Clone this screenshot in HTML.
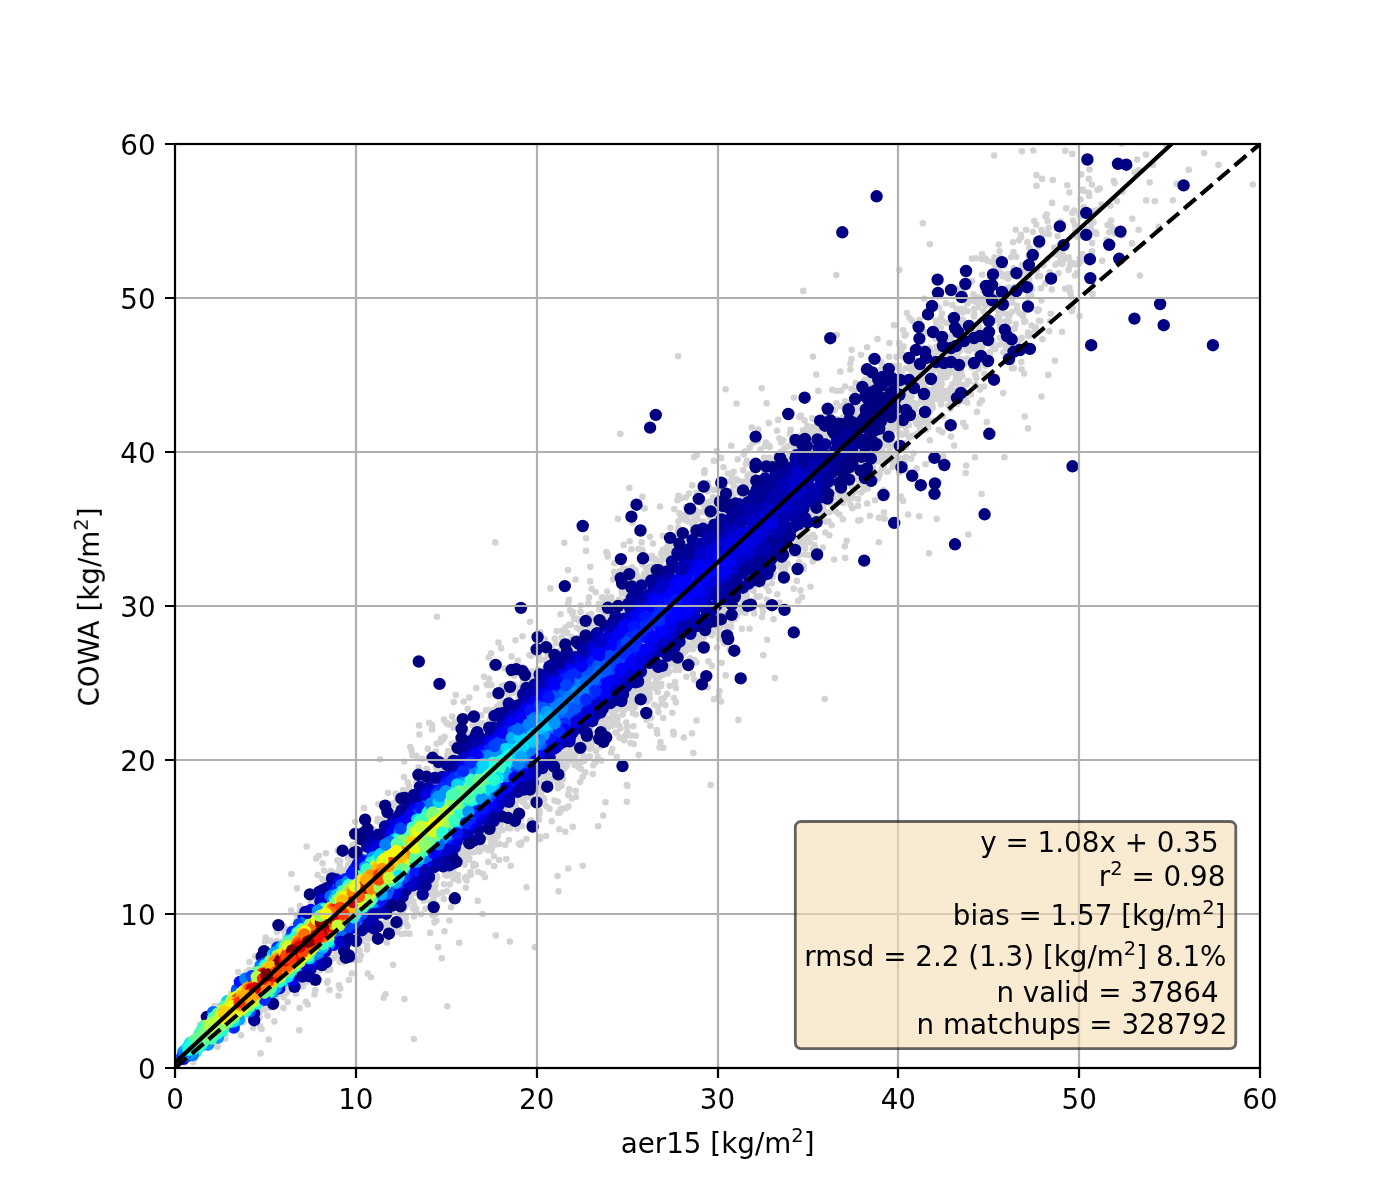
<!DOCTYPE html>
<html lang="en"><head><meta charset="utf-8"><title>COWA vs aer15</title>
<style>html,body{margin:0;padding:0;background:#fff;overflow:hidden}svg{display:block}text{font-family:"DejaVu Sans","Liberation Sans",sans-serif;font-size:27.78px;fill:#000}</style></head>
<body>
<svg width="1400" height="1200" viewBox="0 0 1400 1200">
<rect width="1400" height="1200" fill="#fff"/>
<clipPath id="c"><rect x="175.0" y="144.0" width="1085.0" height="924.0"/></clipPath>
<g clip-path="url(#c)" fill="none" stroke-linecap="round">
<path d="M327.1 982.8h0M985.5 334.2h0M882.5 451.8h0M1036.2 224.7h0M941.7 384.4h0M1049.7 272.2h0M990.3 276.9h0M644.3 694.4h0M582.8 865.7h0M285 935h0M1058.2 228.5h0M962.4 363h0M377.9 818.7h0M472.6 725.1h0M1116.9 201.1h0M813.4 432.8h0M380.8 824.2h0M905.8 446.9h0M430.2 932.9h0M451.9 743.9h0M329.5 990h0M285.9 993.5h0M968.9 362.1h0M700.5 637.8h0M1113.6 180.7h0M626.8 785.1h0M925.1 383.2h0M574.4 765.1h0M621.9 593.2h0M867.1 347.2h0M738.3 490.4h0M504.4 668.3h0M978.4 303.7h0M925.8 394.9h0M758.3 596.8h0M592.2 743.4h0M716 502.9h0M603.2 815.6h0M869.7 384.8h0M560.8 809h0M568 570.1h0M337.6 850.6h0M724.3 643.5h0M912.8 435.6h0M967 402.5h0M558.3 651.2h0M704.3 472.9h0M674.1 698.1h0M413.9 892.9h0M932.6 408.3h0M1079.6 215.1h0M835.8 511.6h0M473.4 845.2h0M895.8 456.2h0M611.1 752.5h0M421.2 914.3h0M414 916.5h0M1068.8 257.4h0M330.2 969.6h0M920.4 431h0M1069.9 265.6h0M533.1 648.9h0M567.1 763.9h0M737.5 602.8h0M499.2 860h0M742.4 607.4h0M416.4 755.9h0M1138.6 229.7h0M806 451.2h0M982 259.1h0M882.4 441.6h0M871.9 471.5h0M938.7 351.8h0M630.1 707.9h0M184.7 1062.8h0M586 550.9h0M784.9 570h0M861 354.8h0M322.5 863.2h0M946 303.3h0M1071.1 296.5h0M836.6 419.1h0M602 597.3h0M435.7 767.6h0M766.1 578.6h0M960.9 361.8h0M649.6 693.9h0M979.6 327.8h0M352.5 845.3h0M1011.8 312h0M1138.8 170.4h0M982.1 254.2h0M518.8 697.1h0M1093.5 222.2h0M1137.1 159.6h0M465.2 877.9h0M456.2 743h0M934.5 386h0M920.1 415.9h0M824.7 699h0M769.4 457.9h0M624.7 706.5h0M561.8 646.8h0M462.3 846.1h0M1031.2 286.4h0M1037.4 310.9h0M1032.9 231.8h0M678.5 495.7h0M735.7 610.2h0M917.2 424.2h0M436.6 743.8h0M636.5 574.3h0M799.1 562.4h0M1023.6 280.9h0M240.9 1035.2h0M918.2 368.6h0M1028.1 297h0M1031.6 325.5h0M534.3 653.3h0M530.1 621.7h0M968.3 534.5h0M419.4 734.6h0M1009.6 340.7h0M745.4 612.9h0M610.6 599.8h0M704.6 470.4h0M348.2 865.1h0M225.5 1035.3h0M550.8 648.2h0M1072.5 212.8h0M341.4 958.1h0M1092.1 251.3h0M879.5 472.7h0M1004.6 332.4h0M938.2 399.3h0M979.9 389.6h0M803.8 566h0M1020.6 290.3h0M708.6 633.7h0M903.2 330.3h0M686.4 676.7h0M953.8 372.2h0M495.3 542.4h0M725.4 482h0M983 285.3h0M1060.7 221.5h0M623.7 544.9h0M494.2 866h0M988.4 331.8h0M867.2 503.6h0M978.2 307.2h0M971 394.5h0M1047.6 220.9h0M619 725.3h0M620.4 728.3h0M662.9 549.7h0M901.7 373.3h0M445.1 874.9h0M599.2 609.5h0M702.4 503.7h0M756.7 596.7h0M754.2 613.5h0M354.8 959.9h0M688.5 648.7h0M265.1 941.5h0M617.8 518.9h0M761.5 606.2h0M899.4 270h0M1017.6 277h0M910.7 367.9h0M620.3 433.9h0M436.9 868.9h0M694.3 679.8h0M207.2 1020.2h0M646.3 572.7h0M517.9 700.5h0M696.5 492.7h0M998.5 311.3h0M952.4 427.5h0M712.9 634h0M1093 281.6h0M911.6 370.4h0M773.7 461.2h0M605.5 802.3h0M563.1 779.2h0M717.9 489.4h0M814.7 435.6h0M1099.9 188.5h0M576.6 753.6h0M920.2 361h0M675.9 688.1h0M742.4 611.8h0M362.4 940.9h0M1097.6 210.1h0M481.7 841.9h0M1065.2 258.7h0M572.8 612.1h0M877.5 339h0M675.3 670h0M795.4 544.3h0M809.4 431.5h0M965.7 473h0M651.7 685.3h0M966.2 465.6h0M875.4 475.1h0M887 445h0M1053.1 254.2h0M678.4 521.4h0M518.9 843.7h0M854.8 409.2h0M899.4 433.3h0M943.2 456.3h0M964.5 338.8h0M1058.5 225.9h0M590.1 581.4h0M1076.3 264.5h0M478.1 872h0M808.6 452.8h0M453.7 702.1h0M1013.4 252h0M517.8 660.5h0M897.6 464.1h0M947 323h0M692 533.1h0M978.6 368.7h0M583.4 755.8h0M836.3 275.1h0M268.7 1039.5h0M774.7 460.7h0M856.6 415.1h0M961 371.5h0M960.1 324.7h0M707.9 483.1h0M554.8 638.6h0M317.6 875h0M518.7 688.2h0M452.2 716.5h0M1048.3 374.9h0M447.3 1006.2h0M988 314.9h0M395.7 793.5h0M631 735.4h0M324.3 883.2h0M628.7 734.6h0M556.7 631.1h0M435.9 912.6h0M884 459.5h0M416.1 908.8h0M930.1 406.7h0M704.4 509.4h0M733.6 485.4h0M745.9 464.1h0M1066.2 208.2h0M521.4 666.9h0M923.9 392.9h0M1046.7 214.5h0M300.1 905.9h0M443.3 739.3h0M657.9 707.5h0M875.1 500.2h0M327.5 970.1h0M942.7 320.8h0M526.5 887.3h0M531.6 798.6h0M795.5 543.7h0M488.5 710h0M842.9 493.1h0M1092.5 293.9h0M432.5 915.3h0M339.9 865.4h0M934 398.9h0M899.2 343.4h0M533.7 677.2h0M726.3 626.3h0M812.1 435.3h0M953.3 391.5h0M1085 228.7h0M523.5 667.6h0M992.5 378h0M194.7 1057.6h0M1083.7 207h0M1065.4 150.9h0M922.8 361.2h0M655.1 558.9h0M731.8 476.1h0M1072.3 153.9h0M495.3 844.4h0M407.9 782.6h0M1055.6 264.6h0M626.6 596.9h0M596.1 751.2h0M832.3 389.7h0M515.5 803.5h0M1082.4 254.4h0M876.1 460.6h0M1023 316.7h0M879.9 474h0M563.5 769.5h0M803.1 430.3h0M974.9 332.1h0M1004.1 307.6h0M463.2 858.1h0M558 801.8h0M577.1 647.8h0M903.7 421.1h0M324.1 870.6h0M412.5 755.2h0M1069.3 192.5h0M942.3 432.3h0M685.3 651.4h0M1022.1 265.3h0M783.6 565.2h0M887 471.7h0M288.2 935.3h0M957.2 288.8h0M1007.6 303.2h0M867.8 488.4h0M281.1 941.6h0M577 627.7h0M850.6 504.9h0M830.8 415.4h0M654.4 704.8h0M1107.6 224.9h0M716.6 627h0M697.6 513.6h0M1016.2 352h0M630.9 698.4h0M560.1 812.5h0M247 972.4h0M822.1 517.3h0M310.6 901.3h0M1055 360.7h0M904.6 402.6h0M560.6 614.3h0M1070.7 262.7h0M962.5 376.1h0M1042.8 234.8h0M777.3 594.2h0M1000.8 273.3h0M791.6 443.2h0M620.5 570.9h0M386.3 922.2h0M569 599.9h0M366.7 826.7h0M762 617.1h0M858.8 480.5h0M933.1 352.4h0M604.3 611.8h0M614.2 571.8h0M809.8 542.2h0M890.5 459.7h0M753.3 586.5h0M915.6 360.6h0M580.2 782h0M883.5 490.4h0M1087.3 212h0M936.1 320.7h0M974.2 308.9h0M851.9 495.7h0M645.3 578.7h0M994.1 155.5h0M903.5 377.2h0M1002.5 313.1h0M1019.6 313.3h0M984.3 373.8h0M932.5 372.2h0M697.9 633.9h0M1250.6 133.2h0M665.9 550.7h0M531.2 671.2h0M923.8 331.6h0M518.3 799.7h0M614.4 563.2h0M694 457.1h0M388.1 792.8h0M723.2 633.2h0M600.7 746.4h0M719.2 638.5h0M763 462.8h0M1205.7 117.7h0M503.3 700.7h0M963.9 309.4h0M892.2 423.9h0M470.9 874.8h0M694.3 660.1h0M1122.4 235.5h0M1031.3 295.4h0M878.2 459.6h0M823.4 511.3h0M1203 118.6h0M589.5 748.8h0M654.8 687.9h0M950.6 367.5h0M824.8 407.3h0M677.6 531.8h0M498.5 693.2h0M589.9 756.2h0M650.4 725.8h0M501 824h0M957.9 402.7h0M797.7 536.4h0M660.5 560.8h0M514.1 675.8h0M1069.3 287.8h0M327.2 967.3h0M978.6 335.1h0M527.4 806.3h0M749.3 474.4h0M590.3 566.8h0M1091.9 184.6h0M705.9 504.2h0M892.2 461.4h0M762.9 611.5h0M812.7 561.4h0M638.7 755.1h0M968.9 350.7h0M383.7 997.8h0M897.4 384.3h0M1082.6 189.5h0M922.1 335.3h0M708.9 487.2h0M1007.5 314.4h0M497.1 706.7h0M961.1 346.7h0M640.2 578.6h0M625.2 735.9h0M767.2 639.8h0M649.9 566.5h0M807.8 537.2h0M453.7 751.9h0M1041.5 396.5h0M552.6 650.3h0M951 388.1h0M793.7 588.7h0M697.5 519.3h0M924.3 298.8h0M746.5 595.6h0M479.1 722.9h0M697.2 645.1h0M354.3 944.2h0M665.3 705.1h0M955.4 390.9h0M269.2 1001.8h0M1036.5 185.9h0M658.4 712.2h0M646.6 719.7h0M453.6 871.7h0M652 570.4h0M987.5 260.7h0M479.9 723.8h0M1034.3 221h0M681.5 664.1h0M772.8 577.1h0M562.5 775.8h0M616.7 756.7h0M1036.7 270.1h0M1025.9 289.3h0M646.6 575.8h0M981.9 400.4h0M488 850h0M627.8 696.7h0M571.9 637h0M1101.5 204.5h0M692.9 674h0M1040.1 276.1h0M917.2 391.5h0M942.9 416.2h0M831.6 525.3h0M878.6 476.5h0M504.7 703.4h0M485 877.1h0M642.4 496.9h0M601.4 726.3h0M888.8 426.8h0M917.6 433.9h0M766.7 599.6h0M607.7 556.4h0M259.5 1012.6h0M1037.5 309.2h0M530.1 821h0M574.6 757.2h0M483 873.9h0M920.4 417.3h0M758.3 429.6h0M751.2 587.7h0M920.8 398.7h0M767.2 605.8h0M813 356.6h0M972.1 281.1h0M327.6 981h0M546.1 806.1h0M828.6 521.4h0M858.5 486.1h0M510.1 828.2h0M672.5 712.8h0M711.8 635.2h0M790 542.8h0M592.8 774h0M936.8 519.1h0M543.6 642.4h0M1035.7 327.4h0M344.6 870h0M799 555h0M829 512.2h0M535.7 792.1h0M1052.8 180h0M648.6 678.6h0M935.1 334.7h0M591.6 588.8h0M538 787.5h0M662.8 535.8h0M812.9 418.7h0M456.5 751.5h0M937.4 360.3h0M1161.8 138.7h0M987.5 360.9h0M567.7 746.1h0M965.3 393h0M709.7 517.6h0M511.5 656.4h0M641.6 542.4h0M595.7 592.3h0M861.1 492.5h0M990.4 298.8h0M405.7 933.6h0M907.2 420.5h0M712 666.1h0M423.4 900.7h0M909.6 410.3h0M367.8 973.6h0M949.9 363.5h0M721 701.6h0M328.6 956.4h0M734.8 618.9h0M412.9 908.5h0M730.8 636h0M928.5 310.3h0M975 457.3h0M1026.3 289.5h0M259.4 1017.4h0M911.5 414.4h0M1092.1 243.1h0M901.6 468.7h0M1081.2 174.4h0M803.2 290.9h0M546.2 836h0M489 678.9h0M1156.6 116h0M986.8 422h0M911.8 388.9h0M714 699.3h0M582.7 777.1h0M1020.8 234.9h0M1029.2 282h0M925.5 464.2h0M507.8 826.5h0M969.9 300.6h0M723.5 467.2h0M725.7 675.4h0M854.9 390.9h0M1000 321.1h0M926.4 423.5h0M909.3 437.2h0M669.6 685.9h0M600.8 727.5h0M911 358.9h0M498.5 642.5h0M575.1 755.8h0M1019.3 340.4h0M595.7 723h0M588.3 603.4h0M486.1 710.3h0M1021.7 337.9h0M940.8 327.3h0M974.6 301.3h0M348.1 870.2h0M427.4 769.5h0M713 497.4h0M451.2 873.8h0M698.2 637.5h0M1252.8 184.5h0M293.4 925.5h0M922.7 400.9h0M488.7 657.5h0M453.5 727.6h0M611.2 597.3h0M1029.3 247.9h0M1089.5 169.5h0M789.3 455h0M813 549.3h0M455 722.4h0M989.7 356.3h0M986.6 329.8h0M955.4 348.9h0M684.5 646.5h0M929 347.8h0M1013 242.3h0M291.6 928.5h0M817.2 516.3h0M438.1 947.1h0M874.8 370h0M408.2 790.2h0M940.9 381.2h0M802 597.3h0M922.9 363.7h0M461.4 857.6h0M963.7 364.2h0M299.6 1008.1h0M694.3 517.1h0M521.5 842.5h0M285.1 940h0M1028 332.5h0M645.9 568.1h0M1014.7 328.7h0M1015.3 345.3h0M760.6 449.5h0M712.8 632.6h0M249.5 962h0M966.3 360h0M998 316.3h0M972.8 364.7h0M843.7 497h0M265.7 937.5h0M686.3 537.1h0M982.2 274.8h0M519.6 814.4h0M949.3 392.9h0M1046.8 233.5h0M622.7 714.5h0M1008.1 278.5h0M905.8 470.4h0M382.4 936.6h0M253.1 1027.8h0M822 431.6h0M442.3 769.2h0M390.1 925h0M678.3 669.4h0M442.7 892.6h0M1083.1 190.7h0M736.6 403.5h0M546.8 652.6h0M261.4 1008.6h0M849.4 500.1h0M370.9 977.2h0M909.8 473.6h0M515.3 672.2h0M958.8 391.9h0M731 626.9h0M983 290.5h0M543.6 798h0M882 365.3h0M612.9 579.6h0M725.6 389.3h0M1015.8 324.1h0M955.6 379.3h0M434.6 886.9h0M768.9 591h0M426.3 768.8h0M271.9 950.5h0M719.7 633h0M575.9 797.1h0M716.7 451.3h0M565.3 831.8h0M1070.3 292.2h0M624.2 707.1h0M999.8 326.2h0M851.5 359.1h0M928.1 380.2h0M809.4 555h0M1075 225.2h0M652.9 543.6h0M855.7 383.1h0M449.4 920.5h0M1024.2 373.5h0M1056.3 250.7h0M1030.2 333.6h0M895.8 443h0M982.3 285.9h0M844.8 546.3h0M367.1 949.5h0M801.2 534.5h0M660.5 742.1h0M338.5 995.8h0M651.3 717.7h0M973.9 327.7h0M634.8 707.1h0M919.2 377.8h0M1096.1 211h0M982.1 347.2h0M231.3 993.7h0M891.2 422.3h0M296.9 888.4h0M577.2 618.7h0M497.1 665.2h0M403.7 915.3h0M974.3 314.6h0M752.9 443h0M736.8 615.4h0M851.6 486.9h0M515.1 815.8h0M817.3 429.5h0M743.3 470.3h0M716.3 498.2h0M932.6 358.6h0M930.1 400.2h0M631.4 549.2h0M652.3 674.8h0M548.3 772.5h0M357.4 946.1h0M771.8 575h0M606.3 598.3h0M1019.3 275.8h0M696.9 455.1h0M966.1 384.4h0M1067.3 185.2h0M1036.4 175.1h0M586.1 538.2h0M646.7 687.8h0M1017.1 305.7h0M525.3 797.9h0M591.5 740.6h0M929.9 440.3h0M402.5 909.8h0M567.2 632.8h0M1012.4 302.6h0M950.3 408.8h0M1041.5 230.1h0M328.3 955h0M266.4 940h0M888 427.6h0M899.8 418.7h0M1084.9 236h0M641.6 581.4h0M311.4 904.4h0M1134.6 172.6h0M879.8 451.9h0M929.7 348.2h0M534.7 675.2h0M501.6 818.9h0M764.3 470.7h0M584.1 761.1h0M1113.5 229.8h0M840.3 371.6h0M534.8 947.2h0M1060.5 261.2h0M984 386.5h0M919.5 319.8h0M740.9 609.1h0M923.6 378.1h0M1003.9 335.5h0M225.2 1038.8h0M874.6 454.8h0M1014 287h0M886.8 425.8h0M739.6 493.3h0M935.9 378h0M635.9 735.8h0M731.3 445.7h0M911.1 458.7h0M945.2 337.9h0M1062.8 253.8h0M944 391h0M512.5 693.1h0M873.2 468.2h0M504.4 691.1h0M850.3 369.5h0M404.3 761.5h0M967.2 358.5h0M605.7 721.5h0M339.8 962h0M485.3 848h0M413.9 1039h0M1065.1 288.8h0M967.8 325.4h0M981.6 494h0M644.5 508.4h0M626.9 801.7h0M1022.5 270.1h0M969.4 350.3h0M925 403.4h0M833.3 509.6h0M673.8 734.4h0M663.2 718h0M460.5 862.1h0M898.5 459.8h0M446.9 891.3h0M724 611.9h0M800.7 536.5h0M977 353.1h0M1057.6 236.1h0M903.9 419.4h0M315.3 990.4h0M914.8 403.2h0M989.6 343.7h0M531.3 820.2h0M359.5 959.9h0M810.5 427h0M1118.1 231.3h0M1028.6 255.9h0M764.1 457.5h0M580.9 768.7h0M945.6 346.4h0M794 397.5h0M568.3 868.5h0M730.6 634.7h0M478.1 847.3h0M506.3 859.1h0M334.2 958.1h0M991.6 305.6h0M1089.2 196h0M1063.3 224.3h0M790.6 429.9h0M1012.5 292h0M692.7 649.2h0M949.2 337.1h0M627.3 597.9h0M915.6 421.7h0M668 673.4h0M568.9 746.4h0M882.1 443.1h0M1106.7 239.7h0M967.8 311.2h0M469.3 858.3h0M910.1 364.3h0M983.5 311.4h0M771.7 472.5h0M789.5 454.2h0M482.9 723.3h0M513.9 806.5h0M915.8 370.1h0M870.2 379.6h0M910.3 359.7h0M508.2 828.1h0M1018.9 240.3h0M864.4 489.7h0M561.1 759.1h0M761.7 388.2h0M217.6 1046.9h0M430.5 893.7h0M663.3 747.7h0M283.4 1008h0M936.5 323.4h0M480.2 850.9h0M482.9 846.2h0M928.2 427.2h0M728.4 610h0M441.7 958.3h0M694 637h0M435.5 881.7h0M449.7 884.4h0M424.6 900.1h0M373 829.1h0M669.1 671.9h0M675.1 682.1h0M667.1 694.1h0M795.3 530.7h0M930.6 369.6h0M901 496.6h0M565.9 753.8h0M522.8 682.2h0M940.5 374.5h0M975.3 374.2h0M591.1 613.9h0M722.8 607.4h0M967.4 303.5h0M1003 276.4h0M533.2 680.8h0M872.5 464.1h0M1037.8 276.3h0M909.4 317.7h0M733.2 495.8h0M731.4 620.8h0M1016.3 256.8h0M941.3 361.8h0M1021.1 237.3h0M1049.2 331.2h0M994.5 257.3h0M617.8 716.9h0M1152.9 165.1h0M740 600.8h0M487.9 837h0M615.5 710.4h0M938.7 391.3h0M845.1 386.5h0M434.4 774.2h0M497 694.2h0M893.4 454.1h0M443.8 899h0M1029.2 279.3h0M444.6 736.9h0M821.3 425.5h0M1013.9 368.3h0M582.6 625.9h0M448.8 724.4h0M950.9 322h0M1132 243.4h0M984.9 258.2h0M568 603.8h0M520.4 845.1h0M1009 321.8h0M396.9 798.9h0M442 869.3h0M409.9 900.1h0M392.1 912.1h0M887.3 386.6h0M657.3 733.6h0M385.5 994.3h0M284.5 987.3h0M908.9 390.9h0M941.9 396.4h0M1040.4 321h0M627.4 785.9h0M920.9 430.7h0M1111.2 220.6h0M623.2 568.6h0M718.8 487.7h0M970.7 336.7h0M975.4 363h0M729.6 649.2h0M519.3 700.2h0M453.6 878.9h0M437.2 877.8h0M811.1 448.9h0M659 676.9h0M889.1 356.7h0M224.6 1031.6h0M797.9 543.4h0M796.9 580.9h0M575.7 790.7h0M929.4 399.8h0M826.2 521.5h0M300.4 985.7h0M312.3 899.7h0M483.9 676.8h0M962.7 312.6h0M994 295.6h0M1091.4 223.7h0M884.8 426.3h0M540.1 839.1h0M350.8 861.7h0M1093.4 210.9h0M404 777h0M970.2 330.2h0M672.7 663h0M827.5 512.5h0M414.5 905.9h0M661.5 698.7h0M963 341h0M939 307.5h0M809.6 440.2h0M973.9 347.9h0M717.1 507.6h0M465.4 845.5h0M269.5 1007.8h0M1020 273.8h0M988.6 340.3h0M328.7 873.3h0M578.8 620.8h0M496.8 827.1h0M622 709.2h0M914.8 375h0M687.5 515.1h0M539.2 783h0M214.6 1006h0M387 926.7h0M481.1 843h0M1146.2 200.4h0M787.5 547.2h0M958.8 341.2h0M359.5 950.6h0M296.3 921h0M903 397h0M473.8 721.1h0M631.1 703.2h0M489.5 695h0M922.6 410.2h0M942.4 354.6h0M509.8 941.6h0M931.7 403h0M361 955.5h0M504.7 685h0M677.4 500.2h0M318.7 855.9h0M800.1 530h0M436.9 616.8h0M911.1 388.9h0M951 404.8h0M643.2 688.9h0M1006.3 320.8h0M383 819.3h0M538 669.4h0M1204.2 153.1h0M510.8 865.7h0M994.8 308.3h0M919.7 351.6h0M992.7 346.3h0M937.3 387.2h0M773.6 619.2h0M887.9 471.5h0M901.8 434.8h0M1027.4 242.2h0M834.1 559.5h0M593.2 765.3h0M499.2 821.8h0M510.1 673.9h0M952.6 384.2h0M916.6 468.4h0M606.5 612.9h0M1045.5 216.3h0M732.8 652.2h0M810.5 586.8h0M1021.8 151.2h0M356.9 933.2h0M913.1 409.3h0M999 317.1h0M985.8 334.6h0M519.7 689.6h0M871.1 468.8h0M653.4 574.7h0M800.9 415.5h0M491.1 653.3h0M560.7 650.5h0M644.7 684.7h0M536.9 792.4h0M627.5 569.1h0M451 907.3h0M633 713.1h0M621.3 600.7h0M1004.4 457.3h0M439 770.9h0M920.1 374h0M1026.6 275.9h0M914.9 383.9h0M698.4 644.1h0M1051.8 289.5h0M238.1 972.1h0M914.6 388.2h0M466.6 880.5h0M283.6 926.8h0M931.1 361h0M718.6 696.2h0M927.9 390.5h0M894 325.3h0M495.8 935.6h0M967.1 350.2h0M833.4 497.8h0M901.8 356.3h0M619.7 708.5h0M1023.1 314.4h0M962.9 319.7h0M499.1 843.9h0M936.4 306.6h0M948.3 405.5h0M570.8 624.7h0M501.2 648.2h0M604.7 601.5h0M818.4 390.9h0M522.1 826h0M633.4 726.3h0M530.4 795.7h0M188 1059.3h0M908.7 388.4h0M1172.9 200.2h0M909.1 404.3h0M942.9 356.9h0M749.7 447.6h0M999.8 272.6h0M833.8 491.8h0M582.6 636.4h0M769.6 447h0M1068.7 269.9h0M1054.2 247.6h0M526 805.4h0M340.1 861.1h0M390.7 912.8h0M1004.6 298.9h0M558.2 812.9h0M738.4 719.9h0M286 937.9h0M952.7 350.7h0M602.4 724.1h0M977.5 297.4h0M1011.2 257.1h0M907.6 384.4h0M1110.4 205.8h0M958.7 311.6h0M490.1 719.7h0M708.4 512.6h0M591.3 627.9h0M978 337h0M670.4 527.8h0M719.8 629.1h0M484.1 836.6h0M536.3 672h0M850.4 363.5h0M906.9 313.1h0M999.5 251.2h0M666.3 558.8h0M1109.3 232.3h0M798.5 539.8h0M905.5 426.9h0M435.8 913.8h0M562.1 630.8h0M901.2 348.9h0M753.5 473.3h0M804.6 420.6h0M945.5 361.5h0M892.6 430.4h0M838.9 501.2h0M306.3 982.1h0M463.7 701.5h0M428.5 891.6h0M512.5 812h0M1071.8 311.3h0M428.8 888.3h0M610.2 599.2h0M606.1 610.6h0M431.8 882.8h0M686 507.3h0M738.8 480.7h0M910.4 400.8h0M926.8 415.7h0M627.1 732.1h0M929 553.2h0M690.3 658.4h0M585.3 772.4h0M425.1 774.1h0M839.9 494.9h0M260.6 1053.4h0M429.2 722.9h0M327.5 881.7h0M778.3 566.5h0M937.4 347.3h0M485.7 847.7h0M853.3 412.8h0M516.6 800.1h0M852.4 508.2h0M509.4 699.4h0M964 331.3h0M629.3 581.3h0M498 833.8h0M1013.8 268.4h0M868.2 385.6h0M919.2 516.2h0M1218.4 164.8h0M487.6 685h0M878 478.7h0M572.7 826.9h0M454.2 747.6h0M843.1 502.9h0M882.8 391.5h0M976 377.3h0M589.1 597.4h0M906.1 457h0M382.5 824.5h0M1075.6 235h0M744.8 451.5h0M597.8 757.2h0M752.2 466h0M418.7 767.3h0M693.8 519.2h0M584.6 758.4h0M1057.5 263.2h0M957.7 352h0M792.3 456.7h0M674.3 509.1h0M553.4 778.6h0M922.8 223.3h0M455.8 695.1h0M532 671.9h0M1079.5 315.9h0M348.3 867h0M409.5 933.7h0M918.5 370.4h0M879.4 455.4h0M243.3 1022.3h0M444.7 774.1h0M249.5 969.8h0M829.4 535.2h0M948.5 398.8h0M911.1 376.3h0M514.7 684.6h0M565.4 627.5h0M910.8 412.9h0M630.6 743.1h0M611.4 725.5h0M331 871.1h0M1145.4 116.2h0M789.9 433.7h0M401.6 934h0M319.3 970.4h0M580.7 605.5h0M653.9 571.4h0M563.6 757.7h0M812.8 534.8h0M338.3 850.3h0M709.8 627.1h0M404 908.1h0M688 521.3h0M962.2 334.5h0M570.1 610.4h0M863 382.2h0M692 733.2h0M1038.6 246.6h0M998.8 244.5h0M900.7 458.5h0M699 631.1h0M475.8 864.9h0M840.7 406.2h0M568.4 806.2h0M1088.5 192.8h0M249.3 1016.4h0M781.2 572.3h0M932.2 379.7h0M725.6 625.3h0M464.7 864.7h0M379.9 759.3h0M661.2 683.8h0M985.4 365.8h0M952.3 305.1h0M1111.4 227h0M738.9 488.3h0M403 790h0M660 506.5h0M741.7 493.6h0M1119.7 231.2h0M858.1 407.3h0M678 356.2h0M834.9 410.1h0M999.2 344.7h0M656.3 679.6h0M953.9 343.1h0M923.3 389.4h0M469.3 697.6h0M958.8 398.5h0M405.4 906.5h0M778.1 419.9h0M434.4 922.4h0M416.3 891.6h0M566.1 755.4h0M734.7 601.9h0M757.7 440.8h0M340.3 988.6h0M355.1 821.8h0M1052.1 202.9h0M1045.4 283.4h0M559.4 829.2h0M392.8 928.8h0M612.8 725.7h0M580.5 612h0M588.8 742.9h0M483.7 834.8h0M783.1 567.9h0M422.5 774.4h0M491.2 844.1h0M630.4 577.3h0M997.6 286.4h0M836.5 403.3h0M393.8 804.9h0M300 911.1h0M647.4 678.4h0M696.5 720.5h0M610.5 718.8h0M364.1 808h0M1011.2 329.4h0M678.1 527.9h0M1146 154.5h0M923.5 383.7h0M973.2 360.4h0M721.6 662.9h0M747 460.9h0M634.2 579h0M493.7 710.4h0M544.5 780.2h0M777 430.8h0M794.8 545.6h0M624.1 709.9h0M567 765.1h0M316.1 858.4h0M611.3 717.2h0M531.1 655.8h0M535.7 789.4h0M1077.8 237h0M638.2 689h0M847.6 494.9h0M904.7 335.8h0M655.9 560.1h0M522.6 636.3h0M312 903.3h0M476.5 722h0M1154.8 201.2h0M845.1 401.4h0M564.3 542.7h0M935.5 352.3h0M980.5 345.8h0M1042.1 178.9h0M776.7 563.1h0M850 403.3h0M871.6 476.2h0M1027.2 350.5h0M460.5 851.6h0M702.2 511.8h0M832 492.5h0M200.1 1024.5h0M296.2 993.8h0M548.6 778.5h0M556.9 780.3h0M665.6 567.4h0M934.2 393.6h0M800.5 590.4h0M399.6 926.8h0M463.4 852.4h0M979.6 403.2h0M467.7 708.8h0M989.4 321.4h0M539.9 782.3h0M937.6 350h0M685.9 497.3h0M1074.3 210.5h0M946.6 356.5h0M598.1 826.2h0M273.1 996.2h0M844.6 498.6h0M519.1 693.1h0M830.4 503.2h0M458.4 880.6h0M721.4 615.3h0M698.2 643.1h0M934.5 353.1h0M714.5 624.6h0M1016.8 309.8h0M915.9 363.4h0M595.1 762.8h0M749.7 484.8h0M979.9 298.3h0M521.1 692.1h0M645.6 679.3h0M747.6 475.9h0M803.5 569h0M497.5 836.5h0M823.5 505.2h0M780.7 452h0M931 460h0M468.2 859.7h0M1005.7 348h0M448.1 751.1h0M518.1 671.5h0M572.4 613.7h0M753.1 488.9h0M368.7 938.5h0M753.7 591.1h0M526.9 793.9h0M1027.7 271.8h0M444.5 931.3h0M935.5 392.5h0M929.8 244.2h0M766.1 586.2h0M903.7 446.6h0M516.2 800h0M804.8 543.6h0M417.7 778.8h0M435.5 885h0M650.7 671.9h0M743.7 454.6h0M578.1 742.8h0M989.8 352.4h0M1121.8 143.5h0M912.4 379h0M806.6 530.2h0M859.1 462.1h0M782.6 441.3h0M302.7 986.4h0M836.1 504.5h0M675.9 702.4h0M334 950.3h0M703.2 521.7h0M540.4 632.3h0M973.8 336.3h0M718.4 610.4h0M606.1 727.9h0M921 382.2h0M915.5 409.3h0M865 464.6h0M629.7 541.3h0M1072.8 307.5h0M999.9 312.8h0M1075 275.6h0M903.6 346.6h0M216.7 1045.4h0M631.5 691.2h0M453.4 869.9h0M615.5 732.5h0M270.6 940.8h0M1010.9 343h0M904.5 387.8h0M1000.3 257.9h0M673.2 731.8h0M1028.9 262.6h0M458 856.8h0M619 599.5h0M564.3 647.8h0M776.2 455.8h0M696.7 510.6h0M518.2 667.5h0M703.8 637.6h0M248.6 1013.5h0M1003.8 341.8h0M427.8 748.9h0M466.3 731.1h0M768.9 445.6h0M627.5 691.2h0M629.6 517h0M725 624.5h0M577.3 762.1h0M822.8 547.6h0M1047.2 259.3h0M930.8 380.9h0M881.4 362.3h0M961.2 374.4h0M447.1 755.6h0M845.2 558.1h0M635.9 701h0M661.8 703h0M730.1 500.6h0M503.5 692.2h0M1025.3 321.2h0M499.9 708.9h0M746.5 594.3h0M892 365.5h0M924.8 348.7h0M486.7 684.5h0M1097.5 189.7h0M975.7 341h0M384.1 924.6h0M992.9 262.3h0M899 368.3h0M958.8 370.6h0M508.6 694.9h0M709.7 501.7h0M512.3 800.1h0M464.2 843.6h0M959 378.3h0M909.6 381.6h0M1090.9 229h0M430.7 902.3h0M587.8 744.5h0M650 536.7h0M663.7 698.2h0M1080.3 261.4h0M1058.7 255.4h0M260.2 1026.4h0M338.9 985.4h0M362.1 936.1h0M541.3 792.5h0M674.7 662.2h0M727.9 473.5h0M568.5 793.6h0M931.5 334h0M1004.3 265.6h0M378.3 804.1h0M949.9 359.5h0M379.1 924.9h0M582.2 739.2h0M647.4 701.6h0M928.9 376.5h0M976.1 299.3h0M653.6 565.9h0M464.5 843.1h0M626.3 600.3h0M681.3 648.7h0M971.8 340.3h0M564.8 757.1h0M1028 428.4h0M575.6 579.5h0M557.5 876.1h0M957.4 333.1h0M441 738.6h0M860.3 403.3h0M555.9 643.2h0M932.6 357h0M495.2 833.1h0M433.2 900.1h0M695.3 522.9h0M897.4 427.5h0M963.6 291h0M644.3 689.5h0M938.8 429.7h0M291.1 910.6h0M807.5 426.3h0M214.9 1007.9h0M629.3 487.9h0M987.8 335.2h0M1009.3 315.6h0M942.5 365.6h0M1024.7 416.6h0M884 465.5h0M351.7 865.2h0M666.7 553.6h0M432 725.1h0M926.2 429.6h0M405.8 917.7h0M520.5 669.3h0M475.7 721h0M971.9 258.6h0M282.2 929.6h0M785.1 569.3h0M956.3 330h0M457.6 755.3h0M890.3 421h0M617.8 705.3h0M952.7 334.4h0M947.2 365.3h0M946.8 370.3h0M561.8 637.4h0M1026.1 229.7h0M450.3 756.1h0M805.2 548.4h0M917.9 403.7h0M476.2 688.1h0M581.6 632.9h0M727.1 613.1h0M512.5 809.6h0M230.8 1029.7h0M759.9 596.2h0M684.9 514.7h0M410.5 791.7h0M588.4 615.4h0M933.5 382.6h0M764.8 446h0M936.5 346.5h0M633.7 744h0M585.2 741.9h0M937.3 369.5h0M327.7 958.4h0M599.2 616.9h0M679.1 669.9h0M660.2 673.2h0M267.5 1015.6h0M947.8 370.7h0M805.1 554.4h0M499.7 704.1h0M632.1 704.6h0M813.7 427.4h0M473.3 866h0M826 434.1h0M860.3 520.1h0M683.3 644.7h0M562.9 808.6h0M816.2 374.6h0M926.7 403.9h0M558.1 788.3h0M539.1 655.2h0M815.1 548.1h0M632.7 522.8h0M580 737.3h0M528.1 674.3h0M612.2 749h0M615.8 717.4h0M1015.1 294.9h0M648.1 684.6h0M851.4 475.1h0M612.9 722.4h0M922.8 376.1h0M306.6 846.5h0M902.7 347.4h0M956.9 354.9h0M1096.5 234h0M659.3 670.2h0M429.8 883.5h0M1030 294h0M650.6 667.9h0M992.6 306.7h0M844.8 406.7h0M809.3 508h0M638.4 549h0M878.9 370.6h0M264.3 1009.5h0M1005.9 345.3h0M753.7 608.4h0M957.2 362.4h0M325.8 853.3h0M746.9 599h0M997.1 298.8h0M615.9 575.9h0M440.3 742.2h0M934.9 329.1h0M482.6 914.1h0M436.4 920.8h0M220 1005.5h0M605.2 618.7h0M276.8 941.1h0M984 288h0M1003.4 352.3h0M1088.7 178.8h0M823.6 504.3h0M745.4 602.5h0M843.2 416.9h0M907.5 395.8h0M938.7 377.5h0M336.5 873.2h0M917.2 373.2h0M980.7 350.5h0M956.3 374.9h0M314.5 896.3h0M633.1 695.1h0M598.7 603.9h0M669.6 663.2h0M931.7 358.4h0M549.5 808.9h0M900.2 352.3h0M1040.7 288.3h0M632.3 567.4h0M322.4 967.7h0M724.5 516.3h0M963.2 422.7h0M818.1 558.4h0M763.3 655.2h0M469.1 852.4h0M468.7 859.7h0M299.3 1030.2h0M942.5 399.6h0M569.7 641h0M1032 288.9h0M929.5 404.4h0M946.7 377.1h0M982 320.8h0M907.3 379.4h0M367.2 945.4h0M933.3 389.3h0M940.6 371.7h0M443.9 719.6h0M522.8 802.1h0M446.4 722.9h0M1004.5 339.5h0M283.5 992.8h0M578.5 647.6h0M407.8 794.2h0M444 884.2h0M488.8 723h0M308.1 979.8h0M977 411.9h0M1102.3 260.7h0M392.8 812.5h0M544.9 668.3h0M977.6 346.7h0M422.4 898.3h0M812.4 418.3h0M874.4 387h0M642.5 691.4h0M647.6 676.4h0M563.1 747.5h0M603.4 608.7h0M895.2 422.9h0M1004.5 333h0M768.8 423.1h0M932.8 307.8h0M989.9 360.3h0M517.2 828.6h0M908.1 514.5h0M977.1 352.4h0M1080.6 199.5h0M489.7 721.4h0M506.3 805.7h0M554.5 800.5h0M399 916.1h0M912.2 320.9h0M683.8 737.6h0M713.9 490.1h0M1021.3 362.1h0M900.9 424.8h0M646.1 670.8h0M478.9 851.6h0M712 508.4h0M1022.7 284.4h0M1062 331.8h0M393.1 964.7h0M507.5 812.1h0M1058.5 273.2h0M973.9 316.4h0M667.2 566.5h0M975.4 336.9h0M544.9 659.5h0M927.7 394.1h0M684.8 519.7h0M592.1 748h0M725.3 603h0M693.4 753h0M637.2 531.8h0M948.2 374.1h0M571.9 798.6h0M490.6 838.8h0M958 325.8h0M604.7 713.8h0M918.9 424.5h0M1078.9 263.7h0M889.8 449.5h0M906.3 432.1h0M839.5 514.5h0M1015.3 275.6h0M606.4 552h0M557.3 782.1h0M892.2 442h0M493.9 856.2h0M354.2 862.2h0M693.7 511.9h0M902.7 402.8h0M568.3 795h0M291.4 874h0M490.6 848.7h0M305.2 979.4h0M692.5 525.6h0M646.7 556.6h0M980.3 387.1h0M432 729.4h0M841.1 390.5h0M749.6 628.8h0M941.9 348.9h0M522.5 683.7h0M955.3 365.1h0M635.4 570.1h0M557.5 783.1h0M623.7 573h0M942.6 396.1h0M545.6 771.4h0M439.9 766.5h0M565.6 767.2h0M466.2 848.4h0M858.3 520.6h0M355.8 843.7h0M910.7 417.9h0M558.3 754.7h0M528.7 682.4h0M929.1 394.4h0M971.7 367.6h0M901.5 387.9h0M407.5 926.3h0M348.1 858h0M447.1 875.8h0M333.2 872.8h0M733.7 471.8h0M908.2 397.5h0M911.3 369.9h0M571.6 760.1h0M521.1 818.7h0M904.1 354.7h0M502.5 830h0M623.5 575.1h0M937 378.8h0M493.7 836h0M896 387.6h0M825.3 436.3h0M539.7 811.1h0M662 559.9h0M918.3 419.8h0M966.7 346.8h0M578.6 767.3h0M787.8 446.5h0M1081.9 254.6h0M833.1 488.3h0M930.6 421.7h0M642.1 564.1h0M923.4 347.9h0M864.8 402.1h0M550.4 588.4h0M698.3 641.7h0M470.4 872.1h0M550.3 772.3h0M475.1 724.8h0M593 740.1h0M994.3 276.9h0M716.8 516.6h0M284.4 990.6h0M699.8 642.7h0M852.7 497.5h0M751.7 427.5h0M287.8 1002.1h0M961.8 308.7h0M1122.4 191.6h0M255.4 968.4h0M708.5 661.4h0M348.1 870.6h0M958.9 380h0M912.8 402.5h0M935.7 395.3h0M742.2 498.1h0M689.7 646.9h0M943.1 374.1h0M413.4 901.2h0M1109.6 140.6h0M593.1 619.2h0M944.5 334h0M899 365.8h0M467.8 733.8h0M365.9 935.6h0M958.8 345h0M422.4 758.7h0M398.3 915.4h0M909.7 386.2h0M998 268.5h0M855.3 406.3h0M312.6 900.2h0M783.3 440.4h0M787.9 563.8h0M890.5 443.6h0M825.3 532.5h0M510.3 807.3h0M656.7 730h0M880.5 436.8h0M598.1 718.9h0M793.4 553.7h0M913.5 453.6h0M644.2 675.9h0M962.1 339.4h0M1081.2 216h0M814.6 537.2h0M896.7 420.4h0M866.6 386.1h0M570 751.1h0M561.6 785.8h0M708.9 524h0M488.3 861.9h0M446.9 758.9h0M986 329.7h0M342.7 962.1h0M987.4 303.8h0M960.9 370.4h0M491.6 684.9h0M945.7 391.2h0M614.7 602.8h0M925.9 357.2h0M741.8 628.8h0M411.6 750.4h0M944.6 350.7h0M902.4 379h0M627.1 726.8h0M997 295.7h0M617.4 719.5h0M668.3 666.4h0M283.5 997.1h0M603.9 719h0M1028.4 281.1h0M349.7 854.9h0M857.5 415.9h0M659.6 747.4h0M540.5 780.9h0M683 542.1h0M464.9 727.5h0M927 374h0M924.1 371.7h0M638.2 580.7h0M784.1 448.9h0M558.5 891.2h0M781.1 442.5h0M724.1 486.8h0M798.2 600.9h0M604 611h0M434.2 889.9h0M995 349h0M540.3 836.9h0M649.7 698.4h0M890.8 454.3h0M1122.7 165.5h0M965.9 399.9h0M665.7 549.1h0M692.3 485.4h0M307.7 1004.5h0M864.9 379.8h0M1165.6 144h0M680.9 498.2h0M869.9 515.8h0M710.6 785h0M651.9 555.7h0M436.5 875.6h0M799.3 417.1h0M435.9 751.6h0M932.4 405.8h0M458.1 875h0M975.6 384.6h0M657.7 692h0M1115.3 233.6h0M606.7 710.9h0M900.2 416.9h0M933.8 393.3h0M590.9 729.9h0M540.2 660.3h0M956.6 308.7h0M588.6 725.2h0M1035.4 329.1h0M995.2 265.1h0M543.2 771.6h0M385.4 820h0M883.6 444h0M515.5 640.2h0M1033.2 150.5h0M823.7 416.5h0M583.7 748.4h0M707.5 490.9h0M785.4 459.5h0M871.9 453.5h0M948.9 338.4h0M563.6 745.8h0M496.3 696.7h0M988.8 298.2h0M465.8 856.3h0M981.8 298.6h0M949 394.3h0M415.7 910.9h0M459.2 942.8h0M1013.6 350.6h0M335 949.7h0M788.3 548.3h0M1188.7 169.7h0M996.9 258.9h0M538.9 778.4h0M931.8 360.6h0M800.1 544.8h0M713.9 460.9h0M666.8 547.4h0M812.1 442.6h0M501.7 686h0M984.2 303.2h0M959.7 350.7h0M722.4 602.7h0M1138.1 142.1h0M719.5 691.1h0M607.2 591.6h0M948.9 370h0M1162.6 118.4h0M273.7 943.9h0M353.3 932.2h0M934.2 420.5h0M803.1 529.3h0M585 744h0M965.2 333.2h0M189.4 1039.8h0M670.8 555.2h0M662.7 674.9h0M626.2 722.5h0M940.1 377.6h0M411.2 894.9h0M779.4 602.5h0M599.2 745.3h0M895 366.6h0M550.1 781.1h0M765.8 442.6h0M971.7 345.3h0M929.9 365.3h0M339.5 868.8h0M501.1 705.1h0M595.9 733.4h0M854.9 478.3h0M935.3 338.4h0M369.8 934.6h0M561.2 763.7h0M804.1 435.4h0M673.7 543.6h0M642.5 549.8h0M941.9 313.5h0M927.3 419.4h0M549.4 783.6h0M641 580.9h0M899 472.4h0M774.8 678.1h0M860.1 413.9h0M841.5 497.3h0M934.2 392.4h0M960.9 342.3h0M621.4 602h0M901 411.1h0M1024.2 322h0M322.2 878.9h0M544.7 639.4h0M572.9 652.6h0M876.8 478.9h0M820.8 437.9h0M433.5 871.4h0M692.5 641.3h0M858.1 505.9h0M797.2 546.7h0M628.7 695.2h0M584.2 744.9h0M569.3 789h0M907.6 416.7h0M1008.4 332h0M1062.3 264h0M362.4 939.8h0M607.3 553.4h0M580 629.1h0M473.5 863.7h0M351.8 973.5h0M297.9 985h0M434.6 754.1h0M925.3 355.1h0M929.2 351.9h0M914.7 378.6h0M700.5 628.8h0M581.8 760h0M815.3 441.4h0M836.8 334.8h0M542.7 774.8h0M436.1 775h0M886.1 455.8h0M569.4 624.5h0M814.3 545.3h0M766.6 403.3h0M420.2 897.5h0M574.3 618.9h0M747.8 480.9h0M1050.7 313.8h0M467.3 716.2h0M801.2 435.5h0M337.5 860.4h0M813.7 514.6h0M492.1 847.5h0M889.5 343.1h0M948.5 368.6h0M693.2 647.4h0M481.2 715.4h0M881.7 468.6h0M193.3 1062.1h0M878.9 542.3h0M473.5 852.2h0M458.3 726.6h0M405.8 923.2h0M904.5 462.4h0M1003.2 393.1h0M1114.5 183.1h0M274.4 1021.4h0M342.1 873.1h0M869.7 467.4h0M314.5 994.5h0M511.5 702.5h0M992.6 341.3h0M336.7 955h0M929.5 412.4h0M1012.1 362h0M722 623.7h0M979.2 364h0M1079.6 258.6h0M521.3 797.2h0M948.6 390.3h0M576 764.8h0M892 430.9h0M1012.3 298.1h0M743 597.5h0M593.6 626.2h0M883.9 512.6h0M804.5 536.6h0M950.3 346.9h0M655.6 688h0M218.2 1008.9h0M911.3 396.8h0M940.7 318.5h0M1028.3 335.8h0M396.7 931.9h0M747.9 588.9h0M722.7 615.7h0M1026.3 278.2h0M904 391.7h0M744.8 592.1h0M544.2 787.9h0M261.6 1029.1h0M541.5 798.9h0M895.3 464.3h0M689.1 493.6h0M743.1 498.1h0M672.8 553.7h0M951.4 337.8h0M743.3 481.7h0M543.3 776h0M989 343.2h0M668.4 543.7h0M779.4 438.3h0M565.9 808.3h0M547.6 654.6h0M914.3 352h0M627.9 593.7h0M316 975.1h0M773.6 572.9h0M731.3 491.3h0M707.1 502h0M636.6 691.9h0M614.1 710.5h0M410.2 747.1h0M441.6 760.5h0M821.8 511.9h0M1041.5 300.5h0M892.4 466.9h0M1021.6 369.3h0M1043.5 265.2h0M409.1 786.4h0M1073 263h0M558.8 762.1h0M500.7 808.4h0M459.4 753h0M657.8 685.8h0M854 471.2h0M899.8 497.7h0M720.1 514.3h0M279.8 993.8h0M985.4 305.4h0M810 514.2h0M362.1 852.8h0M604.9 717.8h0M660.4 562.4h0M414.1 892.3h0M539.1 819.6h0M296.7 915.1h0M688.2 544.8h0M1048.6 227.8h0M635.9 714.5h0M261 1007.5h0M630.7 695.9h0M614.7 576.3h0M651 675.3h0M997.3 320.6h0M955.7 360.8h0M207 1021.7h0M707.8 687.1h0M574.1 739.7h0M617 733.6h0M729.7 481.2h0M276.9 932.1h0M721.2 457.9h0M507.3 691.1h0M416.4 782.1h0M479 838h0M941.1 404.5h0M1075 231.5h0M1222.2 140.4h0M1003.4 338.9h0M539.4 813.9h0M1012 368.3h0M513.7 691.8h0M544.3 799.6h0M617.4 705.4h0M969 381.4h0M788.3 554.8h0M512.6 703.1h0M763.7 583.8h0M218.8 1040.7h0M896.5 356.9h0M561.3 754h0M243.5 1020.5h0M610 707.2h0M438.4 894h0M482.9 835.8h0M1073.1 220.5h0M601.2 760.6h0M921 330h0M865.5 483.9h0M682.9 653.6h0M435 891.3h0M977 336h0M901.8 403.6h0M858.1 498.9h0M968.7 330.3h0M1139.9 275.6h0M863.3 485.1h0M836.6 391h0M482.8 821.6h0M746.2 497.2h0M669.5 548.2h0M903.2 378.4h0M1158.9 226.9h0M502.1 706.9h0M481.1 834.5h0M652.7 558.4h0M249.5 971.1h0M905.8 334.6h0M980.7 321h0M856.7 452.1h0M939.7 388.9h0M551.7 821.2h0M962.2 385.4h0M957.1 404h0M835.1 420.2h0M976.1 258.2h0M1038.7 309.9h0M647.2 666.7h0M555.2 756.7h0M699.9 539h0M946 349.4h0M573.6 747.7h0M481.6 730.3h0M961.5 359.4h0M393.9 803.1h0M494.8 838.9h0M926.8 367.1h0M803.2 541.1h0M641.2 561.1h0M1176.7 183.7h0M938.9 482.1h0M939 381.2h0M1051.8 276.4h0M905 378.2h0M722.4 639.7h0M242.7 1021.2h0M645.8 666.9h0M996.5 320.5h0M850.4 472.7h0M529.4 655.1h0M771.8 474.8h0M609.3 615.6h0M466.3 876.9h0M287.1 929.8h0M859.4 460.3h0M962.7 400.8h0M758.4 584.1h0M976.4 378.1h0M317.3 898.1h0M909.1 425.2h0M906.4 413.9h0M892.7 367.7h0M603.7 718.5h0M576.5 653.7h0M767.5 468.9h0M314.5 901.5h0M631.5 687.2h0M679.4 513.4h0M940.1 341.8h0M1015.7 229.7h0M549.9 784.6h0M904.7 433.9h0M878.9 517.8h0M380.1 923.2h0M491.5 713.4h0M965.5 426.8h0M589.4 627.1h0M815.9 443.1h0M677.6 653h0M923 422h0M1029.8 289.9h0M505.2 845h0M844.4 418.1h0M942.4 375.5h0M685.9 643.3h0M621.8 591.2h0M570.1 647.8h0M818.5 513.4h0M836.2 483h0M601.7 720h0M604.9 605.3h0M623.7 705h0M806.2 509.7h0M1119.4 232.8h0M445.9 874.9h0M737.7 459.3h0M679.2 532.2h0M419.1 725.4h0M693.1 659.7h0M884.6 518.9h0M896.4 445h0M457.9 853.3h0M644.7 679.2h0M945.1 334.5h0M525.4 804.5h0M562.3 766.6h0M910.6 355.7h0M1095.7 232.3h0M1149.7 182.2h0M607.7 727.9h0M846.7 540.8h0M425.5 908.7h0M926.5 333.1h0M999.7 337.8h0M1006.9 274.4h0M882.1 449.5h0M967.8 381h0M771.8 583.3h0M920.6 369.4h0M910.4 400.2h0M619.6 737.7h0M305.9 1001.7h0M952.4 372.3h0M959 385h0M348.9 980h0M1002 308.8h0M851.7 349.8h0M1008.3 287.6h0M650.8 558.7h0M942.7 374.9h0M878.8 461.5h0M681 516.4h0M825.2 437h0M407.6 903.6h0M612.3 712.7h0M287.7 991.3h0M675.6 665.5h0M508.8 840h0M951 436.6h0M915.5 381.2h0M992.7 299.9h0M952.3 356.8h0M568.8 755.6h0M604.2 716.9h0M887.4 423.3h0M973.5 294.4h0M1029.2 335.8h0M742.3 597.4h0M377.4 821.1h0M902.4 416.5h0M654.8 675h0M605.6 710.7h0M467 737.1h0M823 506.4h0M685.8 637.6h0M1061.9 254.1h0M906.2 388.4h0M655.1 683.7h0M661.1 553.9h0M624.2 740.2h0M431.3 885.9h0M955.5 327h0M678.2 535.2h0M578.6 732.7h0M386.9 942.4h0M942.4 378.6h0M1077 273.1h0M400.5 805.5h0M609.5 620.8h0M446.8 871.4h0M597.9 629.1h0M744 485.2h0M577.2 732.8h0M559.7 784.2h0M842.8 519.2h0M432.2 783.7h0M928.5 371.4h0M660.9 686.1h0M882.5 430.3h0M434.2 896.5h0M1042.4 339.3h0M526.4 839.1h0M962.2 332.7h0M903.1 500.9h0M350.2 933.6h0M643.9 574h0M1039 320.7h0M414.9 890.5h0M928.5 364.8h0M790 460.4h0M255.3 956.4h0M736.3 479.4h0M382.1 923.3h0M926.5 389.2h0M1163.5 139.4h0M1048.9 234.3h0M937.7 362.6h0M1010.2 274.1h0M794.1 447.2h0M949.7 361.2h0M536.8 781.1h0M854.4 417h0M717 647.6h0M822.9 502.1h0M718.5 513.5h0M1132.3 218.8h0M920.2 427.8h0M805.8 433.6h0M507.3 809.8h0M465.8 887.7h0M883.8 434.8h0M851.5 388.7h0M276.3 998.3h0M404.4 999h0M263.1 957.5h0M596.5 736.8h0M638.7 693.1h0M854.6 491.7h0M649.8 688h0M891.7 445.8h0M491.1 850.5h0M585.6 640.1h0M889 430.5h0M1050 321.3h0M933.1 365.4h0M905.8 368.2h0M696.5 662.5h0M832.2 438.8h0M879.7 447h0M477.7 900.9h0M581.1 761.9h0M608.6 616.8h0M624.5 612.3h0M954.2 445.6h0M852.2 403.3h0M905.7 407.6h0M904.6 443.1h0M659.8 659.1h0M516.3 808.1h0" stroke="#d3d3d3" stroke-width="6.6"/>
<path d="M1087.4 159.5h0M1118 163.8h0M1126.3 164.7h0M1183.6 185.4h0M1086.2 212.9h0M1059.8 226.4h0M1120.5 231.6h0M1086.2 234.9h0M1039.2 241.5h0M1063.6 245.1h0M1109.2 244.8h0M1032.8 255h0M1089.9 259.2h0M1119.2 258.8h0M1028.9 265h0M1016.4 273.1h0M1051.1 278.5h0M1090.3 278.1h0M1027 287.2h0M1016.4 291h0M1001.9 262.1h0M1002 292h0M1028 306.5h0M1002.9 304.5h0M1160.1 304h0M1134.4 318.6h0M1163.7 325.2h0M1091.2 345.2h0M1212.9 345.2h0M1004.8 329.6h0M1011.6 339.3h0M1029.9 348.9h0M1013.5 351.8h0M876.6 196.3h0M842.3 232.3h0M830.3 338.2h0M804.6 397.7h0M788.3 414h0M755.7 463.8h0M1072.5 466.3h0M984.6 514.3h0M955 544.3h0M989.3 433.8h0M894.2 522.9h0M864.2 560.6h0M901.5 467.2h0M912.2 475.8h0M920.8 485.2h0M934.5 457.8h0M944.3 465h0M934.9 483.5h0M934.5 493.8h0M883.5 495h0M950.7 425.2h0M994 379.7h0M817.1 554.5h0M793.8 632.4h0M740.7 678.4h0M797.6 569h0M784.5 609.9h0M728.2 639.1h0M734.3 650.7h0M706.3 676.1h0M701.9 684.3h0M655.8 414.9h0M650.1 427.6h0M636.5 504.7h0M631.4 516.6h0M640.5 530.5h0M582.7 526h0M620.9 559.1h0M629.2 574.2h0M564.8 586.1h0M520.9 607.9h0M418.8 661.5h0M439.5 683.9h0M495.6 664.9h0M516.1 669.1h0M537.6 637.1h0M536.7 649.3h0M498.5 693.2h0M342.6 850.7h0M309.9 894.4h0M278.4 925.1h0M261.7 956.6h0M206.9 1017h0M273.1 1003.8h0M322.1 965h0M349.3 956.6h0M377.6 926.5h0M519.1 813.6h0M453.4 863.2h0M479.7 839h0M418.4 774.8h0M363 833.2h0M367.4 828.8h0M966 271h0M965.4 284h0M937.6 279.6h0M938 293h0M951 290h0M961.6 297h0M993 274.4h0M986 286h0M992 285h0M988 291h0M992 300h0M932 306h0M928 314.4h0M954 318h0M918.6 327h0M919.4 338.6h0M933 332h0M942 337h0M955 328h0M958 332h0M969 326h0M989 321h0M989 332h0M980 336h0M988 340h0M974 338h0M964 341h0M956 346h0M943 346h0M951 348h0M1007 336h0M909 358h0M916 350h0M925 352h0M926 358h0M920 364h0M936 362h0M944 363h0M951 362h0M959 365h0M981 356h0M974 363h0M988 361h0M1020 350h0M1009 359h0M900 380h0M909 380h0M931 379h0M914 388h0M924 394h0M961 393h0M957 398h0M906 410h0M910 415h0M903 420h0M925 412h0" stroke="#000080" stroke-width="12.4"/>
<path d="M653.7 658.9h0M336.2 879.5h0" stroke="#0000ad" stroke-width="12.4"/>
<path d="M807.8 522.3h0M851.8 448.8h0" stroke="#000096" stroke-width="12.4"/>
<path d="M488.6 827.4h0" stroke="#000080" stroke-width="12.4"/>
<path d="M402.6 896.7h0M452.1 855.8h0" stroke="#000096" stroke-width="12.4"/>
<path d="M883.7 382.7h0" stroke="#000080" stroke-width="12.4"/>
<path d="M770 567.6h0" stroke="#000096" stroke-width="12.4"/>
<path d="M703.8 647.5h0M880.8 421.7h0M781.7 556.7h0M860.6 470.6h0M501.4 816.3h0" stroke="#000080" stroke-width="12.4"/>
<path d="M260.6 965.1h0" stroke="#0080ff" stroke-width="12.4"/>
<path d="M848.7 411h0" stroke="#000080" stroke-width="12.4"/>
<path d="M661.5 651h0" stroke="#0000ad" stroke-width="12.4"/>
<path d="M682.8 533.2h0M827.4 498.5h0M727.3 507h0M841.1 487.5h0" stroke="#000080" stroke-width="12.4"/>
<path d="M479.6 737.3h0M820.8 497.4h0" stroke="#000096" stroke-width="12.4"/>
<path d="M849.6 467h0" stroke="#000080" stroke-width="12.4"/>
<path d="M457.8 761.4h0" stroke="#0000ad" stroke-width="12.4"/>
<path d="M865.8 393.5h0" stroke="#000080" stroke-width="12.4"/>
<path d="M723.8 599h0" stroke="#000096" stroke-width="12.4"/>
<path d="M893.8 383.4h0M875.7 390.2h0" stroke="#000080" stroke-width="12.4"/>
<path d="M526.5 688h0" stroke="#000096" stroke-width="12.4"/>
<path d="M670.1 537.9h0" stroke="#000080" stroke-width="12.4"/>
<path d="M635.4 682.4h0M254.1 1013.2h0" stroke="#000096" stroke-width="12.4"/>
<path d="M393.7 819.5h0" stroke="#0000ad" stroke-width="12.4"/>
<path d="M747.7 605.8h0" stroke="#000080" stroke-width="12.4"/>
<path d="M791.2 528.6h0" stroke="#000096" stroke-width="12.4"/>
<path d="M227.1 1001.3h0" stroke="#00d4ff" stroke-width="12.4"/>
<path d="M825 425.7h0M804.9 439h0M895 399.8h0M895.3 392.9h0M688.3 665h0" stroke="#000080" stroke-width="12.4"/>
<path d="M592.2 721.2h0" stroke="#000096" stroke-width="12.4"/>
<path d="M731.6 614.8h0" stroke="#000080" stroke-width="12.4"/>
<path d="M403.1 893.1h0" stroke="#0000ad" stroke-width="12.4"/>
<path d="M662.1 665.8h0" stroke="#000080" stroke-width="12.4"/>
<path d="M264 963.1h0" stroke="#0028ff" stroke-width="12.4"/>
<path d="M720 501.7h0M855.2 399h0" stroke="#000080" stroke-width="12.4"/>
<path d="M186.6 1056.3h0" stroke="#0054ff" stroke-width="12.4"/>
<path d="M327.4 888h0" stroke="#000096" stroke-width="12.4"/>
<path d="M372.8 920.7h0" stroke="#0000ad" stroke-width="12.4"/>
<path d="M183.3 1058.8h0" stroke="#0000ff" stroke-width="12.4"/>
<path d="M805.9 458h0M742.3 573.5h0M443.2 866.3h0" stroke="#000096" stroke-width="12.4"/>
<path d="M559 744.3h0" stroke="#0000ad" stroke-width="12.4"/>
<path d="M631.8 586.4h0" stroke="#000080" stroke-width="12.4"/>
<path d="M408.8 803.7h0" stroke="#000096" stroke-width="12.4"/>
<path d="M442.2 780.4h0" stroke="#0000df" stroke-width="12.4"/>
<path d="M490.9 733.3h0" stroke="#0000ad" stroke-width="12.4"/>
<path d="M852.4 464.4h0" stroke="#000080" stroke-width="12.4"/>
<path d="M202.2 1045.1h0" stroke="#02e8f4" stroke-width="12.4"/>
<path d="M621.5 701.1h0M701.4 531.3h0" stroke="#000096" stroke-width="12.4"/>
<path d="M485 740.4h0" stroke="#0000ad" stroke-width="12.4"/>
<path d="M333.5 944.8h0" stroke="#0000ff" stroke-width="12.4"/>
<path d="M872.2 372.4h0" stroke="#000080" stroke-width="12.4"/>
<path d="M798.6 524.1h0" stroke="#000096" stroke-width="12.4"/>
<path d="M487.1 741.9h0" stroke="#0000c8" stroke-width="12.4"/>
<path d="M802.4 445.1h0M554.5 655h0M878.2 379.6h0M871.2 480.8h0" stroke="#000080" stroke-width="12.4"/>
<path d="M735.7 503.4h0M578.4 643.7h0M735.1 509.1h0" stroke="#000096" stroke-width="12.4"/>
<path d="M606.2 737.3h0" stroke="#000080" stroke-width="12.4"/>
<path d="M491.3 737.5h0" stroke="#0000c8" stroke-width="12.4"/>
<path d="M787.4 537.6h0" stroke="#000096" stroke-width="12.4"/>
<path d="M723.1 506.1h0" stroke="#000080" stroke-width="12.4"/>
<path d="M795.6 458.3h0" stroke="#000096" stroke-width="12.4"/>
<path d="M354.1 927.2h0" stroke="#0000c8" stroke-width="12.4"/>
<path d="M263.5 1000h0" stroke="#0040ff" stroke-width="12.4"/>
<path d="M871.9 392.2h0M865.1 416.6h0" stroke="#000080" stroke-width="12.4"/>
<path d="M310.4 969.2h0" stroke="#0000ad" stroke-width="12.4"/>
<path d="M756.8 489.4h0" stroke="#000096" stroke-width="12.4"/>
<path d="M316.4 963.6h0" stroke="#0000ad" stroke-width="12.4"/>
<path d="M469.4 842.9h0" stroke="#000096" stroke-width="12.4"/>
<path d="M433.7 907.1h0M618.2 606h0" stroke="#000080" stroke-width="12.4"/>
<path d="M385.1 826.4h0" stroke="#000096" stroke-width="12.4"/>
<path d="M563.9 741.7h0" stroke="#0000ad" stroke-width="12.4"/>
<path d="M401.6 810.3h0" stroke="#000096" stroke-width="12.4"/>
<path d="M510 686.9h0" stroke="#000080" stroke-width="12.4"/>
<path d="M771.4 558.8h0" stroke="#000096" stroke-width="12.4"/>
<path d="M834.5 433.7h0" stroke="#000080" stroke-width="12.4"/>
<path d="M476.9 733.6h0" stroke="#000096" stroke-width="12.4"/>
<path d="M892.2 378.3h0" stroke="#000080" stroke-width="12.4"/>
<path d="M523.5 693.8h0" stroke="#000096" stroke-width="12.4"/>
<path d="M273.3 991.8h0" stroke="#0094ff" stroke-width="12.4"/>
<path d="M679.8 635.5h0" stroke="#0000ad" stroke-width="12.4"/>
<path d="M782.3 462.5h0M698.8 498.9h0" stroke="#000080" stroke-width="12.4"/>
<path d="M492.1 737.6h0" stroke="#0000df" stroke-width="12.4"/>
<path d="M525 675.1h0" stroke="#000080" stroke-width="12.4"/>
<path d="M818.9 448.7h0" stroke="#000096" stroke-width="12.4"/>
<path d="M554 766.5h0" stroke="#000080" stroke-width="12.4"/>
<path d="M841.5 458.6h0M602.7 708.7h0M775.7 471.8h0M367.9 835.3h0M569.5 741.3h0" stroke="#000096" stroke-width="12.4"/>
<path d="M631.3 587.7h0M816.4 507.7h0" stroke="#000080" stroke-width="12.4"/>
<path d="M804.9 517.9h0" stroke="#000096" stroke-width="12.4"/>
<path d="M848.5 409.1h0" stroke="#000080" stroke-width="12.4"/>
<path d="M721.6 519.5h0" stroke="#000096" stroke-width="12.4"/>
<path d="M401.4 894.3h0" stroke="#0000ad" stroke-width="12.4"/>
<path d="M562.6 657.4h0M845.6 443.5h0" stroke="#000096" stroke-width="12.4"/>
<path d="M344.1 950.7h0M377.9 938.7h0" stroke="#000080" stroke-width="12.4"/>
<path d="M371.3 925.1h0M463.2 751.1h0" stroke="#000096" stroke-width="12.4"/>
<path d="M567.1 739h0" stroke="#0000ad" stroke-width="12.4"/>
<path d="M542.4 768h0" stroke="#000096" stroke-width="12.4"/>
<path d="M839 423.8h0" stroke="#000080" stroke-width="12.4"/>
<path d="M345.4 879.1h0" stroke="#0028ff" stroke-width="12.4"/>
<path d="M603.5 741.9h0" stroke="#000080" stroke-width="12.4"/>
<path d="M412.3 885.6h0" stroke="#0000ad" stroke-width="12.4"/>
<path d="M810.9 500.5h0M326.2 962.1h0M786.2 536.5h0" stroke="#000096" stroke-width="12.4"/>
<path d="M204.6 1025.9h0" stroke="#49ffad" stroke-width="12.4"/>
<path d="M329 944.3h0" stroke="#0094ff" stroke-width="12.4"/>
<path d="M493.7 820.8h0" stroke="#000096" stroke-width="12.4"/>
<path d="M890.9 392.8h0M882.6 416.9h0M462.8 719.1h0" stroke="#000080" stroke-width="12.4"/>
<path d="M425.6 885.6h0" stroke="#000096" stroke-width="12.4"/>
<path d="M820.1 420.7h0" stroke="#000080" stroke-width="12.4"/>
<path d="M273.4 953.4h0" stroke="#00a8ff" stroke-width="12.4"/>
<path d="M264.1 951.1h0M817.5 439.5h0M529.9 789.5h0" stroke="#000080" stroke-width="12.4"/>
<path d="M560.2 663.7h0M681.4 556.1h0M748.1 502.1h0" stroke="#000096" stroke-width="12.4"/>
<path d="M367.2 846.6h0" stroke="#0000ad" stroke-width="12.4"/>
<path d="M547.3 786.7h0" stroke="#000080" stroke-width="12.4"/>
<path d="M803.4 508.7h0" stroke="#000096" stroke-width="12.4"/>
<path d="M489.5 828.9h0" stroke="#000080" stroke-width="12.4"/>
<path d="M482.2 743.2h0" stroke="#0000c8" stroke-width="12.4"/>
<path d="M372.5 851.5h0" stroke="#0000df" stroke-width="12.4"/>
<path d="M266 963.5h0" stroke="#0068ff" stroke-width="12.4"/>
<path d="M888.1 398.9h0" stroke="#000080" stroke-width="12.4"/>
<path d="M534.8 684.5h0M825.3 444.4h0" stroke="#000096" stroke-width="12.4"/>
<path d="M521.4 780.3h0" stroke="#0000ad" stroke-width="12.4"/>
<path d="M879.2 428.9h0" stroke="#000080" stroke-width="12.4"/>
<path d="M319 962.5h0" stroke="#0000ad" stroke-width="12.4"/>
<path d="M602.3 707h0M596.2 634.4h0M818.7 448.2h0" stroke="#000096" stroke-width="12.4"/>
<path d="M257 1003.5h0" stroke="#16ffe1" stroke-width="12.4"/>
<path d="M843.2 473.7h0M852.1 451.8h0" stroke="#000080" stroke-width="12.4"/>
<path d="M393 822.7h0" stroke="#0000ad" stroke-width="12.4"/>
<path d="M720.9 619.4h0" stroke="#000080" stroke-width="12.4"/>
<path d="M196.3 1039.2h0" stroke="#6aff8d" stroke-width="12.4"/>
<path d="M539.9 683.9h0" stroke="#0000ad" stroke-width="12.4"/>
<path d="M582.7 646h0M690.4 633.8h0" stroke="#000096" stroke-width="12.4"/>
<path d="M864.9 478h0" stroke="#000080" stroke-width="12.4"/>
<path d="M667.8 655.7h0" stroke="#000096" stroke-width="12.4"/>
<path d="M624.3 618.8h0" stroke="#0000ad" stroke-width="12.4"/>
<path d="M881.6 397.6h0" stroke="#000080" stroke-width="12.4"/>
<path d="M442.3 777h0" stroke="#0000ad" stroke-width="12.4"/>
<path d="M734.7 593.6h0M552.1 664.9h0" stroke="#000096" stroke-width="12.4"/>
<path d="M329.7 891h0" stroke="#0000df" stroke-width="12.4"/>
<path d="M780.1 457.6h0M727.9 504.1h0M365.1 819.6h0" stroke="#000080" stroke-width="12.4"/>
<path d="M838.5 431.4h0M399.9 814.5h0M658.2 666.9h0" stroke="#000096" stroke-width="12.4"/>
<path d="M467.3 758.3h0" stroke="#0000df" stroke-width="12.4"/>
<path d="M845 470.4h0" stroke="#000080" stroke-width="12.4"/>
<path d="M538.9 687.8h0" stroke="#0000ad" stroke-width="12.4"/>
<path d="M501.5 797.9h0" stroke="#0000c8" stroke-width="12.4"/>
<path d="M454.8 847.3h0" stroke="#0000ad" stroke-width="12.4"/>
<path d="M800 516.8h0M696.4 626h0" stroke="#000096" stroke-width="12.4"/>
<path d="M213.2 1012.1h0" stroke="#0068ff" stroke-width="12.4"/>
<path d="M850.5 461.7h0" stroke="#000080" stroke-width="12.4"/>
<path d="M523.4 694.8h0" stroke="#000096" stroke-width="12.4"/>
<path d="M549.6 757.3h0" stroke="#0000ad" stroke-width="12.4"/>
<path d="M453.4 760.9h0M825.2 492h0M849.2 448.2h0M356 941h0" stroke="#000096" stroke-width="12.4"/>
<path d="M267.7 993.2h0" stroke="#16ffe1" stroke-width="12.4"/>
<path d="M796.9 509.3h0M625.5 619h0" stroke="#0000ad" stroke-width="12.4"/>
<path d="M467.7 832.5h0" stroke="#0000c8" stroke-width="12.4"/>
<path d="M476.1 734.6h0" stroke="#000096" stroke-width="12.4"/>
<path d="M207.2 1026.2h0" stroke="#8dff6a" stroke-width="12.4"/>
<path d="M502.6 723.5h0" stroke="#0000ad" stroke-width="12.4"/>
<path d="M213.2 1017.7h0" stroke="#26ffd1" stroke-width="12.4"/>
<path d="M630.4 608.7h0" stroke="#0000ad" stroke-width="12.4"/>
<path d="M348.9 955.4h0" stroke="#000080" stroke-width="12.4"/>
<path d="M254.2 1020.2h0M742.9 587.7h0" stroke="#000096" stroke-width="12.4"/>
<path d="M599.3 738.8h0" stroke="#000080" stroke-width="12.4"/>
<path d="M569.7 738.1h0" stroke="#0000ad" stroke-width="12.4"/>
<path d="M183.4 1052h0" stroke="#0094ff" stroke-width="12.4"/>
<path d="M756.6 572.6h0M494.5 715.9h0" stroke="#000096" stroke-width="12.4"/>
<path d="M640.7 699.4h0" stroke="#000080" stroke-width="12.4"/>
<path d="M492.1 734.7h0" stroke="#0000c8" stroke-width="12.4"/>
<path d="M636.9 679.2h0M702.9 528.7h0M680.8 553h0M692.6 540h0" stroke="#000096" stroke-width="12.4"/>
<path d="M373.4 851.3h0" stroke="#0000f6" stroke-width="12.4"/>
<path d="M697.6 549.9h0" stroke="#0000ad" stroke-width="12.4"/>
<path d="M836.8 441.9h0" stroke="#000096" stroke-width="12.4"/>
<path d="M217.9 1037.5h0" stroke="#0094ff" stroke-width="12.4"/>
<path d="M643 558.3h0" stroke="#000080" stroke-width="12.4"/>
<path d="M661.4 578.8h0" stroke="#0000ad" stroke-width="12.4"/>
<path d="M503.4 712.9h0" stroke="#000096" stroke-width="12.4"/>
<path d="M404.8 798h0M766.5 466.5h0" stroke="#000080" stroke-width="12.4"/>
<path d="M386.7 905.3h0M386.4 829.4h0M574.6 729.9h0" stroke="#0000ad" stroke-width="12.4"/>
<path d="M454.4 843.4h0" stroke="#0000c8" stroke-width="12.4"/>
<path d="M283.2 981.5h0" stroke="#00d4ff" stroke-width="12.4"/>
<path d="M637.5 593.8h0M762.4 575.6h0M686.7 554.6h0M613.6 621.5h0" stroke="#000096" stroke-width="12.4"/>
<path d="M351.4 927.5h0" stroke="#0000c8" stroke-width="12.4"/>
<path d="M203.8 1028.9h0" stroke="#49ffad" stroke-width="12.4"/>
<path d="M707.6 623.3h0M419.9 786.8h0" stroke="#000096" stroke-width="12.4"/>
<path d="M882.5 376.9h0" stroke="#000080" stroke-width="12.4"/>
<path d="M303.6 916.4h0" stroke="#0000f6" stroke-width="12.4"/>
<path d="M386.2 913.7h0" stroke="#000096" stroke-width="12.4"/>
<path d="M233.7 997.8h0" stroke="#c1ff36" stroke-width="12.4"/>
<path d="M335.1 892.3h0M182.6 1056.8h0" stroke="#0028ff" stroke-width="12.4"/>
<path d="M224.4 1006.4h0" stroke="#49ffad" stroke-width="12.4"/>
<path d="M767.2 545.5h0" stroke="#0000ad" stroke-width="12.4"/>
<path d="M472 740.3h0M858 443.1h0" stroke="#000096" stroke-width="12.4"/>
<path d="M594.4 716.2h0" stroke="#0000ad" stroke-width="12.4"/>
<path d="M196.1 1051.6h0" stroke="#16ffe1" stroke-width="12.4"/>
<path d="M524 789.6h0M597.2 633.1h0" stroke="#000096" stroke-width="12.4"/>
<path d="M438.6 762h0" stroke="#000080" stroke-width="12.4"/>
<path d="M277.5 947.4h0M184.3 1056.9h0" stroke="#0028ff" stroke-width="12.4"/>
<path d="M391.4 824.6h0" stroke="#0000ad" stroke-width="12.4"/>
<path d="M310.9 909.9h0" stroke="#0000f6" stroke-width="12.4"/>
<path d="M233.8 1027.6h0" stroke="#0028ff" stroke-width="12.4"/>
<path d="M428.3 787.7h0" stroke="#0000ad" stroke-width="12.4"/>
<path d="M249.8 1011.3h0" stroke="#0054ff" stroke-width="12.4"/>
<path d="M896 408.6h0" stroke="#000080" stroke-width="12.4"/>
<path d="M843.4 428.8h0M332 878.4h0" stroke="#000096" stroke-width="12.4"/>
<path d="M649.7 662.8h0" stroke="#0000ad" stroke-width="12.4"/>
<path d="M492.6 816h0M361.6 930.4h0M739.2 511.3h0" stroke="#000096" stroke-width="12.4"/>
<path d="M696.5 530.5h0" stroke="#000080" stroke-width="12.4"/>
<path d="M444.1 781.1h0" stroke="#0000f6" stroke-width="12.4"/>
<path d="M701.5 543.6h0" stroke="#0000ad" stroke-width="12.4"/>
<path d="M828.1 493.9h0" stroke="#000080" stroke-width="12.4"/>
<path d="M760.5 491.6h0" stroke="#000096" stroke-width="12.4"/>
<path d="M586.5 732.6h0" stroke="#000080" stroke-width="12.4"/>
<path d="M435.9 790.5h0" stroke="#0000f6" stroke-width="12.4"/>
<path d="M826.6 482.9h0M796.5 455.2h0M379.8 912.6h0M615.7 616.1h0" stroke="#000096" stroke-width="12.4"/>
<path d="M684.5 564.8h0" stroke="#0000ad" stroke-width="12.4"/>
<path d="M722.4 527.7h0" stroke="#000096" stroke-width="12.4"/>
<path d="M865.3 448.1h0M677.7 657.6h0" stroke="#000080" stroke-width="12.4"/>
<path d="M629.8 682.7h0M319.2 891.9h0" stroke="#000096" stroke-width="12.4"/>
<path d="M658.4 570.1h0" stroke="#000080" stroke-width="12.4"/>
<path d="M393.2 896.7h0" stroke="#0000c8" stroke-width="12.4"/>
<path d="M513.1 712.4h0" stroke="#0000ad" stroke-width="12.4"/>
<path d="M677.4 552.7h0M791.5 467.4h0" stroke="#000096" stroke-width="12.4"/>
<path d="M495.6 728.1h0" stroke="#0000ad" stroke-width="12.4"/>
<path d="M265.8 994.7h0" stroke="#00d4ff" stroke-width="12.4"/>
<path d="M831.6 472.9h0M763.1 480.4h0M666.2 653.3h0" stroke="#000096" stroke-width="12.4"/>
<path d="M345.8 957.7h0" stroke="#000080" stroke-width="12.4"/>
<path d="M772.9 553.2h0" stroke="#000096" stroke-width="12.4"/>
<path d="M862.4 386.9h0" stroke="#000080" stroke-width="12.4"/>
<path d="M456.5 841.5h0M671.9 579.1h0" stroke="#0000c8" stroke-width="12.4"/>
<path d="M600.8 732.2h0" stroke="#000080" stroke-width="12.4"/>
<path d="M840.7 454.5h0" stroke="#000096" stroke-width="12.4"/>
<path d="M182.4 1056.4h0" stroke="#0040ff" stroke-width="12.4"/>
<path d="M382.7 909.6h0" stroke="#0000ad" stroke-width="12.4"/>
<path d="M236.9 989.7h0" stroke="#0054ff" stroke-width="12.4"/>
<path d="M869 429.9h0M874.5 358.9h0" stroke="#000080" stroke-width="12.4"/>
<path d="M779.7 536.9h0" stroke="#000096" stroke-width="12.4"/>
<path d="M358.5 918.5h0" stroke="#0054ff" stroke-width="12.4"/>
<path d="M222 1011.2h0" stroke="#d1ff26" stroke-width="12.4"/>
<path d="M778.5 477.3h0" stroke="#000096" stroke-width="12.4"/>
<path d="M209 1024.9h0" stroke="#c1ff36" stroke-width="12.4"/>
<path d="M851.1 433.1h0M478.4 829.7h0" stroke="#000096" stroke-width="12.4"/>
<path d="M545.5 752.5h0" stroke="#0000c8" stroke-width="12.4"/>
<path d="M306.6 919.6h0" stroke="#0068ff" stroke-width="12.4"/>
<path d="M249.6 1006.8h0" stroke="#49ffad" stroke-width="12.4"/>
<path d="M305.5 911.9h0" stroke="#0000ad" stroke-width="12.4"/>
<path d="M304.4 922.7h0" stroke="#0094ff" stroke-width="12.4"/>
<path d="M664.6 572.1h0" stroke="#000096" stroke-width="12.4"/>
<path d="M208.1 1044.7h0" stroke="#0094ff" stroke-width="12.4"/>
<path d="M653.8 588.1h0" stroke="#0000ad" stroke-width="12.4"/>
<path d="M757.6 492.7h0" stroke="#000096" stroke-width="12.4"/>
<path d="M892.3 409.7h0" stroke="#000080" stroke-width="12.4"/>
<path d="M405.5 890.7h0" stroke="#000096" stroke-width="12.4"/>
<path d="M270.5 990.9h0" stroke="#16ffe1" stroke-width="12.4"/>
<path d="M222.2 1012.1h0" stroke="#f4f802" stroke-width="12.4"/>
<path d="M795.5 440h0" stroke="#000080" stroke-width="12.4"/>
<path d="M473.7 840.6h0M367.3 926.5h0" stroke="#000096" stroke-width="12.4"/>
<path d="M184.3 1051.2h0" stroke="#00a8ff" stroke-width="12.4"/>
<path d="M674.5 647.6h0M704.1 618.8h0" stroke="#000096" stroke-width="12.4"/>
<path d="M646.8 596.2h0" stroke="#0000ad" stroke-width="12.4"/>
<path d="M294.5 986.8h0" stroke="#000096" stroke-width="12.4"/>
<path d="M630.1 617.1h0" stroke="#0000c8" stroke-width="12.4"/>
<path d="M590.2 646.8h0" stroke="#0000ad" stroke-width="12.4"/>
<path d="M201.8 1030.3h0" stroke="#26ffd1" stroke-width="12.4"/>
<path d="M663.7 579.1h0" stroke="#0000ad" stroke-width="12.4"/>
<path d="M277.7 948.5h0" stroke="#0040ff" stroke-width="12.4"/>
<path d="M819.5 448.6h0" stroke="#000096" stroke-width="12.4"/>
<path d="M865.8 396.5h0" stroke="#000080" stroke-width="12.4"/>
<path d="M354.1 870.1h0" stroke="#0028ff" stroke-width="12.4"/>
<path d="M758.3 504.5h0" stroke="#0000ad" stroke-width="12.4"/>
<path d="M255.5 1001.1h0" stroke="#7dff7a" stroke-width="12.4"/>
<path d="M597.5 635.4h0" stroke="#0000ad" stroke-width="12.4"/>
<path d="M826 455.4h0" stroke="#000096" stroke-width="12.4"/>
<path d="M348.7 928.8h0" stroke="#0000f6" stroke-width="12.4"/>
<path d="M711.8 610.6h0" stroke="#000096" stroke-width="12.4"/>
<path d="M420 796.4h0" stroke="#0000ad" stroke-width="12.4"/>
<path d="M708.6 534.5h0" stroke="#000096" stroke-width="12.4"/>
<path d="M373.5 840.9h0" stroke="#0000ad" stroke-width="12.4"/>
<path d="M834.2 430.3h0" stroke="#000080" stroke-width="12.4"/>
<path d="M769.4 481h0" stroke="#000096" stroke-width="12.4"/>
<path d="M522.6 671.1h0" stroke="#000080" stroke-width="12.4"/>
<path d="M243.1 991.1h0" stroke="#b1ff46" stroke-width="12.4"/>
<path d="M322.4 890.3h0" stroke="#000096" stroke-width="12.4"/>
<path d="M872.2 440.8h0" stroke="#000080" stroke-width="12.4"/>
<path d="M810.8 466.2h0M747.7 564h0M730.2 525.5h0" stroke="#0000ad" stroke-width="12.4"/>
<path d="M605.3 625.7h0M691.8 628.4h0" stroke="#000096" stroke-width="12.4"/>
<path d="M807.5 484.2h0" stroke="#0000ad" stroke-width="12.4"/>
<path d="M705.1 630.1h0" stroke="#000080" stroke-width="12.4"/>
<path d="M732.7 582.5h0" stroke="#000096" stroke-width="12.4"/>
<path d="M375.6 848h0" stroke="#0000df" stroke-width="12.4"/>
<path d="M225.6 1009.4h0" stroke="#d1ff26" stroke-width="12.4"/>
<path d="M245.6 1011.3h0" stroke="#16ffe1" stroke-width="12.4"/>
<path d="M601.3 638.7h0" stroke="#0000c8" stroke-width="12.4"/>
<path d="M632 598h0M449.9 853.1h0" stroke="#000096" stroke-width="12.4"/>
<path d="M800.3 482.7h0" stroke="#0000c8" stroke-width="12.4"/>
<path d="M558.8 668.8h0M714.4 524.6h0" stroke="#000096" stroke-width="12.4"/>
<path d="M801.8 468.2h0" stroke="#0000ad" stroke-width="12.4"/>
<path d="M504.2 726.4h0" stroke="#0000c8" stroke-width="12.4"/>
<path d="M799 506.5h0" stroke="#0000ad" stroke-width="12.4"/>
<path d="M230.4 1003.8h0" stroke="#b1ff46" stroke-width="12.4"/>
<path d="M492.7 731.4h0" stroke="#0000ad" stroke-width="12.4"/>
<path d="M184.9 1056.6h0" stroke="#0040ff" stroke-width="12.4"/>
<path d="M544.8 690.8h0" stroke="#0000c8" stroke-width="12.4"/>
<path d="M403.6 882h0" stroke="#0014ff" stroke-width="12.4"/>
<path d="M689 623.7h0" stroke="#0000ad" stroke-width="12.4"/>
<path d="M875 413.8h0" stroke="#000080" stroke-width="12.4"/>
<path d="M750.7 506.3h0" stroke="#000096" stroke-width="12.4"/>
<path d="M659.7 584.5h0" stroke="#0000ad" stroke-width="12.4"/>
<path d="M638.1 681.5h0M622.4 694.8h0" stroke="#000096" stroke-width="12.4"/>
<path d="M513.2 715.6h0" stroke="#0000c8" stroke-width="12.4"/>
<path d="M242.8 1009.7h0" stroke="#9dff5a" stroke-width="12.4"/>
<path d="M298.8 968.2h0" stroke="#00c0ff" stroke-width="12.4"/>
<path d="M766 493.2h0" stroke="#000096" stroke-width="12.4"/>
<path d="M576.5 641.7h0" stroke="#000080" stroke-width="12.4"/>
<path d="M848.7 445.2h0M345 944.1h0M418.3 884.3h0" stroke="#000096" stroke-width="12.4"/>
<path d="M776.9 486.5h0M730.7 523.3h0" stroke="#0000ad" stroke-width="12.4"/>
<path d="M450.4 840.9h0" stroke="#0000f6" stroke-width="12.4"/>
<path d="M772.8 467.2h0" stroke="#000080" stroke-width="12.4"/>
<path d="M835.4 450.3h0" stroke="#000096" stroke-width="12.4"/>
<path d="M221.9 1031h0" stroke="#02e8f4" stroke-width="12.4"/>
<path d="M821.1 480.3h0" stroke="#0000ad" stroke-width="12.4"/>
<path d="M767.4 573.9h0" stroke="#000096" stroke-width="12.4"/>
<path d="M765.6 539.4h0" stroke="#0000ad" stroke-width="12.4"/>
<path d="M714.6 527.4h0M564.4 658.7h0" stroke="#000096" stroke-width="12.4"/>
<path d="M649.8 594.5h0" stroke="#0000ad" stroke-width="12.4"/>
<path d="M290.9 936.9h0" stroke="#0080ff" stroke-width="12.4"/>
<path d="M789.8 535.8h0" stroke="#000096" stroke-width="12.4"/>
<path d="M485.4 744.7h0" stroke="#0000df" stroke-width="12.4"/>
<path d="M678.5 580.3h0" stroke="#0000f6" stroke-width="12.4"/>
<path d="M682.2 575.5h0" stroke="#0000df" stroke-width="12.4"/>
<path d="M507.9 817.9h0" stroke="#000080" stroke-width="12.4"/>
<path d="M631.4 681h0" stroke="#000096" stroke-width="12.4"/>
<path d="M717.5 533.5h0" stroke="#0000ad" stroke-width="12.4"/>
<path d="M887.8 401.9h0" stroke="#000080" stroke-width="12.4"/>
<path d="M362.6 860.5h0" stroke="#0000df" stroke-width="12.4"/>
<path d="M861.5 456.8h0" stroke="#000080" stroke-width="12.4"/>
<path d="M448.2 855.8h0M761.5 560.5h0" stroke="#000096" stroke-width="12.4"/>
<path d="M732.7 521.1h0M652.3 656.2h0" stroke="#0000ad" stroke-width="12.4"/>
<path d="M753.4 568.6h0" stroke="#000096" stroke-width="12.4"/>
<path d="M585.7 620.9h0" stroke="#000080" stroke-width="12.4"/>
<path d="M797.2 462.9h0" stroke="#0000ad" stroke-width="12.4"/>
<path d="M299.2 924.1h0" stroke="#0040ff" stroke-width="12.4"/>
<path d="M438.4 853.1h0" stroke="#0000df" stroke-width="12.4"/>
<path d="M750.5 556.2h0" stroke="#0000ad" stroke-width="12.4"/>
<path d="M751 604.6h0M400.5 906.3h0" stroke="#000080" stroke-width="12.4"/>
<path d="M491.8 727.9h0" stroke="#000096" stroke-width="12.4"/>
<path d="M311.2 911.1h0" stroke="#0000ff" stroke-width="12.4"/>
<path d="M613.7 700.5h0" stroke="#000096" stroke-width="12.4"/>
<path d="M435.4 855.8h0" stroke="#0000df" stroke-width="12.4"/>
<path d="M818.5 476.7h0M761.3 508.7h0" stroke="#0000ad" stroke-width="12.4"/>
<path d="M842 424.3h0" stroke="#000080" stroke-width="12.4"/>
<path d="M858.7 441.7h0M675.6 567.5h0M652.1 661.9h0" stroke="#000096" stroke-width="12.4"/>
<path d="M595.1 713.6h0" stroke="#0000ad" stroke-width="12.4"/>
<path d="M803 461.3h0" stroke="#000096" stroke-width="12.4"/>
<path d="M292.5 931.9h0" stroke="#0028ff" stroke-width="12.4"/>
<path d="M629.2 619.6h0" stroke="#0000c8" stroke-width="12.4"/>
<path d="M433.8 867.2h0M685.7 631.3h0" stroke="#000096" stroke-width="12.4"/>
<path d="M203.9 1040.8h0" stroke="#49ffad" stroke-width="12.4"/>
<path d="M325.6 950.9h0" stroke="#0000c8" stroke-width="12.4"/>
<path d="M363.1 915h0" stroke="#0000ff" stroke-width="12.4"/>
<path d="M184.1 1052.5h0" stroke="#0094ff" stroke-width="12.4"/>
<path d="M783.8 520.8h0" stroke="#0000ad" stroke-width="12.4"/>
<path d="M321 905.5h0" stroke="#0040ff" stroke-width="12.4"/>
<path d="M415.2 806.4h0" stroke="#0000df" stroke-width="12.4"/>
<path d="M870.6 406.9h0M387.4 812.1h0M806.8 446.1h0" stroke="#000080" stroke-width="12.4"/>
<path d="M711.8 540.1h0" stroke="#0000ad" stroke-width="12.4"/>
<path d="M273 954.3h0" stroke="#00d4ff" stroke-width="12.4"/>
<path d="M795.2 507.8h0" stroke="#0000ad" stroke-width="12.4"/>
<path d="M536.6 802.4h0" stroke="#000080" stroke-width="12.4"/>
<path d="M641.3 665h0M820.9 456.3h0" stroke="#0000ad" stroke-width="12.4"/>
<path d="M353.5 919.6h0" stroke="#00a8ff" stroke-width="12.4"/>
<path d="M793.6 470.7h0" stroke="#0000ad" stroke-width="12.4"/>
<path d="M427.6 801.3h0" stroke="#0028ff" stroke-width="12.4"/>
<path d="M762.3 543h0" stroke="#0000ad" stroke-width="12.4"/>
<path d="M213 1021h0" stroke="#7dff7a" stroke-width="12.4"/>
<path d="M794.3 513.8h0" stroke="#0000ad" stroke-width="12.4"/>
<path d="M888.7 436.6h0M473.9 716.5h0M865.8 409.5h0M833 431.4h0" stroke="#000080" stroke-width="12.4"/>
<path d="M408.4 817.1h0" stroke="#0000ff" stroke-width="12.4"/>
<path d="M320.4 901.4h0M765.6 549.8h0M414.2 884.4h0" stroke="#0000ad" stroke-width="12.4"/>
<path d="M235.6 997.3h0" stroke="#f4f802" stroke-width="12.4"/>
<path d="M668 571.3h0" stroke="#000096" stroke-width="12.4"/>
<path d="M620.7 578.1h0" stroke="#000080" stroke-width="12.4"/>
<path d="M350 877.7h0" stroke="#0014ff" stroke-width="12.4"/>
<path d="M765.7 499.9h0" stroke="#0000ad" stroke-width="12.4"/>
<path d="M622.2 583.5h0" stroke="#000080" stroke-width="12.4"/>
<path d="M531.6 766.3h0" stroke="#0000c8" stroke-width="12.4"/>
<path d="M893 379.3h0M558.3 774.4h0M457.6 747.9h0" stroke="#000080" stroke-width="12.4"/>
<path d="M694.8 618.2h0" stroke="#0000ad" stroke-width="12.4"/>
<path d="M264.3 965.5h0" stroke="#02e8f4" stroke-width="12.4"/>
<path d="M693 621.1h0" stroke="#0000ad" stroke-width="12.4"/>
<path d="M418.4 794.5h0" stroke="#000096" stroke-width="12.4"/>
<path d="M348.2 927h0" stroke="#0014ff" stroke-width="12.4"/>
<path d="M785.9 470.9h0" stroke="#000096" stroke-width="12.4"/>
<path d="M517.1 714.6h0" stroke="#0000c8" stroke-width="12.4"/>
<path d="M399 883.6h0" stroke="#0054ff" stroke-width="12.4"/>
<path d="M310.9 961.6h0" stroke="#0014ff" stroke-width="12.4"/>
<path d="M672 561.4h0" stroke="#000096" stroke-width="12.4"/>
<path d="M801.8 472.1h0" stroke="#0000ad" stroke-width="12.4"/>
<path d="M201.3 1044.2h0" stroke="#26ffd1" stroke-width="12.4"/>
<path d="M586.9 735.8h0" stroke="#000080" stroke-width="12.4"/>
<path d="M517.7 711.3h0" stroke="#0000c8" stroke-width="12.4"/>
<path d="M753.6 494.6h0" stroke="#000096" stroke-width="12.4"/>
<path d="M547.9 748.9h0" stroke="#0000df" stroke-width="12.4"/>
<path d="M268.3 991.3h0" stroke="#49ffad" stroke-width="12.4"/>
<path d="M510.2 785.8h0" stroke="#0000f6" stroke-width="12.4"/>
<path d="M258.9 997.7h0" stroke="#6aff8d" stroke-width="12.4"/>
<path d="M593.9 643h0" stroke="#0000ad" stroke-width="12.4"/>
<path d="M464.1 743h0M566.9 651.6h0" stroke="#000096" stroke-width="12.4"/>
<path d="M376.6 903.7h0" stroke="#0014ff" stroke-width="12.4"/>
<path d="M445.5 777.4h0" stroke="#0000c8" stroke-width="12.4"/>
<path d="M438.9 791.1h0" stroke="#0028ff" stroke-width="12.4"/>
<path d="M388.9 933.7h0" stroke="#000080" stroke-width="12.4"/>
<path d="M733.7 521.1h0" stroke="#0000ad" stroke-width="12.4"/>
<path d="M413.9 810.6h0" stroke="#0000ff" stroke-width="12.4"/>
<path d="M478.4 741.6h0" stroke="#0000ad" stroke-width="12.4"/>
<path d="M532.3 759.4h0" stroke="#0000ff" stroke-width="12.4"/>
<path d="M585.4 719.2h0" stroke="#0000c8" stroke-width="12.4"/>
<path d="M231.2 1021.5h0" stroke="#36ffc1" stroke-width="12.4"/>
<path d="M652.1 654.9h0" stroke="#0000ad" stroke-width="12.4"/>
<path d="M517.8 791.8h0M831.9 467.4h0" stroke="#000096" stroke-width="12.4"/>
<path d="M669.4 580h0" stroke="#0000c8" stroke-width="12.4"/>
<path d="M392.8 832.5h0" stroke="#0000ff" stroke-width="12.4"/>
<path d="M647.4 656.7h0M569.6 736h0" stroke="#0000c8" stroke-width="12.4"/>
<path d="M749.1 569.1h0" stroke="#000096" stroke-width="12.4"/>
<path d="M351.7 875.6h0" stroke="#0028ff" stroke-width="12.4"/>
<path d="M875.2 430.2h0" stroke="#000080" stroke-width="12.4"/>
<path d="M719.5 529.6h0M863.5 443.6h0M634.7 589.6h0" stroke="#000096" stroke-width="12.4"/>
<path d="M427 805.8h0" stroke="#0068ff" stroke-width="12.4"/>
<path d="M666.6 572.8h0" stroke="#000096" stroke-width="12.4"/>
<path d="M824.1 477.5h0M486.7 819.1h0" stroke="#0000ad" stroke-width="12.4"/>
<path d="M827.5 469.4h0" stroke="#000096" stroke-width="12.4"/>
<path d="M414.3 800.1h0M667.3 579.9h0" stroke="#0000ad" stroke-width="12.4"/>
<path d="M679.5 641.7h0" stroke="#000096" stroke-width="12.4"/>
<path d="M545 693.1h0" stroke="#0000df" stroke-width="12.4"/>
<path d="M537.9 689.9h0" stroke="#0000ad" stroke-width="12.4"/>
<path d="M185.4 1051.1h0" stroke="#00c0ff" stroke-width="12.4"/>
<path d="M689 620.2h0" stroke="#0000ad" stroke-width="12.4"/>
<path d="M283.6 981.2h0" stroke="#00d4ff" stroke-width="12.4"/>
<path d="M795.1 550h0" stroke="#000080" stroke-width="12.4"/>
<path d="M472.6 747.8h0" stroke="#0000ad" stroke-width="12.4"/>
<path d="M374.3 928.7h0" stroke="#000096" stroke-width="12.4"/>
<path d="M695.5 608.5h0" stroke="#0000c8" stroke-width="12.4"/>
<path d="M799.2 521.7h0" stroke="#000096" stroke-width="12.4"/>
<path d="M427.1 861.1h0" stroke="#0014ff" stroke-width="12.4"/>
<path d="M450.3 765.2h0" stroke="#000096" stroke-width="12.4"/>
<path d="M653.8 646.3h0" stroke="#0000df" stroke-width="12.4"/>
<path d="M762.5 548.3h0" stroke="#0000ad" stroke-width="12.4"/>
<path d="M762.7 533.8h0" stroke="#0000c8" stroke-width="12.4"/>
<path d="M812.2 493.3h0" stroke="#0000ad" stroke-width="12.4"/>
<path d="M223.1 1029.3h0" stroke="#26ffd1" stroke-width="12.4"/>
<path d="M681 569.9h0" stroke="#0000ad" stroke-width="12.4"/>
<path d="M279.2 988.4h0" stroke="#0000df" stroke-width="12.4"/>
<path d="M583.2 649.4h0" stroke="#0000ad" stroke-width="12.4"/>
<path d="M767.8 528h0" stroke="#0000c8" stroke-width="12.4"/>
<path d="M376.7 851.7h0" stroke="#0000ff" stroke-width="12.4"/>
<path d="M755.6 467.1h0" stroke="#000080" stroke-width="12.4"/>
<path d="M719.9 544.1h0" stroke="#0000df" stroke-width="12.4"/>
<path d="M294.5 966.6h0" stroke="#6aff8d" stroke-width="12.4"/>
<path d="M854.4 439.4h0" stroke="#000096" stroke-width="12.4"/>
<path d="M582.5 720.7h0" stroke="#0000c8" stroke-width="12.4"/>
<path d="M819.1 493.3h0" stroke="#000096" stroke-width="12.4"/>
<path d="M514.9 820.9h0M580.3 747.9h0" stroke="#000080" stroke-width="12.4"/>
<path d="M402.3 821.6h0" stroke="#0000f6" stroke-width="12.4"/>
<path d="M784.4 496.3h0" stroke="#0000ad" stroke-width="12.4"/>
<path d="M477.8 821.1h0" stroke="#0000c8" stroke-width="12.4"/>
<path d="M309 958.8h0" stroke="#00c0ff" stroke-width="12.4"/>
<path d="M320.9 950.9h0" stroke="#0000ff" stroke-width="12.4"/>
<path d="M470.1 824.7h0" stroke="#0000f6" stroke-width="12.4"/>
<path d="M794.6 474h0" stroke="#0000ad" stroke-width="12.4"/>
<path d="M322.8 947.9h0" stroke="#0080ff" stroke-width="12.4"/>
<path d="M256.4 973h0" stroke="#36ffc1" stroke-width="12.4"/>
<path d="M489.2 727.6h0" stroke="#000096" stroke-width="12.4"/>
<path d="M866.1 419.8h0" stroke="#000080" stroke-width="12.4"/>
<path d="M757.3 511.4h0" stroke="#0000ad" stroke-width="12.4"/>
<path d="M539.7 674.4h0" stroke="#000096" stroke-width="12.4"/>
<path d="M681 622.1h0" stroke="#0000c8" stroke-width="12.4"/>
<path d="M630.6 677.7h0" stroke="#0000ad" stroke-width="12.4"/>
<path d="M428.9 876.3h0M809.2 501.4h0" stroke="#000096" stroke-width="12.4"/>
<path d="M554 748.6h0" stroke="#0000c8" stroke-width="12.4"/>
<path d="M383.4 837.4h0" stroke="#0000df" stroke-width="12.4"/>
<path d="M680.9 569h0" stroke="#0000ad" stroke-width="12.4"/>
<path d="M836.5 451.5h0" stroke="#000096" stroke-width="12.4"/>
<path d="M633.5 610.2h0" stroke="#0000c8" stroke-width="12.4"/>
<path d="M669.4 638.7h0" stroke="#0000ad" stroke-width="12.4"/>
<path d="M680.5 551.6h0" stroke="#000096" stroke-width="12.4"/>
<path d="M874.9 445.5h0" stroke="#000080" stroke-width="12.4"/>
<path d="M216.6 1016.4h0" stroke="#6aff8d" stroke-width="12.4"/>
<path d="M632.3 615.6h0" stroke="#0000c8" stroke-width="12.4"/>
<path d="M704.9 543.4h0" stroke="#0000ad" stroke-width="12.4"/>
<path d="M783.9 577.5h0M622.5 766.1h0" stroke="#000080" stroke-width="12.4"/>
<path d="M456.7 840.9h0" stroke="#0000c8" stroke-width="12.4"/>
<path d="M428.8 877.6h0M770.1 482.9h0" stroke="#000096" stroke-width="12.4"/>
<path d="M517.3 716.7h0" stroke="#0000df" stroke-width="12.4"/>
<path d="M810.2 472.9h0" stroke="#0000ad" stroke-width="12.4"/>
<path d="M425.8 808.5h0" stroke="#0094ff" stroke-width="12.4"/>
<path d="M450.9 840.5h0" stroke="#0000f6" stroke-width="12.4"/>
<path d="M369.2 920.2h0" stroke="#0000ad" stroke-width="12.4"/>
<path d="M528.3 690.9h0" stroke="#000096" stroke-width="12.4"/>
<path d="M683.3 614.2h0" stroke="#0000f6" stroke-width="12.4"/>
<path d="M715.2 548.3h0" stroke="#0000df" stroke-width="12.4"/>
<path d="M307.4 967.2h0" stroke="#0000c8" stroke-width="12.4"/>
<path d="M438.1 792.2h0" stroke="#0028ff" stroke-width="12.4"/>
<path d="M562.6 663.7h0" stroke="#000096" stroke-width="12.4"/>
<path d="M682.8 625.8h0" stroke="#0000c8" stroke-width="12.4"/>
<path d="M546.1 647.2h0M755.6 436.6h0" stroke="#000080" stroke-width="12.4"/>
<path d="M482.1 750.4h0" stroke="#0000ff" stroke-width="12.4"/>
<path d="M725.1 535.5h0" stroke="#0000ad" stroke-width="12.4"/>
<path d="M414.1 794.9h0" stroke="#000096" stroke-width="12.4"/>
<path d="M690.1 508.6h0" stroke="#000080" stroke-width="12.4"/>
<path d="M681.7 578.5h0" stroke="#0000f6" stroke-width="12.4"/>
<path d="M769.5 488.8h0" stroke="#000096" stroke-width="12.4"/>
<path d="M736.8 530.2h0" stroke="#0000c8" stroke-width="12.4"/>
<path d="M275.3 954.8h0" stroke="#49ffad" stroke-width="12.4"/>
<path d="M340.9 881.9h0" stroke="#0014ff" stroke-width="12.4"/>
<path d="M454.8 898.3h0" stroke="#000080" stroke-width="12.4"/>
<path d="M723.2 581.7h0" stroke="#0000ad" stroke-width="12.4"/>
<path d="M221.2 1012.6h0" stroke="#e4ff13" stroke-width="12.4"/>
<path d="M420.6 866.2h0" stroke="#0000f6" stroke-width="12.4"/>
<path d="M785.1 515.3h0M680.1 633.2h0" stroke="#0000ad" stroke-width="12.4"/>
<path d="M673.8 584.2h0" stroke="#0000df" stroke-width="12.4"/>
<path d="M707.9 594.6h0" stroke="#0000c8" stroke-width="12.4"/>
<path d="M489.9 742.5h0" stroke="#0000df" stroke-width="12.4"/>
<path d="M408.6 883.6h0" stroke="#0000c8" stroke-width="12.4"/>
<path d="M873.4 399.9h0" stroke="#000080" stroke-width="12.4"/>
<path d="M680.2 629.9h0" stroke="#0000ad" stroke-width="12.4"/>
<path d="M508.4 720.5h0" stroke="#0000c8" stroke-width="12.4"/>
<path d="M432.7 859h0" stroke="#0000df" stroke-width="12.4"/>
<path d="M732.5 514.6h0" stroke="#000096" stroke-width="12.4"/>
<path d="M561 742.4h0M823.6 469.7h0" stroke="#0000ad" stroke-width="12.4"/>
<path d="M522.8 775.8h0" stroke="#0000c8" stroke-width="12.4"/>
<path d="M395.8 824h0" stroke="#0000df" stroke-width="12.4"/>
<path d="M184.4 1055.9h0" stroke="#0054ff" stroke-width="12.4"/>
<path d="M401.4 798.4h0M888.8 369h0" stroke="#000080" stroke-width="12.4"/>
<path d="M366.5 860.4h0" stroke="#0040ff" stroke-width="12.4"/>
<path d="M308 919.5h0" stroke="#0080ff" stroke-width="12.4"/>
<path d="M583.3 728.9h0M791.4 528.1h0M746 508.6h0" stroke="#000096" stroke-width="12.4"/>
<path d="M872.7 421.2h0M862.7 419.9h0" stroke="#000080" stroke-width="12.4"/>
<path d="M855.3 439.4h0M706.3 610.6h0" stroke="#000096" stroke-width="12.4"/>
<path d="M210.9 1024.1h0" stroke="#c1ff36" stroke-width="12.4"/>
<path d="M526.3 766.4h0" stroke="#0000ff" stroke-width="12.4"/>
<path d="M508.9 801.9h0" stroke="#000096" stroke-width="12.4"/>
<path d="M772 605.2h0" stroke="#000080" stroke-width="12.4"/>
<path d="M485 812.9h0" stroke="#0000df" stroke-width="12.4"/>
<path d="M309.1 958.2h0" stroke="#00d4ff" stroke-width="12.4"/>
<path d="M532.6 826.5h0" stroke="#000080" stroke-width="12.4"/>
<path d="M468.2 836.8h0" stroke="#0000ad" stroke-width="12.4"/>
<path d="M409.3 882.3h0" stroke="#0000c8" stroke-width="12.4"/>
<path d="M431.2 855.3h0" stroke="#0028ff" stroke-width="12.4"/>
<path d="M882.5 406.1h0" stroke="#000080" stroke-width="12.4"/>
<path d="M626 686.7h0M653.5 585.6h0" stroke="#0000ad" stroke-width="12.4"/>
<path d="M658.4 665.2h0M708.6 530.4h0" stroke="#000096" stroke-width="12.4"/>
<path d="M634.5 674.2h0M753.1 554h0M786.4 488.2h0" stroke="#0000ad" stroke-width="12.4"/>
<path d="M690.9 562.2h0" stroke="#0000c8" stroke-width="12.4"/>
<path d="M276.3 987.3h0" stroke="#0080ff" stroke-width="12.4"/>
<path d="M594.2 649.9h0" stroke="#0000df" stroke-width="12.4"/>
<path d="M734.8 596.9h0" stroke="#000080" stroke-width="12.4"/>
<path d="M636.2 615.6h0" stroke="#0000df" stroke-width="12.4"/>
<path d="M270.2 960.7h0" stroke="#6aff8d" stroke-width="12.4"/>
<path d="M596 640.8h0" stroke="#0000ad" stroke-width="12.4"/>
<path d="M644.1 660.2h0" stroke="#0000c8" stroke-width="12.4"/>
<path d="M723.6 575.7h0" stroke="#0000df" stroke-width="12.4"/>
<path d="M363.6 862h0" stroke="#0000f6" stroke-width="12.4"/>
<path d="M726.4 590.8h0" stroke="#000096" stroke-width="12.4"/>
<path d="M667 586.7h0" stroke="#0000df" stroke-width="12.4"/>
<path d="M596.8 636.6h0M636.9 602.1h0" stroke="#0000ad" stroke-width="12.4"/>
<path d="M786.9 508.9h0" stroke="#0000c8" stroke-width="12.4"/>
<path d="M849.5 434.8h0" stroke="#000096" stroke-width="12.4"/>
<path d="M361 839.2h0" stroke="#000080" stroke-width="12.4"/>
<path d="M789.1 477.5h0M571.9 733.2h0" stroke="#0000ad" stroke-width="12.4"/>
<path d="M301.7 929.3h0" stroke="#49ffad" stroke-width="12.4"/>
<path d="M808.6 478.7h0" stroke="#0000ad" stroke-width="12.4"/>
<path d="M849 420.7h0" stroke="#000080" stroke-width="12.4"/>
<path d="M377.7 854.4h0" stroke="#0068ff" stroke-width="12.4"/>
<path d="M285.6 977.7h0" stroke="#16ffe1" stroke-width="12.4"/>
<path d="M710.5 547.6h0" stroke="#0000c8" stroke-width="12.4"/>
<path d="M816.8 497.8h0" stroke="#000096" stroke-width="12.4"/>
<path d="M372.6 841.6h0" stroke="#0000ad" stroke-width="12.4"/>
<path d="M377.3 900.7h0" stroke="#0028ff" stroke-width="12.4"/>
<path d="M711.5 548.3h0" stroke="#0000c8" stroke-width="12.4"/>
<path d="M508.5 727.1h0" stroke="#0000f6" stroke-width="12.4"/>
<path d="M754.9 550.4h0" stroke="#0000ad" stroke-width="12.4"/>
<path d="M773.8 538.6h0" stroke="#000096" stroke-width="12.4"/>
<path d="M419.1 877.4h0" stroke="#0000ad" stroke-width="12.4"/>
<path d="M282.2 946.9h0" stroke="#00d4ff" stroke-width="12.4"/>
<path d="M593.7 713.5h0" stroke="#0000ad" stroke-width="12.4"/>
<path d="M836.9 460.1h0" stroke="#000096" stroke-width="12.4"/>
<path d="M760 547.4h0" stroke="#0000ad" stroke-width="12.4"/>
<path d="M199.5 1033.8h0" stroke="#36ffc1" stroke-width="12.4"/>
<path d="M706.5 603.8h0" stroke="#0000ad" stroke-width="12.4"/>
<path d="M628.3 604h0" stroke="#000096" stroke-width="12.4"/>
<path d="M240.6 993.8h0" stroke="#d1ff26" stroke-width="12.4"/>
<path d="M400.2 825.9h0" stroke="#0014ff" stroke-width="12.4"/>
<path d="M651.3 580.5h0" stroke="#000096" stroke-width="12.4"/>
<path d="M782.6 518.8h0" stroke="#0000ad" stroke-width="12.4"/>
<path d="M713.8 621.3h0M511.7 669.9h0" stroke="#000080" stroke-width="12.4"/>
<path d="M747 554h0" stroke="#0000c8" stroke-width="12.4"/>
<path d="M731.5 570.3h0" stroke="#0000df" stroke-width="12.4"/>
<path d="M302.1 931.8h0" stroke="#b1ff46" stroke-width="12.4"/>
<path d="M727.1 635.5h0" stroke="#000080" stroke-width="12.4"/>
<path d="M734 579.9h0" stroke="#0000ad" stroke-width="12.4"/>
<path d="M703.7 486.5h0" stroke="#000080" stroke-width="12.4"/>
<path d="M415.8 809.4h0" stroke="#0000ff" stroke-width="12.4"/>
<path d="M676.5 618.5h0" stroke="#0000f6" stroke-width="12.4"/>
<path d="M731.8 604.7h0" stroke="#000080" stroke-width="12.4"/>
<path d="M826.7 461.8h0" stroke="#000096" stroke-width="12.4"/>
<path d="M705.7 606.7h0" stroke="#0000ad" stroke-width="12.4"/>
<path d="M688.5 569.1h0" stroke="#0000c8" stroke-width="12.4"/>
<path d="M783 554.7h0" stroke="#000080" stroke-width="12.4"/>
<path d="M360.5 914.4h0" stroke="#0068ff" stroke-width="12.4"/>
<path d="M239.9 982h0" stroke="#0014ff" stroke-width="12.4"/>
<path d="M394.7 827.8h0" stroke="#0000df" stroke-width="12.4"/>
<path d="M768.3 559.6h0" stroke="#000096" stroke-width="12.4"/>
<path d="M743.1 490.4h0" stroke="#000080" stroke-width="12.4"/>
<path d="M394 893.2h0M560.2 674.4h0" stroke="#0000df" stroke-width="12.4"/>
<path d="M775.9 533.1h0" stroke="#0000ad" stroke-width="12.4"/>
<path d="M688.4 613.2h0" stroke="#0000df" stroke-width="12.4"/>
<path d="M369.9 907.2h0" stroke="#0094ff" stroke-width="12.4"/>
<path d="M604.7 638.8h0" stroke="#0000df" stroke-width="12.4"/>
<path d="M532.7 782.9h0" stroke="#000096" stroke-width="12.4"/>
<path d="M447.6 837.1h0" stroke="#0040ff" stroke-width="12.4"/>
<path d="M299.5 962.2h0" stroke="#7dff7a" stroke-width="12.4"/>
<path d="M745.6 515.4h0" stroke="#0000ad" stroke-width="12.4"/>
<path d="M760.4 537.1h0M766.3 508.3h0" stroke="#0000c8" stroke-width="12.4"/>
<path d="M354.2 852.6h0M426.5 776.7h0" stroke="#000080" stroke-width="12.4"/>
<path d="M782.7 486.5h0" stroke="#0000ad" stroke-width="12.4"/>
<path d="M328 941.7h0" stroke="#16ffe1" stroke-width="12.4"/>
<path d="M187.3 1047.8h0" stroke="#02e8f4" stroke-width="12.4"/>
<path d="M754.6 542.7h0" stroke="#0000c8" stroke-width="12.4"/>
<path d="M275.4 952.5h0" stroke="#00a8ff" stroke-width="12.4"/>
<path d="M645.1 655.9h0" stroke="#0000c8" stroke-width="12.4"/>
<path d="M199.6 1044.8h0" stroke="#36ffc1" stroke-width="12.4"/>
<path d="M651.4 597.2h0" stroke="#0000c8" stroke-width="12.4"/>
<path d="M619.6 691.4h0" stroke="#0000ad" stroke-width="12.4"/>
<path d="M776.8 474.2h0" stroke="#000096" stroke-width="12.4"/>
<path d="M767.1 513.5h0" stroke="#0000c8" stroke-width="12.4"/>
<path d="M274.8 988.4h0" stroke="#00a8ff" stroke-width="12.4"/>
<path d="M496.3 807.9h0M693.9 613.6h0" stroke="#0000c8" stroke-width="12.4"/>
<path d="M765.3 478.4h0" stroke="#000096" stroke-width="12.4"/>
<path d="M802 476.5h0M685.9 570.3h0" stroke="#0000c8" stroke-width="12.4"/>
<path d="M647 649.8h0" stroke="#0000df" stroke-width="12.4"/>
<path d="M526.2 764.3h0" stroke="#0014ff" stroke-width="12.4"/>
<path d="M592.7 658h0M566.8 728.7h0" stroke="#0000ff" stroke-width="12.4"/>
<path d="M726.3 598.2h0M820.2 454.5h0" stroke="#000096" stroke-width="12.4"/>
<path d="M317.5 953.7h0" stroke="#0080ff" stroke-width="12.4"/>
<path d="M524.5 766.5h0" stroke="#0014ff" stroke-width="12.4"/>
<path d="M258.1 972.1h0" stroke="#7dff7a" stroke-width="12.4"/>
<path d="M429.7 791.9h0" stroke="#0000c8" stroke-width="12.4"/>
<path d="M322.9 899.3h0" stroke="#0000df" stroke-width="12.4"/>
<path d="M231.6 1000.5h0" stroke="#c1ff36" stroke-width="12.4"/>
<path d="M640.4 659.1h0" stroke="#0000df" stroke-width="12.4"/>
<path d="M365.8 903.5h0" stroke="#5aff9d" stroke-width="12.4"/>
<path d="M521.8 775.1h0" stroke="#0000df" stroke-width="12.4"/>
<path d="M710.6 511.4h0M356.6 852h0" stroke="#000080" stroke-width="12.4"/>
<path d="M498.9 713.8h0" stroke="#000096" stroke-width="12.4"/>
<path d="M570 665.7h0" stroke="#0000c8" stroke-width="12.4"/>
<path d="M522.4 764.9h0" stroke="#0040ff" stroke-width="12.4"/>
<path d="M273.2 961.9h0" stroke="#ffbd00" stroke-width="12.4"/>
<path d="M721.3 482.6h0" stroke="#000080" stroke-width="12.4"/>
<path d="M547 677.6h0" stroke="#0000ad" stroke-width="12.4"/>
<path d="M520.3 772.3h0" stroke="#0000ff" stroke-width="12.4"/>
<path d="M330.2 935.8h0" stroke="#7dff7a" stroke-width="12.4"/>
<path d="M355.7 867.8h0" stroke="#0014ff" stroke-width="12.4"/>
<path d="M718.6 590.2h0" stroke="#0000ad" stroke-width="12.4"/>
<path d="M190 1043.1h0" stroke="#02e8f4" stroke-width="12.4"/>
<path d="M216.8 1033.8h0" stroke="#26ffd1" stroke-width="12.4"/>
<path d="M311.6 950.9h0" stroke="#9dff5a" stroke-width="12.4"/>
<path d="M477.2 732.2h0" stroke="#000096" stroke-width="12.4"/>
<path d="M288.9 940.5h0" stroke="#02e8f4" stroke-width="12.4"/>
<path d="M396.4 884.2h0" stroke="#0068ff" stroke-width="12.4"/>
<path d="M296.1 964.2h0" stroke="#8dff6a" stroke-width="12.4"/>
<path d="M640 656.6h0" stroke="#0000df" stroke-width="12.4"/>
<path d="M765.3 528h0" stroke="#0000c8" stroke-width="12.4"/>
<path d="M549.6 669.8h0" stroke="#000096" stroke-width="12.4"/>
<path d="M890.9 417h0" stroke="#000080" stroke-width="12.4"/>
<path d="M786.2 503.5h0" stroke="#0000c8" stroke-width="12.4"/>
<path d="M731.3 517.8h0" stroke="#000096" stroke-width="12.4"/>
<path d="M780.4 488.7h0" stroke="#0000ad" stroke-width="12.4"/>
<path d="M192.2 1044.2h0" stroke="#26ffd1" stroke-width="12.4"/>
<path d="M414.4 815.4h0" stroke="#0028ff" stroke-width="12.4"/>
<path d="M354 923h0" stroke="#0040ff" stroke-width="12.4"/>
<path d="M884.1 400.2h0" stroke="#000080" stroke-width="12.4"/>
<path d="M508.8 703.5h0" stroke="#000096" stroke-width="12.4"/>
<path d="M396.2 887.3h0" stroke="#0014ff" stroke-width="12.4"/>
<path d="M422.8 858.5h0" stroke="#0080ff" stroke-width="12.4"/>
<path d="M762.8 525.7h0" stroke="#0000c8" stroke-width="12.4"/>
<path d="M345 932.8h0" stroke="#0028ff" stroke-width="12.4"/>
<path d="M669.6 589.3h0" stroke="#0000f6" stroke-width="12.4"/>
<path d="M239.8 1012.2h0" stroke="#9dff5a" stroke-width="12.4"/>
<path d="M587.7 699.7h0" stroke="#0028ff" stroke-width="12.4"/>
<path d="M229.2 1021.5h0" stroke="#6aff8d" stroke-width="12.4"/>
<path d="M767.2 571h0" stroke="#000096" stroke-width="12.4"/>
<path d="M610 693.6h0" stroke="#0000c8" stroke-width="12.4"/>
<path d="M817.1 462.5h0" stroke="#0000ad" stroke-width="12.4"/>
<path d="M241.8 1007.5h0" stroke="#f4f802" stroke-width="12.4"/>
<path d="M599.8 703.1h0M554.5 676h0" stroke="#0000c8" stroke-width="12.4"/>
<path d="M481.3 753.4h0" stroke="#0014ff" stroke-width="12.4"/>
<path d="M196.9 1046h0" stroke="#49ffad" stroke-width="12.4"/>
<path d="M749 552.9h0" stroke="#0000c8" stroke-width="12.4"/>
<path d="M550.2 673.3h0" stroke="#0000ad" stroke-width="12.4"/>
<path d="M757.6 535.1h0" stroke="#0000df" stroke-width="12.4"/>
<path d="M856.7 427.9h0" stroke="#000080" stroke-width="12.4"/>
<path d="M318.4 950.4h0" stroke="#00a8ff" stroke-width="12.4"/>
<path d="M277.4 955.6h0" stroke="#b1ff46" stroke-width="12.4"/>
<path d="M289.9 974.9h0" stroke="#00a8ff" stroke-width="12.4"/>
<path d="M777.1 507.1h0" stroke="#0000c8" stroke-width="12.4"/>
<path d="M870.9 458.7h0M679.3 543.6h0" stroke="#000080" stroke-width="12.4"/>
<path d="M320.3 949.2h0" stroke="#0094ff" stroke-width="12.4"/>
<path d="M658.1 591.3h0" stroke="#0000c8" stroke-width="12.4"/>
<path d="M452.4 771.1h0" stroke="#0000df" stroke-width="12.4"/>
<path d="M183.3 1054.7h0" stroke="#0068ff" stroke-width="12.4"/>
<path d="M551.4 687.6h0" stroke="#0000f6" stroke-width="12.4"/>
<path d="M728.3 538.5h0" stroke="#0000c8" stroke-width="12.4"/>
<path d="M781.5 525.8h0" stroke="#0000ad" stroke-width="12.4"/>
<path d="M802.8 492.9h0M636.4 609.8h0" stroke="#0000c8" stroke-width="12.4"/>
<path d="M702.3 604.4h0" stroke="#0000ad" stroke-width="12.4"/>
<path d="M519.7 715.4h0" stroke="#0000df" stroke-width="12.4"/>
<path d="M372.7 903h0" stroke="#0094ff" stroke-width="12.4"/>
<path d="M563.3 734.9h0" stroke="#0000f6" stroke-width="12.4"/>
<path d="M322.3 901.2h0" stroke="#0000c8" stroke-width="12.4"/>
<path d="M769 489.2h0M493.8 818.9h0" stroke="#000096" stroke-width="12.4"/>
<path d="M646.3 713h0" stroke="#000080" stroke-width="12.4"/>
<path d="M748.5 583.5h0" stroke="#000096" stroke-width="12.4"/>
<path d="M760.4 532.4h0" stroke="#0000df" stroke-width="12.4"/>
<path d="M393.7 831.2h0M565.1 676h0" stroke="#0000ff" stroke-width="12.4"/>
<path d="M500.3 734h0" stroke="#0000f6" stroke-width="12.4"/>
<path d="M227.2 1008.3h0" stroke="#c1ff36" stroke-width="12.4"/>
<path d="M661.4 585.3h0" stroke="#0000c8" stroke-width="12.4"/>
<path d="M755 539.1h0" stroke="#0000df" stroke-width="12.4"/>
<path d="M789.6 506.1h0" stroke="#0000c8" stroke-width="12.4"/>
<path d="M782.9 485.3h0" stroke="#0000ad" stroke-width="12.4"/>
<path d="M591.5 711.6h0" stroke="#0000c8" stroke-width="12.4"/>
<path d="M495.8 740.2h0" stroke="#0000ff" stroke-width="12.4"/>
<path d="M333.2 903.9h0" stroke="#9dff5a" stroke-width="12.4"/>
<path d="M671.4 592.8h0" stroke="#0000ff" stroke-width="12.4"/>
<path d="M760.7 511.4h0" stroke="#0000ad" stroke-width="12.4"/>
<path d="M787.5 502.6h0" stroke="#0000c8" stroke-width="12.4"/>
<path d="M237.5 1013.3h0" stroke="#b1ff46" stroke-width="12.4"/>
<path d="M594.3 646.5h0" stroke="#0000c8" stroke-width="12.4"/>
<path d="M899.4 394.8h0" stroke="#000080" stroke-width="12.4"/>
<path d="M372.8 857.6h0" stroke="#0094ff" stroke-width="12.4"/>
<path d="M192.7 1051h0" stroke="#16ffe1" stroke-width="12.4"/>
<path d="M276.3 959h0" stroke="#ffab00" stroke-width="12.4"/>
<path d="M501.5 729h0" stroke="#0000c8" stroke-width="12.4"/>
<path d="M531.4 759.4h0" stroke="#0014ff" stroke-width="12.4"/>
<path d="M429.6 795.8h0" stroke="#0000ff" stroke-width="12.4"/>
<path d="M763.9 550.4h0M528.8 696h0" stroke="#0000ad" stroke-width="12.4"/>
<path d="M859.2 440h0" stroke="#000096" stroke-width="12.4"/>
<path d="M749.7 543.3h0" stroke="#0000df" stroke-width="12.4"/>
<path d="M788.1 482h0M532.6 695.7h0" stroke="#0000c8" stroke-width="12.4"/>
<path d="M506.7 790.1h0M746.2 540.1h0" stroke="#0000df" stroke-width="12.4"/>
<path d="M239 1019.7h0" stroke="#00a8ff" stroke-width="12.4"/>
<path d="M617.9 629h0" stroke="#0000c8" stroke-width="12.4"/>
<path d="M602.9 642.5h0" stroke="#0000df" stroke-width="12.4"/>
<path d="M609.8 631.7h0" stroke="#0000c8" stroke-width="12.4"/>
<path d="M342.5 889h0" stroke="#00d4ff" stroke-width="12.4"/>
<path d="M424.2 808.6h0" stroke="#0068ff" stroke-width="12.4"/>
<path d="M374.4 902h0" stroke="#0080ff" stroke-width="12.4"/>
<path d="M558.9 684.3h0" stroke="#0000ff" stroke-width="12.4"/>
<path d="M570.8 670.1h0" stroke="#0000f6" stroke-width="12.4"/>
<path d="M757.7 513.9h0" stroke="#0000ad" stroke-width="12.4"/>
<path d="M864.3 441h0" stroke="#000080" stroke-width="12.4"/>
<path d="M322.5 908.4h0" stroke="#00c0ff" stroke-width="12.4"/>
<path d="M553.1 679.6h0" stroke="#0000c8" stroke-width="12.4"/>
<path d="M348.6 918.5h0" stroke="#5aff9d" stroke-width="12.4"/>
<path d="M311.1 949.7h0" stroke="#e4ff13" stroke-width="12.4"/>
<path d="M315.4 979.9h0" stroke="#000080" stroke-width="12.4"/>
<path d="M706.2 550.9h0" stroke="#0000c8" stroke-width="12.4"/>
<path d="M525 707.2h0" stroke="#0000df" stroke-width="12.4"/>
<path d="M678 588.7h0" stroke="#0000f6" stroke-width="12.4"/>
<path d="M456.4 861.8h0" stroke="#000080" stroke-width="12.4"/>
<path d="M387.9 838.3h0" stroke="#0000ff" stroke-width="12.4"/>
<path d="M531.1 693.4h0" stroke="#0000ad" stroke-width="12.4"/>
<path d="M798.3 482.4h0" stroke="#0000c8" stroke-width="12.4"/>
<path d="M455.7 763.6h0" stroke="#0000ad" stroke-width="12.4"/>
<path d="M641.6 585.4h0" stroke="#000096" stroke-width="12.4"/>
<path d="M535.2 772.3h0M709.6 536.7h0" stroke="#0000ad" stroke-width="12.4"/>
<path d="M838.8 469.8h0" stroke="#000080" stroke-width="12.4"/>
<path d="M279.8 956.4h0" stroke="#ffbd00" stroke-width="12.4"/>
<path d="M575.3 657.2h0M810.5 497.1h0" stroke="#0000ad" stroke-width="12.4"/>
<path d="M417 814.7h0" stroke="#0040ff" stroke-width="12.4"/>
<path d="M827.7 408.8h0" stroke="#000080" stroke-width="12.4"/>
<path d="M606 693.6h0" stroke="#0000df" stroke-width="12.4"/>
<path d="M600.4 712.6h0M640.9 671.5h0" stroke="#000096" stroke-width="12.4"/>
<path d="M491 796.6h0" stroke="#0040ff" stroke-width="12.4"/>
<path d="M222.5 1024.6h0" stroke="#b1ff46" stroke-width="12.4"/>
<path d="M264.6 999.5h0" stroke="#0028ff" stroke-width="12.4"/>
<path d="M753 580.2h0" stroke="#000096" stroke-width="12.4"/>
<path d="M291.7 968.2h0" stroke="#8dff6a" stroke-width="12.4"/>
<path d="M441.7 847.2h0" stroke="#0014ff" stroke-width="12.4"/>
<path d="M542.6 693.7h0" stroke="#0000df" stroke-width="12.4"/>
<path d="M670.3 646h0" stroke="#000096" stroke-width="12.4"/>
<path d="M355.2 833.9h0" stroke="#000080" stroke-width="12.4"/>
<path d="M271.7 963.9h0" stroke="#ffd000" stroke-width="12.4"/>
<path d="M679.6 580.7h0" stroke="#0000f6" stroke-width="12.4"/>
<path d="M792.4 515.6h0" stroke="#0000ad" stroke-width="12.4"/>
<path d="M859.9 428.4h0" stroke="#000080" stroke-width="12.4"/>
<path d="M639 653.5h0" stroke="#0000f6" stroke-width="12.4"/>
<path d="M357.9 864h0" stroke="#0000df" stroke-width="12.4"/>
<path d="M245.2 978.8h0" stroke="#0080ff" stroke-width="12.4"/>
<path d="M342.7 928.8h0" stroke="#00c0ff" stroke-width="12.4"/>
<path d="M332.8 935.6h0" stroke="#16ffe1" stroke-width="12.4"/>
<path d="M689.9 611.9h0" stroke="#0000df" stroke-width="12.4"/>
<path d="M736 533.7h0" stroke="#0000c8" stroke-width="12.4"/>
<path d="M297.3 932.8h0" stroke="#26ffd1" stroke-width="12.4"/>
<path d="M881.6 385.5h0" stroke="#000080" stroke-width="12.4"/>
<path d="M589.3 660.5h0" stroke="#0000f6" stroke-width="12.4"/>
<path d="M202.6 1041.3h0" stroke="#49ffad" stroke-width="12.4"/>
<path d="M749.1 519.6h0" stroke="#0000ad" stroke-width="12.4"/>
<path d="M740.4 552.3h0" stroke="#0000df" stroke-width="12.4"/>
<path d="M607.4 644.9h0" stroke="#0000f6" stroke-width="12.4"/>
<path d="M756.9 563.6h0" stroke="#000096" stroke-width="12.4"/>
<path d="M776.2 505.8h0" stroke="#0000c8" stroke-width="12.4"/>
<path d="M362.5 913.1h0" stroke="#0054ff" stroke-width="12.4"/>
<path d="M640.3 601.8h0" stroke="#0000ad" stroke-width="12.4"/>
<path d="M464.9 765.9h0" stroke="#0000ff" stroke-width="12.4"/>
<path d="M585.7 635.4h0" stroke="#000080" stroke-width="12.4"/>
<path d="M796.2 497.1h0" stroke="#0000c8" stroke-width="12.4"/>
<path d="M515.1 780.1h0" stroke="#0000df" stroke-width="12.4"/>
<path d="M840.3 468.5h0" stroke="#000080" stroke-width="12.4"/>
<path d="M718.6 578.6h0" stroke="#0000df" stroke-width="12.4"/>
<path d="M266.5 965.9h0" stroke="#5aff9d" stroke-width="12.4"/>
<path d="M244.9 1005.8h0" stroke="#d1ff26" stroke-width="12.4"/>
<path d="M520.5 704.5h0M438.1 861.5h0" stroke="#0000ad" stroke-width="12.4"/>
<path d="M456.1 767.6h0" stroke="#0000c8" stroke-width="12.4"/>
<path d="M624.7 681.3h0" stroke="#0000ad" stroke-width="12.4"/>
<path d="M382.2 837.7h0" stroke="#0000df" stroke-width="12.4"/>
<path d="M814.9 474.9h0" stroke="#0000ad" stroke-width="12.4"/>
<path d="M217.8 1013.7h0" stroke="#6aff8d" stroke-width="12.4"/>
<path d="M775.3 494.6h0" stroke="#0000ad" stroke-width="12.4"/>
<path d="M639.4 663h0" stroke="#0000c8" stroke-width="12.4"/>
<path d="M499.7 742h0" stroke="#0040ff" stroke-width="12.4"/>
<path d="M426.4 856.6h0" stroke="#0068ff" stroke-width="12.4"/>
<path d="M473.9 754h0" stroke="#0000df" stroke-width="12.4"/>
<path d="M634.7 623.4h0" stroke="#0000ff" stroke-width="12.4"/>
<path d="M333.7 904.4h0" stroke="#c1ff36" stroke-width="12.4"/>
<path d="M654.3 599h0" stroke="#0000f6" stroke-width="12.4"/>
<path d="M815.4 456.3h0" stroke="#000096" stroke-width="12.4"/>
<path d="M868 399.1h0" stroke="#000080" stroke-width="12.4"/>
<path d="M615.1 686.3h0M713.7 549.8h0M684.4 572.7h0" stroke="#0000df" stroke-width="12.4"/>
<path d="M233.4 1021.3h0" stroke="#02e8f4" stroke-width="12.4"/>
<path d="M656.7 570.1h0" stroke="#000080" stroke-width="12.4"/>
<path d="M494.4 744.4h0" stroke="#0028ff" stroke-width="12.4"/>
<path d="M330.6 896.3h0" stroke="#0068ff" stroke-width="12.4"/>
<path d="M669.9 598h0" stroke="#0000ff" stroke-width="12.4"/>
<path d="M489.1 744.2h0" stroke="#0000f6" stroke-width="12.4"/>
<path d="M478.9 816.4h0" stroke="#0000df" stroke-width="12.4"/>
<path d="M818.5 468.1h0" stroke="#0000ad" stroke-width="12.4"/>
<path d="M523.6 761.9h0" stroke="#0054ff" stroke-width="12.4"/>
<path d="M746.8 543.6h0M770.9 523.5h0" stroke="#0000df" stroke-width="12.4"/>
<path d="M292.3 979.9h0" stroke="#0000f6" stroke-width="12.4"/>
<path d="M741.4 560.7h0M411.8 881.6h0" stroke="#0000c8" stroke-width="12.4"/>
<path d="M610.3 703.1h0" stroke="#000096" stroke-width="12.4"/>
<path d="M572 674.2h0" stroke="#0014ff" stroke-width="12.4"/>
<path d="M772.3 515.2h0" stroke="#0000df" stroke-width="12.4"/>
<path d="M461.6 728.8h0" stroke="#000080" stroke-width="12.4"/>
<path d="M592.2 692.6h0" stroke="#0040ff" stroke-width="12.4"/>
<path d="M445 842.1h0" stroke="#0028ff" stroke-width="12.4"/>
<path d="M619.1 692.7h0" stroke="#0000ad" stroke-width="12.4"/>
<path d="M377 845.7h0" stroke="#0000df" stroke-width="12.4"/>
<path d="M765.4 515.7h0M702.7 600.2h0" stroke="#0000c8" stroke-width="12.4"/>
<path d="M309.2 917.1h0" stroke="#0068ff" stroke-width="12.4"/>
<path d="M369.7 902.1h0" stroke="#26ffd1" stroke-width="12.4"/>
<path d="M876 408.5h0" stroke="#000080" stroke-width="12.4"/>
<path d="M451 767.4h0" stroke="#0000ad" stroke-width="12.4"/>
<path d="M299.7 933.6h0" stroke="#9dff5a" stroke-width="12.4"/>
<path d="M565.3 644.4h0" stroke="#000080" stroke-width="12.4"/>
<path d="M660.5 650.1h0M727.1 531.9h0" stroke="#0000ad" stroke-width="12.4"/>
<path d="M498.9 804.8h0" stroke="#0000c8" stroke-width="12.4"/>
<path d="M528.8 758.6h0" stroke="#0040ff" stroke-width="12.4"/>
<path d="M448.7 780.1h0" stroke="#0000ff" stroke-width="12.4"/>
<path d="M592.2 663.5h0" stroke="#0014ff" stroke-width="12.4"/>
<path d="M760.5 497.1h0" stroke="#000096" stroke-width="12.4"/>
<path d="M790.8 485.7h0" stroke="#0000c8" stroke-width="12.4"/>
<path d="M876.6 444.1h0" stroke="#000080" stroke-width="12.4"/>
<path d="M466.4 824.5h0" stroke="#0014ff" stroke-width="12.4"/>
<path d="M189.6 1053.8h0" stroke="#0094ff" stroke-width="12.4"/>
<path d="M705.1 622.5h0" stroke="#000096" stroke-width="12.4"/>
<path d="M432.6 757.8h0M851.1 456.4h0" stroke="#000080" stroke-width="12.4"/>
<path d="M194.1 1040.7h0" stroke="#49ffad" stroke-width="12.4"/>
<path d="M651.5 645.8h0" stroke="#0000df" stroke-width="12.4"/>
<path d="M544.4 758h0" stroke="#0000ad" stroke-width="12.4"/>
<path d="M228.7 1006.1h0" stroke="#9dff5a" stroke-width="12.4"/>
<path d="M296.7 961.7h0" stroke="#e4ff13" stroke-width="12.4"/>
<path d="M424.3 870h0" stroke="#0000c8" stroke-width="12.4"/>
<path d="M560.9 741.3h0" stroke="#0000ad" stroke-width="12.4"/>
<path d="M312.6 914.1h0" stroke="#0054ff" stroke-width="12.4"/>
<path d="M192.9 1043h0" stroke="#36ffc1" stroke-width="12.4"/>
<path d="M800.8 498h0" stroke="#0000c8" stroke-width="12.4"/>
<path d="M347.3 927.3h0" stroke="#0040ff" stroke-width="12.4"/>
<path d="M607.9 607.8h0" stroke="#000080" stroke-width="12.4"/>
<path d="M324.5 909.4h0" stroke="#49ffad" stroke-width="12.4"/>
<path d="M353.8 917.3h0" stroke="#02e8f4" stroke-width="12.4"/>
<path d="M552.8 687.9h0" stroke="#0000ff" stroke-width="12.4"/>
<path d="M334.7 898.8h0" stroke="#02e8f4" stroke-width="12.4"/>
<path d="M867 468.5h0" stroke="#000080" stroke-width="12.4"/>
<path d="M716.2 605.4h0" stroke="#000096" stroke-width="12.4"/>
<path d="M541.1 700.4h0" stroke="#0000ff" stroke-width="12.4"/>
<path d="M549.2 681.3h0" stroke="#0000c8" stroke-width="12.4"/>
<path d="M533.7 773.7h0" stroke="#0000ad" stroke-width="12.4"/>
<path d="M435.9 794.4h0" stroke="#0028ff" stroke-width="12.4"/>
<path d="M429.2 853.3h0" stroke="#0068ff" stroke-width="12.4"/>
<path d="M651.1 646.2h0" stroke="#0000df" stroke-width="12.4"/>
<path d="M693 559.8h0" stroke="#0000c8" stroke-width="12.4"/>
<path d="M262.5 973.8h0" stroke="#ff5900" stroke-width="12.4"/>
<path d="M534.8 701.5h0" stroke="#0000f6" stroke-width="12.4"/>
<path d="M338.9 882.1h0" stroke="#0000ff" stroke-width="12.4"/>
<path d="M491.4 804.1h0" stroke="#0000f6" stroke-width="12.4"/>
<path d="M852.7 422.4h0" stroke="#000080" stroke-width="12.4"/>
<path d="M288.1 976.6h0" stroke="#00c0ff" stroke-width="12.4"/>
<path d="M488.8 750.1h0" stroke="#0028ff" stroke-width="12.4"/>
<path d="M740.4 525.6h0" stroke="#0000c8" stroke-width="12.4"/>
<path d="M594.9 648.8h0" stroke="#0000df" stroke-width="12.4"/>
<path d="M772.4 498.3h0" stroke="#0000ad" stroke-width="12.4"/>
<path d="M537.5 754.5h0" stroke="#0000ff" stroke-width="12.4"/>
<path d="M255.3 996.1h0" stroke="#ffe600" stroke-width="12.4"/>
<path d="M748.9 532.1h0" stroke="#0000df" stroke-width="12.4"/>
<path d="M564.4 678.8h0" stroke="#0014ff" stroke-width="12.4"/>
<path d="M633.6 667.8h0" stroke="#0000df" stroke-width="12.4"/>
<path d="M461.5 738.1h0" stroke="#000080" stroke-width="12.4"/>
<path d="M767.7 521.3h0" stroke="#0000df" stroke-width="12.4"/>
<path d="M689.2 549.2h0" stroke="#000096" stroke-width="12.4"/>
<path d="M252.7 979.7h0" stroke="#7dff7a" stroke-width="12.4"/>
<path d="M726.4 573.1h0" stroke="#0000df" stroke-width="12.4"/>
<path d="M309.8 924.3h0" stroke="#6aff8d" stroke-width="12.4"/>
<path d="M676.7 642h0" stroke="#000096" stroke-width="12.4"/>
<path d="M521 708.7h0" stroke="#0000c8" stroke-width="12.4"/>
<path d="M596.6 654.2h0" stroke="#0000f6" stroke-width="12.4"/>
<path d="M740 509.6h0" stroke="#000096" stroke-width="12.4"/>
<path d="M564.8 684.7h0" stroke="#0040ff" stroke-width="12.4"/>
<path d="M739 504.3h0" stroke="#000096" stroke-width="12.4"/>
<path d="M774.4 510.6h0M684.3 569.8h0" stroke="#0000c8" stroke-width="12.4"/>
<path d="M741.9 542.4h0" stroke="#0000f6" stroke-width="12.4"/>
<path d="M630.2 605.2h0" stroke="#000096" stroke-width="12.4"/>
<path d="M237.5 1012.1h0" stroke="#d1ff26" stroke-width="12.4"/>
<path d="M441.9 839.7h0" stroke="#0080ff" stroke-width="12.4"/>
<path d="M425.8 794.8h0" stroke="#0000df" stroke-width="12.4"/>
<path d="M591.8 664.8h0" stroke="#0028ff" stroke-width="12.4"/>
<path d="M416.9 816.7h0" stroke="#0068ff" stroke-width="12.4"/>
<path d="M637.8 615.5h0" stroke="#0000f6" stroke-width="12.4"/>
<path d="M509.7 782.2h0" stroke="#0014ff" stroke-width="12.4"/>
<path d="M274.4 961.9h0" stroke="#ff8200" stroke-width="12.4"/>
<path d="M184.4 1052.8h0" stroke="#0094ff" stroke-width="12.4"/>
<path d="M779.6 496.1h0" stroke="#0000ad" stroke-width="12.4"/>
<path d="M695.6 571.1h0" stroke="#0000f6" stroke-width="12.4"/>
<path d="M206.1 1028.7h0" stroke="#6aff8d" stroke-width="12.4"/>
<path d="M370.5 862.7h0" stroke="#02e8f4" stroke-width="12.4"/>
<path d="M693.8 574h0" stroke="#0000f6" stroke-width="12.4"/>
<path d="M214.7 1030.9h0" stroke="#7dff7a" stroke-width="12.4"/>
<path d="M477.8 813.6h0" stroke="#0000ff" stroke-width="12.4"/>
<path d="M834.3 466.1h0" stroke="#000096" stroke-width="12.4"/>
<path d="M395.3 839h0" stroke="#00a8ff" stroke-width="12.4"/>
<path d="M867 369.3h0" stroke="#000080" stroke-width="12.4"/>
<path d="M688.9 553.9h0" stroke="#000096" stroke-width="12.4"/>
<path d="M677.6 592.7h0" stroke="#0000ff" stroke-width="12.4"/>
<path d="M407 865.4h0" stroke="#36ffc1" stroke-width="12.4"/>
<path d="M454.2 776.9h0" stroke="#0014ff" stroke-width="12.4"/>
<path d="M690.8 606.8h0" stroke="#0000f6" stroke-width="12.4"/>
<path d="M212.2 1033.6h0" stroke="#8dff6a" stroke-width="12.4"/>
<path d="M871.6 424.6h0" stroke="#000080" stroke-width="12.4"/>
<path d="M794.4 526.1h0" stroke="#000096" stroke-width="12.4"/>
<path d="M740.9 563h0" stroke="#0000ad" stroke-width="12.4"/>
<path d="M418.1 860.4h0" stroke="#00a8ff" stroke-width="12.4"/>
<path d="M392.1 905.6h0" stroke="#000080" stroke-width="12.4"/>
<path d="M520.5 718.4h0" stroke="#0000ff" stroke-width="12.4"/>
<path d="M252.1 986h0" stroke="#ff1e00" stroke-width="12.4"/>
<path d="M436.5 795.9h0" stroke="#0054ff" stroke-width="12.4"/>
<path d="M356.8 884.2h0" stroke="#f4f802" stroke-width="12.4"/>
<path d="M726 493.6h0" stroke="#000080" stroke-width="12.4"/>
<path d="M760.1 526.4h0" stroke="#0000df" stroke-width="12.4"/>
<path d="M535 755.9h0" stroke="#0014ff" stroke-width="12.4"/>
<path d="M756 518.6h0" stroke="#0000c8" stroke-width="12.4"/>
<path d="M442.3 838.6h0" stroke="#0094ff" stroke-width="12.4"/>
<path d="M531.2 704.6h0" stroke="#0000df" stroke-width="12.4"/>
<path d="M341.8 920.8h0" stroke="#f4f802" stroke-width="12.4"/>
<path d="M405.6 862.4h0" stroke="#9dff5a" stroke-width="12.4"/>
<path d="M662.6 641.4h0" stroke="#0000c8" stroke-width="12.4"/>
<path d="M192.8 1055.1h0" stroke="#0080ff" stroke-width="12.4"/>
<path d="M500.3 794.2h0" stroke="#0000f6" stroke-width="12.4"/>
<path d="M262.7 974.5h0" stroke="#ff3400" stroke-width="12.4"/>
<path d="M730.9 536.6h0" stroke="#0000c8" stroke-width="12.4"/>
<path d="M321.7 946.1h0" stroke="#16ffe1" stroke-width="12.4"/>
<path d="M279.6 981.5h0" stroke="#26ffd1" stroke-width="12.4"/>
<path d="M395.4 892.3h0" stroke="#0000df" stroke-width="12.4"/>
<path d="M183 1056.3h0" stroke="#0040ff" stroke-width="12.4"/>
<path d="M654.7 623h0" stroke="#0028ff" stroke-width="12.4"/>
<path d="M423.7 850.9h0" stroke="#26ffd1" stroke-width="12.4"/>
<path d="M220.5 1015.8h0" stroke="#c1ff36" stroke-width="12.4"/>
<path d="M308.3 956h0" stroke="#49ffad" stroke-width="12.4"/>
<path d="M405.9 876.1h0M381.3 900h0" stroke="#0014ff" stroke-width="12.4"/>
<path d="M300.4 935.7h0" stroke="#ffe600" stroke-width="12.4"/>
<path d="M491.5 792.8h0" stroke="#0054ff" stroke-width="12.4"/>
<path d="M329.2 935.6h0" stroke="#9dff5a" stroke-width="12.4"/>
<path d="M312.6 921.4h0" stroke="#8dff6a" stroke-width="12.4"/>
<path d="M415.2 871.1h0" stroke="#0014ff" stroke-width="12.4"/>
<path d="M449.2 865.4h0" stroke="#000096" stroke-width="12.4"/>
<path d="M613.4 627.8h0" stroke="#0000ad" stroke-width="12.4"/>
<path d="M329.2 908.8h0" stroke="#e4ff13" stroke-width="12.4"/>
<path d="M797.2 472.2h0M714.7 586.1h0" stroke="#0000c8" stroke-width="12.4"/>
<path d="M695.9 576.3h0" stroke="#0000ff" stroke-width="12.4"/>
<path d="M827.2 478.3h0M843.5 451.5h0" stroke="#000096" stroke-width="12.4"/>
<path d="M295 937.3h0" stroke="#26ffd1" stroke-width="12.4"/>
<path d="M446.4 835.1h0" stroke="#0094ff" stroke-width="12.4"/>
<path d="M339.2 934.7h0" stroke="#0068ff" stroke-width="12.4"/>
<path d="M586.1 708.8h0" stroke="#0000f6" stroke-width="12.4"/>
<path d="M706.5 596.4h0" stroke="#0000c8" stroke-width="12.4"/>
<path d="M437.8 793.6h0" stroke="#0040ff" stroke-width="12.4"/>
<path d="M792.7 490.9h0" stroke="#0000c8" stroke-width="12.4"/>
<path d="M300 938.2h0" stroke="#ffab00" stroke-width="12.4"/>
<path d="M341.5 884.9h0" stroke="#0068ff" stroke-width="12.4"/>
<path d="M239.2 1010.1h0" stroke="#e4ff13" stroke-width="12.4"/>
<path d="M493.7 791.2h0" stroke="#0054ff" stroke-width="12.4"/>
<path d="M433.8 852.8h0" stroke="#0000ff" stroke-width="12.4"/>
<path d="M806.9 499.6h0M574.9 658.4h0M714.6 592.1h0" stroke="#0000ad" stroke-width="12.4"/>
<path d="M522.4 787.9h0" stroke="#000096" stroke-width="12.4"/>
<path d="M211.4 1038.6h0" stroke="#49ffad" stroke-width="12.4"/>
<path d="M241.5 993.2h0" stroke="#c1ff36" stroke-width="12.4"/>
<path d="M634 671.7h0" stroke="#0000c8" stroke-width="12.4"/>
<path d="M788 479.5h0" stroke="#0000ad" stroke-width="12.4"/>
<path d="M515.5 706.2h0" stroke="#000096" stroke-width="12.4"/>
<path d="M745.5 532.6h0" stroke="#0000df" stroke-width="12.4"/>
<path d="M197.8 1038.2h0" stroke="#6aff8d" stroke-width="12.4"/>
<path d="M286.9 976.7h0" stroke="#02e8f4" stroke-width="12.4"/>
<path d="M410.2 816.5h0M639.1 648.4h0" stroke="#0000ff" stroke-width="12.4"/>
<path d="M447.4 765.2h0" stroke="#000096" stroke-width="12.4"/>
<path d="M668.1 634.4h0M698.4 599.7h0" stroke="#0000df" stroke-width="12.4"/>
<path d="M290.1 972h0" stroke="#36ffc1" stroke-width="12.4"/>
<path d="M665.2 597.6h0" stroke="#0000ff" stroke-width="12.4"/>
<path d="M404.1 867.7h0" stroke="#49ffad" stroke-width="12.4"/>
<path d="M849.1 479.6h0" stroke="#000080" stroke-width="12.4"/>
<path d="M558.1 694.6h0" stroke="#0040ff" stroke-width="12.4"/>
<path d="M428.6 845.7h0" stroke="#36ffc1" stroke-width="12.4"/>
<path d="M549.4 666.6h0" stroke="#000096" stroke-width="12.4"/>
<path d="M301.4 958.3h0" stroke="#d1ff26" stroke-width="12.4"/>
<path d="M628.3 665.6h0" stroke="#0000f6" stroke-width="12.4"/>
<path d="M211.2 1025.6h0" stroke="#d1ff26" stroke-width="12.4"/>
<path d="M718.4 591.2h0" stroke="#0000ad" stroke-width="12.4"/>
<path d="M513.8 763.2h0" stroke="#00a8ff" stroke-width="12.4"/>
<path d="M400.2 833.5h0" stroke="#00c0ff" stroke-width="12.4"/>
<path d="M470.6 822.5h0M603.4 648.8h0" stroke="#0000ff" stroke-width="12.4"/>
<path d="M756.3 480.7h0" stroke="#000080" stroke-width="12.4"/>
<path d="M316.1 918.3h0" stroke="#9dff5a" stroke-width="12.4"/>
<path d="M458.3 777.8h0" stroke="#0054ff" stroke-width="12.4"/>
<path d="M402.7 873h0" stroke="#00d4ff" stroke-width="12.4"/>
<path d="M282.1 953.2h0" stroke="#b1ff46" stroke-width="12.4"/>
<path d="M388 890.5h0" stroke="#0068ff" stroke-width="12.4"/>
<path d="M782.9 518.3h0" stroke="#0000ad" stroke-width="12.4"/>
<path d="M361 875.1h0" stroke="#5aff9d" stroke-width="12.4"/>
<path d="M734.1 554.8h0" stroke="#0000df" stroke-width="12.4"/>
<path d="M308.6 976h0" stroke="#000096" stroke-width="12.4"/>
<path d="M404.2 862.3h0" stroke="#b1ff46" stroke-width="12.4"/>
<path d="M487.1 798.4h0" stroke="#0054ff" stroke-width="12.4"/>
<path d="M558 743.3h0M735.7 565.2h0M617.8 689.1h0" stroke="#0000c8" stroke-width="12.4"/>
<path d="M515.2 772.1h0" stroke="#0040ff" stroke-width="12.4"/>
<path d="M310 949.9h0" stroke="#f4f802" stroke-width="12.4"/>
<path d="M885.4 409.1h0" stroke="#000080" stroke-width="12.4"/>
<path d="M437.2 797.1h0" stroke="#0068ff" stroke-width="12.4"/>
<path d="M435 777.9h0" stroke="#000096" stroke-width="12.4"/>
<path d="M606.7 671h0" stroke="#0054ff" stroke-width="12.4"/>
<path d="M899.9 446h0M830.4 420.4h0" stroke="#000080" stroke-width="12.4"/>
<path d="M632.1 666.3h0" stroke="#0000df" stroke-width="12.4"/>
<path d="M336 895.6h0" stroke="#00a8ff" stroke-width="12.4"/>
<path d="M293.4 942.5h0" stroke="#e4ff13" stroke-width="12.4"/>
<path d="M697.4 574.6h0" stroke="#0000ff" stroke-width="12.4"/>
<path d="M465.3 757.6h0M596.7 704.8h0" stroke="#0000c8" stroke-width="12.4"/>
<path d="M359.4 864.2h0" stroke="#0000f6" stroke-width="12.4"/>
<path d="M329.1 933.2h0" stroke="#f4f802" stroke-width="12.4"/>
<path d="M675 596.6h0" stroke="#0000ff" stroke-width="12.4"/>
<path d="M367.2 876.3h0" stroke="#ffe600" stroke-width="12.4"/>
<path d="M409.8 858h0" stroke="#b1ff46" stroke-width="12.4"/>
<path d="M342.8 891h0" stroke="#36ffc1" stroke-width="12.4"/>
<path d="M213.3 1022.4h0" stroke="#9dff5a" stroke-width="12.4"/>
<path d="M207.5 1029.4h0" stroke="#8dff6a" stroke-width="12.4"/>
<path d="M632.6 655.7h0" stroke="#0000ff" stroke-width="12.4"/>
<path d="M308.2 948.7h0" stroke="#ff8200" stroke-width="12.4"/>
<path d="M347.7 881.5h0" stroke="#0094ff" stroke-width="12.4"/>
<path d="M681.7 582.9h0" stroke="#0000ff" stroke-width="12.4"/>
<path d="M255.3 995.1h0" stroke="#ffbd00" stroke-width="12.4"/>
<path d="M437 798.6h0" stroke="#0080ff" stroke-width="12.4"/>
<path d="M623 694.2h0" stroke="#000096" stroke-width="12.4"/>
<path d="M418.9 856.7h0" stroke="#02e8f4" stroke-width="12.4"/>
<path d="M445.7 783.3h0" stroke="#0014ff" stroke-width="12.4"/>
<path d="M494 745h0" stroke="#0028ff" stroke-width="12.4"/>
<path d="M637.7 607.9h0" stroke="#0000c8" stroke-width="12.4"/>
<path d="M373.8 914.2h0" stroke="#0000ad" stroke-width="12.4"/>
<path d="M378.1 834.8h0" stroke="#000096" stroke-width="12.4"/>
<path d="M817.3 487.9h0" stroke="#0000ad" stroke-width="12.4"/>
<path d="M396.1 883.2h0" stroke="#0080ff" stroke-width="12.4"/>
<path d="M399.8 832.5h0" stroke="#0094ff" stroke-width="12.4"/>
<path d="M687.7 579.9h0" stroke="#0000ff" stroke-width="12.4"/>
<path d="M429.4 842.8h0" stroke="#5aff9d" stroke-width="12.4"/>
<path d="M337.2 894.6h0" stroke="#00c0ff" stroke-width="12.4"/>
<path d="M662.9 585.7h0" stroke="#0000c8" stroke-width="12.4"/>
<path d="M302.2 976.6h0" stroke="#000096" stroke-width="12.4"/>
<path d="M509.1 797.6h0" stroke="#0000ad" stroke-width="12.4"/>
<path d="M210.4 1027.6h0" stroke="#d1ff26" stroke-width="12.4"/>
<path d="M508.5 730.5h0" stroke="#0014ff" stroke-width="12.4"/>
<path d="M636.3 644.6h0" stroke="#0028ff" stroke-width="12.4"/>
<path d="M737 560.1h0" stroke="#0000c8" stroke-width="12.4"/>
<path d="M631.3 655.5h0" stroke="#0014ff" stroke-width="12.4"/>
<path d="M736.7 546.8h0" stroke="#0000df" stroke-width="12.4"/>
<path d="M442.6 787.8h0" stroke="#0028ff" stroke-width="12.4"/>
<path d="M651.4 616.6h0" stroke="#0014ff" stroke-width="12.4"/>
<path d="M602 642.9h0" stroke="#0000df" stroke-width="12.4"/>
<path d="M297.9 959.6h0" stroke="#ffe600" stroke-width="12.4"/>
<path d="M331 931h0" stroke="#f4f802" stroke-width="12.4"/>
<path d="M415.1 860.9h0" stroke="#02e8f4" stroke-width="12.4"/>
<path d="M503.4 788.6h0" stroke="#0000ff" stroke-width="12.4"/>
<path d="M535.2 748h0" stroke="#0068ff" stroke-width="12.4"/>
<path d="M372 898.9h0M200.2 1042.7h0" stroke="#49ffad" stroke-width="12.4"/>
<path d="M253.2 1001.7h0" stroke="#b1ff46" stroke-width="12.4"/>
<path d="M347.4 915.5h0" stroke="#e4ff13" stroke-width="12.4"/>
<path d="M596.7 694.1h0" stroke="#0014ff" stroke-width="12.4"/>
<path d="M277.4 964.3h0" stroke="#800000" stroke-width="12.4"/>
<path d="M330.8 930.3h0" stroke="#ffd000" stroke-width="12.4"/>
<path d="M545.8 746.2h0" stroke="#0000ff" stroke-width="12.4"/>
<path d="M280.7 958h0" stroke="#ff4700" stroke-width="12.4"/>
<path d="M554.3 682.3h0" stroke="#0000f6" stroke-width="12.4"/>
<path d="M678.3 598.2h0M682.2 600.3h0" stroke="#0000ff" stroke-width="12.4"/>
<path d="M752.3 523.2h0" stroke="#0000c8" stroke-width="12.4"/>
<path d="M620.5 659.4h0" stroke="#0028ff" stroke-width="12.4"/>
<path d="M543.3 748.8h0" stroke="#0000ff" stroke-width="12.4"/>
<path d="M219.5 1025.8h0" stroke="#9dff5a" stroke-width="12.4"/>
<path d="M420.4 807.6h0" stroke="#0014ff" stroke-width="12.4"/>
<path d="M714.9 550.3h0" stroke="#0000df" stroke-width="12.4"/>
<path d="M525 709.3h0" stroke="#0000f6" stroke-width="12.4"/>
<path d="M583.5 717.4h0" stroke="#0000df" stroke-width="12.4"/>
<path d="M505.3 765.4h0" stroke="#26ffd1" stroke-width="12.4"/>
<path d="M570.2 723.1h0M563.5 731.2h0" stroke="#0000ff" stroke-width="12.4"/>
<path d="M734.7 534.9h0M588 714.8h0" stroke="#0000c8" stroke-width="12.4"/>
<path d="M206.9 1030h0" stroke="#8dff6a" stroke-width="12.4"/>
<path d="M640.5 612.6h0" stroke="#0000f6" stroke-width="12.4"/>
<path d="M645.8 637.7h0" stroke="#0014ff" stroke-width="12.4"/>
<path d="M315.7 945.8h0" stroke="#e4ff13" stroke-width="12.4"/>
<path d="M688.3 605.2h0" stroke="#0000f6" stroke-width="12.4"/>
<path d="M396.5 922.2h0" stroke="#000080" stroke-width="12.4"/>
<path d="M479.8 752.8h0" stroke="#0000ff" stroke-width="12.4"/>
<path d="M502.7 754.6h0" stroke="#16ffe1" stroke-width="12.4"/>
<path d="M654.9 607.1h0" stroke="#0014ff" stroke-width="12.4"/>
<path d="M487.9 755.4h0" stroke="#0068ff" stroke-width="12.4"/>
<path d="M381 854h0" stroke="#00d4ff" stroke-width="12.4"/>
<path d="M635.9 646h0" stroke="#0028ff" stroke-width="12.4"/>
<path d="M243.9 990.8h0" stroke="#d1ff26" stroke-width="12.4"/>
<path d="M629.5 659.5h0" stroke="#0000ff" stroke-width="12.4"/>
<path d="M335.8 902.7h0" stroke="#9dff5a" stroke-width="12.4"/>
<path d="M323.2 946.5h0" stroke="#00c0ff" stroke-width="12.4"/>
<path d="M193.1 1049.1h0" stroke="#36ffc1" stroke-width="12.4"/>
<path d="M498.6 743.4h0" stroke="#0040ff" stroke-width="12.4"/>
<path d="M540.8 744.3h0" stroke="#0054ff" stroke-width="12.4"/>
<path d="M539.4 706h0" stroke="#0028ff" stroke-width="12.4"/>
<path d="M438 798.2h0" stroke="#0094ff" stroke-width="12.4"/>
<path d="M339.2 925.4h0" stroke="#9dff5a" stroke-width="12.4"/>
<path d="M463.8 834h0" stroke="#0000c8" stroke-width="12.4"/>
<path d="M250.3 1001.7h0" stroke="#f4f802" stroke-width="12.4"/>
<path d="M385.2 805.7h0" stroke="#000080" stroke-width="12.4"/>
<path d="M416.9 819.8h0" stroke="#00d4ff" stroke-width="12.4"/>
<path d="M615.1 636.9h0" stroke="#0000f6" stroke-width="12.4"/>
<path d="M185.8 1051.3h0" stroke="#00c0ff" stroke-width="12.4"/>
<path d="M247.8 1005.5h0" stroke="#9dff5a" stroke-width="12.4"/>
<path d="M607 664.3h0" stroke="#0054ff" stroke-width="12.4"/>
<path d="M599.5 620.1h0" stroke="#000080" stroke-width="12.4"/>
<path d="M843.7 439.4h0" stroke="#000096" stroke-width="12.4"/>
<path d="M619.8 658h0" stroke="#0040ff" stroke-width="12.4"/>
<path d="M723.8 548.2h0" stroke="#0000df" stroke-width="12.4"/>
<path d="M323.2 944.1h0" stroke="#36ffc1" stroke-width="12.4"/>
<path d="M703.9 587.4h0" stroke="#0000f6" stroke-width="12.4"/>
<path d="M458.1 824.4h0" stroke="#0080ff" stroke-width="12.4"/>
<path d="M417 861.8h0" stroke="#0094ff" stroke-width="12.4"/>
<path d="M660.8 629.6h0M696.6 578.3h0" stroke="#0000ff" stroke-width="12.4"/>
<path d="M699.6 565h0" stroke="#0000f6" stroke-width="12.4"/>
<path d="M552.3 691h0" stroke="#0000ff" stroke-width="12.4"/>
<path d="M756 535h0" stroke="#0000df" stroke-width="12.4"/>
<path d="M424.9 872.7h0" stroke="#0000ad" stroke-width="12.4"/>
<path d="M534.9 714.5h0" stroke="#0054ff" stroke-width="12.4"/>
<path d="M486.2 806.1h0" stroke="#0000ff" stroke-width="12.4"/>
<path d="M676.6 583.3h0" stroke="#0000f6" stroke-width="12.4"/>
<path d="M348.5 885.3h0" stroke="#36ffc1" stroke-width="12.4"/>
<path d="M547.7 735.6h0M542.7 738.9h0" stroke="#0068ff" stroke-width="12.4"/>
<path d="M195.8 1040.3h0" stroke="#6aff8d" stroke-width="12.4"/>
<path d="M332.2 908.7h0" stroke="#ff9400" stroke-width="12.4"/>
<path d="M756.8 520.9h0M556.4 747.1h0" stroke="#0000c8" stroke-width="12.4"/>
<path d="M475.7 781.3h0" stroke="#6aff8d" stroke-width="12.4"/>
<path d="M272.5 980.9h0" stroke="#ffd000" stroke-width="12.4"/>
<path d="M345.7 915.1h0" stroke="#ffbd00" stroke-width="12.4"/>
<path d="M730.1 561.6h0" stroke="#0000f6" stroke-width="12.4"/>
<path d="M615.1 676.4h0" stroke="#0000ff" stroke-width="12.4"/>
<path d="M215.6 1029.6h0" stroke="#7dff7a" stroke-width="12.4"/>
<path d="M668 620.8h0" stroke="#0000ff" stroke-width="12.4"/>
<path d="M496.8 788.1h0" stroke="#0054ff" stroke-width="12.4"/>
<path d="M518.9 764.1h0" stroke="#0068ff" stroke-width="12.4"/>
<path d="M614.2 651.2h0" stroke="#0040ff" stroke-width="12.4"/>
<path d="M670.7 611.9h0" stroke="#0014ff" stroke-width="12.4"/>
<path d="M432.5 803.1h0" stroke="#0080ff" stroke-width="12.4"/>
<path d="M638.4 662.5h0" stroke="#0000df" stroke-width="12.4"/>
<path d="M697.1 579.8h0" stroke="#0014ff" stroke-width="12.4"/>
<path d="M506.5 787.3h0" stroke="#0000f6" stroke-width="12.4"/>
<path d="M620.9 641.6h0" stroke="#0014ff" stroke-width="12.4"/>
<path d="M325.1 935.4h0" stroke="#ffbd00" stroke-width="12.4"/>
<path d="M550.8 739.6h0" stroke="#0014ff" stroke-width="12.4"/>
<path d="M740.5 536h0" stroke="#0000df" stroke-width="12.4"/>
<path d="M311.9 925.7h0" stroke="#f4f802" stroke-width="12.4"/>
<path d="M696.3 593.9h0" stroke="#0000f6" stroke-width="12.4"/>
<path d="M617.2 679.6h0M673.1 626.7h0" stroke="#0000df" stroke-width="12.4"/>
<path d="M352 873.1h0M593.5 661h0" stroke="#0014ff" stroke-width="12.4"/>
<path d="M482.9 809.8h0" stroke="#0000ff" stroke-width="12.4"/>
<path d="M504.4 770.3h0" stroke="#02e8f4" stroke-width="12.4"/>
<path d="M527.5 774.8h0M447.3 849.6h0" stroke="#0000c8" stroke-width="12.4"/>
<path d="M765.3 564h0" stroke="#000096" stroke-width="12.4"/>
<path d="M582.6 653.3h0M682.9 627h0M715.8 595.6h0" stroke="#0000ad" stroke-width="12.4"/>
<path d="M585.2 712.3h0" stroke="#0000df" stroke-width="12.4"/>
<path d="M425.3 849.7h0" stroke="#26ffd1" stroke-width="12.4"/>
<path d="M828.7 481.4h0" stroke="#000096" stroke-width="12.4"/>
<path d="M580.7 701.4h0" stroke="#0040ff" stroke-width="12.4"/>
<path d="M744 571.5h0" stroke="#000096" stroke-width="12.4"/>
<path d="M570.8 676.2h0" stroke="#0028ff" stroke-width="12.4"/>
<path d="M476.6 797.8h0" stroke="#16ffe1" stroke-width="12.4"/>
<path d="M543.6 707h0" stroke="#0054ff" stroke-width="12.4"/>
<path d="M370 865.4h0" stroke="#36ffc1" stroke-width="12.4"/>
<path d="M628.4 625.1h0" stroke="#0000f6" stroke-width="12.4"/>
<path d="M525.1 758.5h0" stroke="#0068ff" stroke-width="12.4"/>
<path d="M620.6 648.2h0" stroke="#0028ff" stroke-width="12.4"/>
<path d="M422.7 894.4h0" stroke="#000096" stroke-width="12.4"/>
<path d="M718.4 554.2h0" stroke="#0000df" stroke-width="12.4"/>
<path d="M731.8 552.7h0" stroke="#0000f6" stroke-width="12.4"/>
<path d="M611.3 669.1h0" stroke="#0040ff" stroke-width="12.4"/>
<path d="M557.1 729.2h0" stroke="#0054ff" stroke-width="12.4"/>
<path d="M705.2 591.3h0M731.3 540.5h0" stroke="#0000df" stroke-width="12.4"/>
<path d="M553.5 726.2h0" stroke="#0094ff" stroke-width="12.4"/>
<path d="M601.1 674.7h0" stroke="#0054ff" stroke-width="12.4"/>
<path d="M376.9 859.7h0M448.4 824.6h0" stroke="#49ffad" stroke-width="12.4"/>
<path d="M413.2 856.9h0" stroke="#7dff7a" stroke-width="12.4"/>
<path d="M460.6 784.7h0" stroke="#16ffe1" stroke-width="12.4"/>
<path d="M671.5 621.3h0" stroke="#0000f6" stroke-width="12.4"/>
<path d="M670.9 626.6h0" stroke="#0000df" stroke-width="12.4"/>
<path d="M650.5 638.9h0" stroke="#0000ff" stroke-width="12.4"/>
<path d="M604.8 683.7h0" stroke="#0014ff" stroke-width="12.4"/>
<path d="M668.7 618.7h0" stroke="#0000ff" stroke-width="12.4"/>
<path d="M682.7 568.7h0" stroke="#0000ad" stroke-width="12.4"/>
<path d="M649.7 634h0" stroke="#0014ff" stroke-width="12.4"/>
<path d="M246 1001.5h0" stroke="#ff9400" stroke-width="12.4"/>
<path d="M486.3 794.1h0" stroke="#0094ff" stroke-width="12.4"/>
<path d="M597.1 687h0" stroke="#0040ff" stroke-width="12.4"/>
<path d="M405.2 821.3h0" stroke="#0000ff" stroke-width="12.4"/>
<path d="M504.3 738.1h0" stroke="#0040ff" stroke-width="12.4"/>
<path d="M303.6 932.3h0" stroke="#ffe600" stroke-width="12.4"/>
<path d="M313.6 921.6h0" stroke="#c1ff36" stroke-width="12.4"/>
<path d="M598.1 665.7h0" stroke="#0054ff" stroke-width="12.4"/>
<path d="M660.5 611.1h0" stroke="#0028ff" stroke-width="12.4"/>
<path d="M608.7 646.6h0" stroke="#0000ff" stroke-width="12.4"/>
<path d="M472.1 769.4h0" stroke="#0094ff" stroke-width="12.4"/>
<path d="M696.5 601.6h0" stroke="#0000df" stroke-width="12.4"/>
<path d="M609.6 682h0" stroke="#0000ff" stroke-width="12.4"/>
<path d="M572.4 715.1h0" stroke="#0028ff" stroke-width="12.4"/>
<path d="M758.5 516.9h0" stroke="#0000c8" stroke-width="12.4"/>
<path d="M519.5 714.1h0" stroke="#0000df" stroke-width="12.4"/>
<path d="M564.1 694.2h0" stroke="#0068ff" stroke-width="12.4"/>
<path d="M267.3 968.7h0" stroke="#ffd000" stroke-width="12.4"/>
<path d="M367.9 900.6h0" stroke="#7dff7a" stroke-width="12.4"/>
<path d="M698.2 590.9h0" stroke="#0000f6" stroke-width="12.4"/>
<path d="M338.1 899.4h0" stroke="#7dff7a" stroke-width="12.4"/>
<path d="M403.4 877.7h0" stroke="#0040ff" stroke-width="12.4"/>
<path d="M782.4 544.4h0" stroke="#000080" stroke-width="12.4"/>
<path d="M484.3 755.7h0" stroke="#0054ff" stroke-width="12.4"/>
<path d="M490.5 786.7h0" stroke="#00c0ff" stroke-width="12.4"/>
<path d="M217.4 1020.5h0" stroke="#9dff5a" stroke-width="12.4"/>
<path d="M587 669.1h0" stroke="#0028ff" stroke-width="12.4"/>
<path d="M543.6 734.8h0" stroke="#0094ff" stroke-width="12.4"/>
<path d="M237.2 999.3h0" stroke="#ff4700" stroke-width="12.4"/>
<path d="M285.2 946.5h0" stroke="#7dff7a" stroke-width="12.4"/>
<path d="M227.1 1009.1h0" stroke="#d1ff26" stroke-width="12.4"/>
<path d="M209.8 1033.8h0" stroke="#b1ff46" stroke-width="12.4"/>
<path d="M420.7 819.9h0" stroke="#26ffd1" stroke-width="12.4"/>
<path d="M322.4 937h0" stroke="#ff9400" stroke-width="12.4"/>
<path d="M288.6 941.9h0" stroke="#49ffad" stroke-width="12.4"/>
<path d="M322.1 936h0" stroke="#ff5900" stroke-width="12.4"/>
<path d="M579.2 661h0" stroke="#0000df" stroke-width="12.4"/>
<path d="M511.6 722.7h0" stroke="#0000f6" stroke-width="12.4"/>
<path d="M539.6 739.9h0M487.6 756.2h0" stroke="#0080ff" stroke-width="12.4"/>
<path d="M536.8 715.3h0" stroke="#0068ff" stroke-width="12.4"/>
<path d="M638.6 615.7h0" stroke="#0000f6" stroke-width="12.4"/>
<path d="M610.6 645.7h0" stroke="#0000ff" stroke-width="12.4"/>
<path d="M334.9 908.4h0" stroke="#ff4700" stroke-width="12.4"/>
<path d="M691 586.3h0" stroke="#0000ff" stroke-width="12.4"/>
<path d="M712.8 580.5h0" stroke="#0000df" stroke-width="12.4"/>
<path d="M625.9 632.1h0" stroke="#0014ff" stroke-width="12.4"/>
<path d="M534.6 759.2h0" stroke="#0000ff" stroke-width="12.4"/>
<path d="M283.8 954.6h0" stroke="#ffbd00" stroke-width="12.4"/>
<path d="M679.6 586.2h0" stroke="#0000f6" stroke-width="12.4"/>
<path d="M583.2 714.6h0" stroke="#0000df" stroke-width="12.4"/>
<path d="M576.5 674.3h0" stroke="#0028ff" stroke-width="12.4"/>
<path d="M795.1 481.8h0" stroke="#0000c8" stroke-width="12.4"/>
<path d="M346.7 912.2h0" stroke="#ffab00" stroke-width="12.4"/>
<path d="M479 768.7h0" stroke="#00d4ff" stroke-width="12.4"/>
<path d="M707.7 573.6h0" stroke="#0000f6" stroke-width="12.4"/>
<path d="M247.1 988.2h0" stroke="#ffab00" stroke-width="12.4"/>
<path d="M264 973.5h0" stroke="#ff1e00" stroke-width="12.4"/>
<path d="M297.3 941.8h0" stroke="#ffab00" stroke-width="12.4"/>
<path d="M642.3 629.8h0" stroke="#0028ff" stroke-width="12.4"/>
<path d="M678.6 602.3h0" stroke="#0014ff" stroke-width="12.4"/>
<path d="M548.6 694.5h0" stroke="#0000ff" stroke-width="12.4"/>
<path d="M755.8 531.8h0" stroke="#0000df" stroke-width="12.4"/>
<path d="M301.2 953.9h0" stroke="#ff5900" stroke-width="12.4"/>
<path d="M233.8 1017.6h0" stroke="#6aff8d" stroke-width="12.4"/>
<path d="M541.2 728h0" stroke="#00c0ff" stroke-width="12.4"/>
<path d="M369.9 868.3h0" stroke="#7dff7a" stroke-width="12.4"/>
<path d="M587.9 675.9h0" stroke="#0054ff" stroke-width="12.4"/>
<path d="M361.9 914.2h0" stroke="#0040ff" stroke-width="12.4"/>
<path d="M551 724.1h0" stroke="#00a8ff" stroke-width="12.4"/>
<path d="M537.8 715.7h0" stroke="#0080ff" stroke-width="12.4"/>
<path d="M365.3 867.1h0" stroke="#00a8ff" stroke-width="12.4"/>
<path d="M360.6 880.9h0" stroke="#f4f802" stroke-width="12.4"/>
<path d="M601.1 691.7h0" stroke="#0000ff" stroke-width="12.4"/>
<path d="M649.9 606.3h0" stroke="#0000f6" stroke-width="12.4"/>
<path d="M227.3 1022.4h0" stroke="#7dff7a" stroke-width="12.4"/>
<path d="M603.1 698.1h0" stroke="#0000df" stroke-width="12.4"/>
<path d="M251.5 976.3h0" stroke="#0040ff" stroke-width="12.4"/>
<path d="M740 542.7h0" stroke="#0000f6" stroke-width="12.4"/>
<path d="M280.5 960.4h0" stroke="#800000" stroke-width="12.4"/>
<path d="M242 995.7h0" stroke="#ffbd00" stroke-width="12.4"/>
<path d="M473.6 808.9h0" stroke="#0068ff" stroke-width="12.4"/>
<path d="M576.4 722h0" stroke="#0000df" stroke-width="12.4"/>
<path d="M284.6 952.5h0" stroke="#ffe600" stroke-width="12.4"/>
<path d="M367.1 878.4h0" stroke="#ffbd00" stroke-width="12.4"/>
<path d="M592.6 685.2h0" stroke="#0054ff" stroke-width="12.4"/>
<path d="M188.7 1048.4h0" stroke="#16ffe1" stroke-width="12.4"/>
<path d="M315.4 944.4h0" stroke="#ffbd00" stroke-width="12.4"/>
<path d="M506 749.5h0" stroke="#00d4ff" stroke-width="12.4"/>
<path d="M625.5 640.4h0" stroke="#0028ff" stroke-width="12.4"/>
<path d="M559 718.3h0" stroke="#0094ff" stroke-width="12.4"/>
<path d="M218.9 1020h0" stroke="#b1ff46" stroke-width="12.4"/>
<path d="M679.4 613.6h0" stroke="#0000f6" stroke-width="12.4"/>
<path d="M358.8 882.8h0" stroke="#ffe600" stroke-width="12.4"/>
<path d="M606.1 666.4h0" stroke="#0054ff" stroke-width="12.4"/>
<path d="M592.6 691.3h0" stroke="#0040ff" stroke-width="12.4"/>
<path d="M398.1 839h0" stroke="#16ffe1" stroke-width="12.4"/>
<path d="M530.1 710.7h0" stroke="#0014ff" stroke-width="12.4"/>
<path d="M506.2 776.4h0" stroke="#0080ff" stroke-width="12.4"/>
<path d="M665.6 604.3h0" stroke="#0014ff" stroke-width="12.4"/>
<path d="M427.3 813.6h0" stroke="#26ffd1" stroke-width="12.4"/>
<path d="M222.9 1020.6h0" stroke="#d1ff26" stroke-width="12.4"/>
<path d="M396 882h0" stroke="#00a8ff" stroke-width="12.4"/>
<path d="M543.2 724.6h0" stroke="#00c0ff" stroke-width="12.4"/>
<path d="M631 665.6h0" stroke="#0000f6" stroke-width="12.4"/>
<path d="M362.4 887.1h0" stroke="#c40000" stroke-width="12.4"/>
<path d="M872.4 426h0" stroke="#000080" stroke-width="12.4"/>
<path d="M438.6 844.4h0" stroke="#0068ff" stroke-width="12.4"/>
<path d="M600.1 655.2h0" stroke="#0014ff" stroke-width="12.4"/>
<path d="M327.7 931.7h0" stroke="#ff8200" stroke-width="12.4"/>
<path d="M336.4 908.2h0" stroke="#ff3400" stroke-width="12.4"/>
<path d="M377.9 864.2h0" stroke="#e4ff13" stroke-width="12.4"/>
<path d="M467.6 778.4h0" stroke="#02e8f4" stroke-width="12.4"/>
<path d="M201.4 1032.6h0" stroke="#49ffad" stroke-width="12.4"/>
<path d="M505.2 749.2h0" stroke="#00d4ff" stroke-width="12.4"/>
<path d="M620.9 672.1h0" stroke="#0000f6" stroke-width="12.4"/>
<path d="M435.7 835.8h0" stroke="#5aff9d" stroke-width="12.4"/>
<path d="M816.6 522.2h0" stroke="#000080" stroke-width="12.4"/>
<path d="M574.6 684.1h0" stroke="#0080ff" stroke-width="12.4"/>
<path d="M374.9 867.7h0" stroke="#f4f802" stroke-width="12.4"/>
<path d="M435.5 833.5h0" stroke="#8dff6a" stroke-width="12.4"/>
<path d="M455.8 797.4h0" stroke="#6aff8d" stroke-width="12.4"/>
<path d="M209 1031.9h0" stroke="#b1ff46" stroke-width="12.4"/>
<path d="M731.2 553.7h0" stroke="#0000f6" stroke-width="12.4"/>
<path d="M428.9 811.1h0" stroke="#16ffe1" stroke-width="12.4"/>
<path d="M325.9 912h0" stroke="#d1ff26" stroke-width="12.4"/>
<path d="M723.4 544.4h0" stroke="#0000df" stroke-width="12.4"/>
<path d="M482.8 761.2h0" stroke="#0094ff" stroke-width="12.4"/>
<path d="M255.4 984.7h0" stroke="#ff6f00" stroke-width="12.4"/>
<path d="M343.1 917.3h0" stroke="#ffab00" stroke-width="12.4"/>
<path d="M343.2 919.4h0" stroke="#f4f802" stroke-width="12.4"/>
<path d="M554.1 696.1h0" stroke="#0040ff" stroke-width="12.4"/>
<path d="M362.9 906.9h0" stroke="#49ffad" stroke-width="12.4"/>
<path d="M495.4 751.8h0" stroke="#0094ff" stroke-width="12.4"/>
<path d="M764.5 520.2h0" stroke="#0000df" stroke-width="12.4"/>
<path d="M612.5 661h0" stroke="#0040ff" stroke-width="12.4"/>
<path d="M196 1041.6h0" stroke="#6aff8d" stroke-width="12.4"/>
<path d="M635 643.4h0" stroke="#0028ff" stroke-width="12.4"/>
<path d="M307.9 930.3h0" stroke="#ffbd00" stroke-width="12.4"/>
<path d="M635.6 624.3h0" stroke="#0000ff" stroke-width="12.4"/>
<path d="M500.8 761.1h0" stroke="#26ffd1" stroke-width="12.4"/>
<path d="M709.7 567.4h0" stroke="#0000ff" stroke-width="12.4"/>
<path d="M214.1 1024.3h0" stroke="#c1ff36" stroke-width="12.4"/>
<path d="M217.5 1028.2h0" stroke="#8dff6a" stroke-width="12.4"/>
<path d="M652.3 644.1h0" stroke="#0000df" stroke-width="12.4"/>
<path d="M478.5 762.6h0" stroke="#0080ff" stroke-width="12.4"/>
<path d="M793.5 481.8h0" stroke="#0000c8" stroke-width="12.4"/>
<path d="M564.1 717.6h0" stroke="#0068ff" stroke-width="12.4"/>
<path d="M597.2 670.4h0" stroke="#0054ff" stroke-width="12.4"/>
<path d="M531.4 734.2h0" stroke="#00d4ff" stroke-width="12.4"/>
<path d="M591.8 672.8h0" stroke="#0054ff" stroke-width="12.4"/>
<path d="M215.9 1024.7h0" stroke="#c1ff36" stroke-width="12.4"/>
<path d="M450.7 793.8h0" stroke="#16ffe1" stroke-width="12.4"/>
<path d="M482.4 780h0" stroke="#5aff9d" stroke-width="12.4"/>
<path d="M587.8 684h0M534.3 718.2h0" stroke="#0068ff" stroke-width="12.4"/>
<path d="M505.6 772.8h0" stroke="#00a8ff" stroke-width="12.4"/>
<path d="M209.9 1030.7h0" stroke="#c1ff36" stroke-width="12.4"/>
<path d="M329.2 926.2h0" stroke="#f60b00" stroke-width="12.4"/>
<path d="M569.1 682h0" stroke="#0054ff" stroke-width="12.4"/>
<path d="M569.8 706.8h0" stroke="#0068ff" stroke-width="12.4"/>
<path d="M524.5 757.4h0" stroke="#0080ff" stroke-width="12.4"/>
<path d="M469.5 843.3h0" stroke="#000080" stroke-width="12.4"/>
<path d="M233.9 1003h0" stroke="#ffd000" stroke-width="12.4"/>
<path d="M314.7 925h0" stroke="#ff8200" stroke-width="12.4"/>
<path d="M241.7 1007.4h0" stroke="#f4f802" stroke-width="12.4"/>
<path d="M256.6 992.8h0" stroke="#ffab00" stroke-width="12.4"/>
<path d="M482.2 808.8h0" stroke="#0014ff" stroke-width="12.4"/>
<path d="M532.1 720.3h0" stroke="#0080ff" stroke-width="12.4"/>
<path d="M502.5 732.9h0" stroke="#0000f6" stroke-width="12.4"/>
<path d="M586.5 692h0" stroke="#0068ff" stroke-width="12.4"/>
<path d="M700 564h0" stroke="#0000f6" stroke-width="12.4"/>
<path d="M264.5 992.7h0" stroke="#6aff8d" stroke-width="12.4"/>
<path d="M403.2 862h0" stroke="#d1ff26" stroke-width="12.4"/>
<path d="M444.7 831.2h0" stroke="#16ffe1" stroke-width="12.4"/>
<path d="M530.1 750.2h0" stroke="#0080ff" stroke-width="12.4"/>
<path d="M484.1 792.2h0" stroke="#00d4ff" stroke-width="12.4"/>
<path d="M632.4 636.5h0" stroke="#0028ff" stroke-width="12.4"/>
<path d="M285.8 956.6h0" stroke="#ff4700" stroke-width="12.4"/>
<path d="M513.6 761.1h0" stroke="#00c0ff" stroke-width="12.4"/>
<path d="M524.4 744.3h0M417.8 857.8h0" stroke="#02e8f4" stroke-width="12.4"/>
<path d="M645.4 649.6h0" stroke="#0000f6" stroke-width="12.4"/>
<path d="M645.1 617.4h0" stroke="#0014ff" stroke-width="12.4"/>
<path d="M529.9 721.9h0" stroke="#0080ff" stroke-width="12.4"/>
<path d="M617.5 656.7h0" stroke="#0040ff" stroke-width="12.4"/>
<path d="M675.5 610.3h0" stroke="#0014ff" stroke-width="12.4"/>
<path d="M609.4 656.1h0" stroke="#0040ff" stroke-width="12.4"/>
<path d="M290.9 965.3h0M283.1 972.3h0" stroke="#ffd000" stroke-width="12.4"/>
<path d="M513.2 731.5h0" stroke="#0054ff" stroke-width="12.4"/>
<path d="M317.5 938h0" stroke="#ff1e00" stroke-width="12.4"/>
<path d="M543 713.8h0" stroke="#0094ff" stroke-width="12.4"/>
<path d="M400 862.8h0M287.4 968.9h0" stroke="#ffe600" stroke-width="12.4"/>
<path d="M677.2 612.4h0" stroke="#0000ff" stroke-width="12.4"/>
<path d="M603.9 693.4h0" stroke="#0000f6" stroke-width="12.4"/>
<path d="M456.9 822.1h0" stroke="#00d4ff" stroke-width="12.4"/>
<path d="M457.1 833.4h0" stroke="#0014ff" stroke-width="12.4"/>
<path d="M715.1 562.3h0" stroke="#0000f6" stroke-width="12.4"/>
<path d="M573.8 692.8h0" stroke="#0094ff" stroke-width="12.4"/>
<path d="M535.3 745.3h0" stroke="#0080ff" stroke-width="12.4"/>
<path d="M405.6 846.5h0" stroke="#ffbd00" stroke-width="12.4"/>
<path d="M494.4 746h0" stroke="#0040ff" stroke-width="12.4"/>
<path d="M644.8 627h0" stroke="#0028ff" stroke-width="12.4"/>
<path d="M484.2 779.9h0" stroke="#5aff9d" stroke-width="12.4"/>
<path d="M211.5 1027.3h0" stroke="#c1ff36" stroke-width="12.4"/>
<path d="M533 741.8h0" stroke="#00c0ff" stroke-width="12.4"/>
<path d="M340.4 941.6h0" stroke="#0000c8" stroke-width="12.4"/>
<path d="M661.6 632.4h0" stroke="#0000ff" stroke-width="12.4"/>
<path d="M201.7 1036.2h0" stroke="#6aff8d" stroke-width="12.4"/>
<path d="M613.3 658.9h0" stroke="#0040ff" stroke-width="12.4"/>
<path d="M722.8 570.3h0" stroke="#0000f6" stroke-width="12.4"/>
<path d="M470.3 769.9h0" stroke="#0080ff" stroke-width="12.4"/>
<path d="M667.7 618.8h0" stroke="#0014ff" stroke-width="12.4"/>
<path d="M567.1 680.3h0" stroke="#0028ff" stroke-width="12.4"/>
<path d="M813.2 495.4h0" stroke="#0000ad" stroke-width="12.4"/>
<path d="M413.4 855.9h0" stroke="#8dff6a" stroke-width="12.4"/>
<path d="M412.4 827.6h0" stroke="#36ffc1" stroke-width="12.4"/>
<path d="M379 857.1h0" stroke="#26ffd1" stroke-width="12.4"/>
<path d="M236.3 1009.5h0" stroke="#ffe600" stroke-width="12.4"/>
<path d="M299.3 941.7h0" stroke="#ff6f00" stroke-width="12.4"/>
<path d="M599.3 671.2h0" stroke="#0068ff" stroke-width="12.4"/>
<path d="M618.8 633.5h0M581.6 666h0" stroke="#0000f6" stroke-width="12.4"/>
<path d="M530.6 738.4h0" stroke="#00d4ff" stroke-width="12.4"/>
<path d="M627.6 675.2h0" stroke="#0000c8" stroke-width="12.4"/>
<path d="M552.1 722.9h0" stroke="#00a8ff" stroke-width="12.4"/>
<path d="M372 892.8h0" stroke="#f4f802" stroke-width="12.4"/>
<path d="M366.3 893.2h0" stroke="#ff5900" stroke-width="12.4"/>
<path d="M720.8 572.6h0" stroke="#0000f6" stroke-width="12.4"/>
<path d="M550.2 762.1h0" stroke="#000096" stroke-width="12.4"/>
<path d="M470.5 785.1h0" stroke="#6aff8d" stroke-width="12.4"/>
<path d="M449 803.2h0" stroke="#8dff6a" stroke-width="12.4"/>
<path d="M473.8 799.4h0" stroke="#16ffe1" stroke-width="12.4"/>
<path d="M452 780.7h0" stroke="#0028ff" stroke-width="12.4"/>
<path d="M460.7 775.1h0" stroke="#0040ff" stroke-width="12.4"/>
<path d="M385.5 883.9h0" stroke="#7dff7a" stroke-width="12.4"/>
<path d="M540.1 721h0" stroke="#00a8ff" stroke-width="12.4"/>
<path d="M624.9 624.3h0" stroke="#0000df" stroke-width="12.4"/>
<path d="M409.3 832.9h0" stroke="#5aff9d" stroke-width="12.4"/>
<path d="M265.9 973.6h0" stroke="#960000" stroke-width="12.4"/>
<path d="M402.1 840.1h0" stroke="#7dff7a" stroke-width="12.4"/>
<path d="M189.2 1053.3h0" stroke="#00a8ff" stroke-width="12.4"/>
<path d="M724.2 558.3h0" stroke="#0000f6" stroke-width="12.4"/>
<path d="M400.6 867.2h0" stroke="#b1ff46" stroke-width="12.4"/>
<path d="M191.3 1046.2h0" stroke="#26ffd1" stroke-width="12.4"/>
<path d="M575.4 708h0" stroke="#0054ff" stroke-width="12.4"/>
<path d="M311.1 945.8h0" stroke="#ff6f00" stroke-width="12.4"/>
<path d="M633 639.8h0" stroke="#0028ff" stroke-width="12.4"/>
<path d="M288 952.2h0" stroke="#ff3400" stroke-width="12.4"/>
<path d="M347.5 889.8h0" stroke="#8dff6a" stroke-width="12.4"/>
<path d="M270.9 988.1h0" stroke="#5aff9d" stroke-width="12.4"/>
<path d="M554.9 698.3h0" stroke="#0054ff" stroke-width="12.4"/>
<path d="M514.9 743.6h0" stroke="#16ffe1" stroke-width="12.4"/>
<path d="M522.1 729.4h0" stroke="#0080ff" stroke-width="12.4"/>
<path d="M304 953.7h0" stroke="#ffbd00" stroke-width="12.4"/>
<path d="M448.4 813.9h0" stroke="#e4ff13" stroke-width="12.4"/>
<path d="M544.1 711.1h0" stroke="#0080ff" stroke-width="12.4"/>
<path d="M561.1 735.2h0" stroke="#0000f6" stroke-width="12.4"/>
<path d="M506.6 760.6h0" stroke="#16ffe1" stroke-width="12.4"/>
<path d="M361.2 904.3h0" stroke="#c1ff36" stroke-width="12.4"/>
<path d="M615.3 661.7h0" stroke="#0040ff" stroke-width="12.4"/>
<path d="M187.2 1052.6h0" stroke="#00a8ff" stroke-width="12.4"/>
<path d="M280 977.2h0" stroke="#c1ff36" stroke-width="12.4"/>
<path d="M220.1 1020.1h0" stroke="#b1ff46" stroke-width="12.4"/>
<path d="M324.7 924.1h0" stroke="#800000" stroke-width="12.4"/>
<path d="M517 749.9h0" stroke="#02e8f4" stroke-width="12.4"/>
<path d="M538.9 727h0" stroke="#00c0ff" stroke-width="12.4"/>
<path d="M522.1 725.2h0" stroke="#0054ff" stroke-width="12.4"/>
<path d="M552.1 704.8h0" stroke="#0068ff" stroke-width="12.4"/>
<path d="M669.7 620.3h0" stroke="#0000ff" stroke-width="12.4"/>
<path d="M749.4 510.1h0" stroke="#0000ad" stroke-width="12.4"/>
<path d="M217 1029h0" stroke="#7dff7a" stroke-width="12.4"/>
<path d="M412.3 840.6h0" stroke="#ffd000" stroke-width="12.4"/>
<path d="M286.5 969.1h0" stroke="#ffbd00" stroke-width="12.4"/>
<path d="M508.8 749.2h0" stroke="#00d4ff" stroke-width="12.4"/>
<path d="M189.6 1049.5h0" stroke="#26ffd1" stroke-width="12.4"/>
<path d="M307.4 912.8h0" stroke="#0000ad" stroke-width="12.4"/>
<path d="M399.8 843.5h0" stroke="#8dff6a" stroke-width="12.4"/>
<path d="M577.6 698.5h0" stroke="#0068ff" stroke-width="12.4"/>
<path d="M499.8 767.9h0" stroke="#36ffc1" stroke-width="12.4"/>
<path d="M512 738h0" stroke="#00a8ff" stroke-width="12.4"/>
<path d="M334.2 924.5h0" stroke="#ff9400" stroke-width="12.4"/>
<path d="M519.9 737.4h0" stroke="#00d4ff" stroke-width="12.4"/>
<path d="M544.3 696.2h0" stroke="#0000f6" stroke-width="12.4"/>
<path d="M493.6 774.6h0" stroke="#36ffc1" stroke-width="12.4"/>
<path d="M626.6 625.8h0" stroke="#0000f6" stroke-width="12.4"/>
<path d="M626.8 642.5h0" stroke="#0040ff" stroke-width="12.4"/>
<path d="M413.6 845.4h0" stroke="#ffe600" stroke-width="12.4"/>
<path d="M323.2 926.2h0" stroke="#800000" stroke-width="12.4"/>
<path d="M221.5 1018.4h0" stroke="#d1ff26" stroke-width="12.4"/>
<path d="M477.7 756.3h0" stroke="#0014ff" stroke-width="12.4"/>
<path d="M463.1 805.5h0" stroke="#5aff9d" stroke-width="12.4"/>
<path d="M366.7 869.1h0" stroke="#36ffc1" stroke-width="12.4"/>
<path d="M704.1 577.7h0" stroke="#0000ff" stroke-width="12.4"/>
<path d="M244.6 993.3h0M263.1 988.3h0" stroke="#ffd000" stroke-width="12.4"/>
<path d="M444.5 811.1h0" stroke="#c1ff36" stroke-width="12.4"/>
<path d="M569.3 697.1h0" stroke="#0080ff" stroke-width="12.4"/>
<path d="M494.3 783.9h0" stroke="#00c0ff" stroke-width="12.4"/>
<path d="M633.3 625.9h0" stroke="#0000ff" stroke-width="12.4"/>
<path d="M249.8 989h0" stroke="#ff3400" stroke-width="12.4"/>
<path d="M337.8 921.4h0" stroke="#ff8200" stroke-width="12.4"/>
<path d="M468 807.4h0" stroke="#02e8f4" stroke-width="12.4"/>
<path d="M479.1 780.3h0" stroke="#6aff8d" stroke-width="12.4"/>
<path d="M288.2 949.3h0" stroke="#ff8200" stroke-width="12.4"/>
<path d="M408.2 852.8h0" stroke="#ff9400" stroke-width="12.4"/>
<path d="M509.5 754.9h0" stroke="#16ffe1" stroke-width="12.4"/>
<path d="M234.3 1013.3h0" stroke="#d1ff26" stroke-width="12.4"/>
<path d="M386.8 854.2h0" stroke="#8dff6a" stroke-width="12.4"/>
<path d="M715.2 568.9h0" stroke="#0000ff" stroke-width="12.4"/>
<path d="M564.7 723.5h0" stroke="#0028ff" stroke-width="12.4"/>
<path d="M471.4 799.4h0" stroke="#26ffd1" stroke-width="12.4"/>
<path d="M553.2 708.6h0" stroke="#0080ff" stroke-width="12.4"/>
<path d="M465.9 775.4h0" stroke="#00a8ff" stroke-width="12.4"/>
<path d="M566.6 710.6h0" stroke="#0068ff" stroke-width="12.4"/>
<path d="M450 816.5h0" stroke="#c1ff36" stroke-width="12.4"/>
<path d="M605.6 669.5h0" stroke="#0054ff" stroke-width="12.4"/>
<path d="M595.4 690.8h0M470.2 818.1h0" stroke="#0028ff" stroke-width="12.4"/>
<path d="M234.6 1009.9h0" stroke="#ffe600" stroke-width="12.4"/>
<path d="M350.1 892.4h0" stroke="#ffbd00" stroke-width="12.4"/>
<path d="M271.2 982.2h0" stroke="#ffd000" stroke-width="12.4"/>
<path d="M557.2 682.5h0" stroke="#0000f6" stroke-width="12.4"/>
<path d="M475.7 811.9h0" stroke="#0014ff" stroke-width="12.4"/>
<path d="M373 884.2h0" stroke="#ff8200" stroke-width="12.4"/>
<path d="M415.1 842.9h0" stroke="#ffd000" stroke-width="12.4"/>
<path d="M213.7 1028.9h0" stroke="#9dff5a" stroke-width="12.4"/>
<path d="M386.9 893.8h0" stroke="#0054ff" stroke-width="12.4"/>
<path d="M470.8 785.8h0" stroke="#6aff8d" stroke-width="12.4"/>
<path d="M200.9 1042.3h0" stroke="#36ffc1" stroke-width="12.4"/>
<path d="M305.8 954.2h0" stroke="#e4ff13" stroke-width="12.4"/>
<path d="M708.4 558.3h0" stroke="#0000df" stroke-width="12.4"/>
<path d="M564.5 729.8h0" stroke="#0000ff" stroke-width="12.4"/>
<path d="M205.4 1032.5h0" stroke="#6aff8d" stroke-width="12.4"/>
<path d="M192.7 1046h0" stroke="#36ffc1" stroke-width="12.4"/>
<path d="M777 495.2h0" stroke="#0000ad" stroke-width="12.4"/>
<path d="M253.9 994.5h0" stroke="#ff8200" stroke-width="12.4"/>
<path d="M452 814.9h0" stroke="#b1ff46" stroke-width="12.4"/>
<path d="M192.7 1048.3h0" stroke="#36ffc1" stroke-width="12.4"/>
<path d="M473.3 780.7h0" stroke="#5aff9d" stroke-width="12.4"/>
<path d="M736.6 580h0" stroke="#000096" stroke-width="12.4"/>
<path d="M341.6 894.7h0" stroke="#7dff7a" stroke-width="12.4"/>
<path d="M518.5 764h0" stroke="#0080ff" stroke-width="12.4"/>
<path d="M248.3 992h0" stroke="#ff8200" stroke-width="12.4"/>
<path d="M594 678.8h0" stroke="#0068ff" stroke-width="12.4"/>
<path d="M732.7 550.4h0" stroke="#0000df" stroke-width="12.4"/>
<path d="M379.8 854.9h0" stroke="#00d4ff" stroke-width="12.4"/>
<path d="M627 649.8h0" stroke="#0028ff" stroke-width="12.4"/>
<path d="M445.3 819.8h0" stroke="#b1ff46" stroke-width="12.4"/>
<path d="M560.8 703.3h0" stroke="#0080ff" stroke-width="12.4"/>
<path d="M600.9 641.5h0" stroke="#0000c8" stroke-width="12.4"/>
<path d="M490.7 786.2h0" stroke="#00d4ff" stroke-width="12.4"/>
<path d="M705 556h0" stroke="#0000df" stroke-width="12.4"/>
<path d="M620.3 670.1h0" stroke="#0000ff" stroke-width="12.4"/>
<path d="M473.3 799.1h0" stroke="#16ffe1" stroke-width="12.4"/>
<path d="M384.4 858.8h0" stroke="#d1ff26" stroke-width="12.4"/>
<path d="M477.3 795.4h0" stroke="#26ffd1" stroke-width="12.4"/>
<path d="M467.9 793.8h0" stroke="#7dff7a" stroke-width="12.4"/>
<path d="M491.3 770.4h0" stroke="#5aff9d" stroke-width="12.4"/>
<path d="M234.7 1007.9h0" stroke="#ffd000" stroke-width="12.4"/>
<path d="M623.1 627.1h0" stroke="#0000f6" stroke-width="12.4"/>
<path d="M205.2 1039h0" stroke="#5aff9d" stroke-width="12.4"/>
<path d="M185.4 1054.7h0" stroke="#0068ff" stroke-width="12.4"/>
<path d="M355.6 914.1h0" stroke="#26ffd1" stroke-width="12.4"/>
<path d="M289.8 964.4h0" stroke="#ff8200" stroke-width="12.4"/>
<path d="M863.3 439.9h0" stroke="#000080" stroke-width="12.4"/>
<path d="M322.9 933.6h0" stroke="#ff1e00" stroke-width="12.4"/>
<path d="M354.5 888.8h0" stroke="#ffab00" stroke-width="12.4"/>
<path d="M210.5 1030h0" stroke="#c1ff36" stroke-width="12.4"/>
<path d="M475.1 756h0" stroke="#0000f6" stroke-width="12.4"/>
<path d="M546 716.1h0" stroke="#00c0ff" stroke-width="12.4"/>
<path d="M839.6 482.2h0" stroke="#000080" stroke-width="12.4"/>
<path d="M546.3 696.5h0" stroke="#0000ff" stroke-width="12.4"/>
<path d="M531.8 736h0" stroke="#00d4ff" stroke-width="12.4"/>
<path d="M184.6 1054.1h0" stroke="#0080ff" stroke-width="12.4"/>
<path d="M308.5 947.1h0" stroke="#ff4700" stroke-width="12.4"/>
<path d="M292.3 960.6h0" stroke="#ff6f00" stroke-width="12.4"/>
<path d="M364.9 902.3h0" stroke="#9dff5a" stroke-width="12.4"/>
<path d="M467.7 813.8h0" stroke="#0094ff" stroke-width="12.4"/>
<path d="M312.5 929.2h0" stroke="#ff6f00" stroke-width="12.4"/>
<path d="M520.8 717.6h0" stroke="#0000ff" stroke-width="12.4"/>
<path d="M296.4 956.1h0" stroke="#f60b00" stroke-width="12.4"/>
<path d="M658.4 604.2h0" stroke="#0014ff" stroke-width="12.4"/>
<path d="M430.7 803.8h0" stroke="#0080ff" stroke-width="12.4"/>
<path d="M305 937.1h0" stroke="#960000" stroke-width="12.4"/>
<path d="M682.6 629.4h0" stroke="#0000ad" stroke-width="12.4"/>
<path d="M624.1 652.7h0" stroke="#0028ff" stroke-width="12.4"/>
<path d="M546.2 725.3h0M438.7 802h0" stroke="#00d4ff" stroke-width="12.4"/>
<path d="M320.3 936.4h0" stroke="#ff4700" stroke-width="12.4"/>
<path d="M418.5 852.7h0" stroke="#6aff8d" stroke-width="12.4"/>
<path d="M821.9 467.3h0" stroke="#0000ad" stroke-width="12.4"/>
<path d="M739.5 538.6h0" stroke="#0000df" stroke-width="12.4"/>
<path d="M316.8 919.6h0" stroke="#e4ff13" stroke-width="12.4"/>
<path d="M480.2 792.9h0" stroke="#26ffd1" stroke-width="12.4"/>
<path d="M315 936.2h0" stroke="#c40000" stroke-width="12.4"/>
<path d="M430.4 833.5h0" stroke="#c1ff36" stroke-width="12.4"/>
<path d="M263.5 985.5h0" stroke="#ff9400" stroke-width="12.4"/>
<path d="M713.3 571.1h0" stroke="#0000ff" stroke-width="12.4"/>
<path d="M460.7 789.4h0" stroke="#6aff8d" stroke-width="12.4"/>
<path d="M528.5 724.4h0" stroke="#0080ff" stroke-width="12.4"/>
<path d="M518.1 729.4h0" stroke="#0068ff" stroke-width="12.4"/>
<path d="M446.1 832.8h0" stroke="#00c0ff" stroke-width="12.4"/>
<path d="M657.4 617.7h0" stroke="#0028ff" stroke-width="12.4"/>
<path d="M381.5 894.5h0" stroke="#00a8ff" stroke-width="12.4"/>
<path d="M658.6 600.6h0" stroke="#0000ff" stroke-width="12.4"/>
<path d="M771.5 523.3h0" stroke="#0000df" stroke-width="12.4"/>
<path d="M481.8 798.8h0" stroke="#0094ff" stroke-width="12.4"/>
<path d="M389.1 855.9h0" stroke="#f4f802" stroke-width="12.4"/>
<path d="M415.1 831.8h0" stroke="#b1ff46" stroke-width="12.4"/>
<path d="M369.3 876.1h0" stroke="#ffbd00" stroke-width="12.4"/>
<path d="M224.9 1017.7h0" stroke="#f4f802" stroke-width="12.4"/>
<path d="M454.8 797.6h0" stroke="#6aff8d" stroke-width="12.4"/>
<path d="M415.6 842.6h0" stroke="#ffd000" stroke-width="12.4"/>
<path d="M231.2 1015.6h0" stroke="#c1ff36" stroke-width="12.4"/>
<path d="M419.4 821.9h0" stroke="#49ffad" stroke-width="12.4"/>
<path d="M493 762.6h0" stroke="#26ffd1" stroke-width="12.4"/>
<path d="M756.3 523.6h0" stroke="#0000c8" stroke-width="12.4"/>
<path d="M536.6 728.7h0" stroke="#00c0ff" stroke-width="12.4"/>
<path d="M445.8 791.3h0M317.9 910.6h0" stroke="#0094ff" stroke-width="12.4"/>
<path d="M421.6 830.5h0" stroke="#f4f802" stroke-width="12.4"/>
<path d="M468.3 798h0" stroke="#5aff9d" stroke-width="12.4"/>
<path d="M370.3 875.1h0" stroke="#ffbd00" stroke-width="12.4"/>
<path d="M400.5 828.6h0" stroke="#0040ff" stroke-width="12.4"/>
<path d="M243.1 1004.6h0" stroke="#ffbd00" stroke-width="12.4"/>
<path d="M200.1 1038.3h0" stroke="#6aff8d" stroke-width="12.4"/>
<path d="M479.9 788h0M396.8 875.7h0" stroke="#49ffad" stroke-width="12.4"/>
<path d="M568.7 711.7h0" stroke="#0054ff" stroke-width="12.4"/>
<path d="M459.4 808.5h0" stroke="#5aff9d" stroke-width="12.4"/>
<path d="M196.5 1045.7h0" stroke="#49ffad" stroke-width="12.4"/>
<path d="M333.7 922.1h0" stroke="#ff4700" stroke-width="12.4"/>
<path d="M337.2 899.6h0" stroke="#6aff8d" stroke-width="12.4"/>
<path d="M300.7 943.8h0" stroke="#ff1e00" stroke-width="12.4"/>
<path d="M621.2 668.9h0" stroke="#0000ff" stroke-width="12.4"/>
<path d="M237.1 1003.1h0" stroke="#ff5900" stroke-width="12.4"/>
<path d="M232.4 1006.2h0" stroke="#f4f802" stroke-width="12.4"/>
<path d="M390.8 863.3h0" stroke="#ff3400" stroke-width="12.4"/>
<path d="M376.9 868h0" stroke="#ffbd00" stroke-width="12.4"/>
<path d="M434.5 814.5h0" stroke="#b1ff46" stroke-width="12.4"/>
<path d="M457.2 784.5h0" stroke="#00d4ff" stroke-width="12.4"/>
<path d="M342.6 900.8h0M395.6 865.9h0" stroke="#ff9400" stroke-width="12.4"/>
<path d="M343.7 896.7h0" stroke="#f4f802" stroke-width="12.4"/>
<path d="M297.3 949h0" stroke="#800000" stroke-width="12.4"/>
<path d="M385.1 884.3h0" stroke="#7dff7a" stroke-width="12.4"/>
<path d="M759.3 581.2h0" stroke="#000080" stroke-width="12.4"/>
<path d="M420.7 838.7h0" stroke="#ffab00" stroke-width="12.4"/>
<path d="M297.7 947.9h0" stroke="#ad0000" stroke-width="12.4"/>
<path d="M778.2 544.2h0" stroke="#000096" stroke-width="12.4"/>
<path d="M391.4 880.4h0" stroke="#49ffad" stroke-width="12.4"/>
<path d="M389.8 842h0" stroke="#0068ff" stroke-width="12.4"/>
<path d="M257.1 989h0" stroke="#ff4700" stroke-width="12.4"/>
<path d="M497.5 777.8h0" stroke="#02e8f4" stroke-width="12.4"/>
<path d="M451.7 795.3h0" stroke="#36ffc1" stroke-width="12.4"/>
<path d="M459.4 815.8h0" stroke="#26ffd1" stroke-width="12.4"/>
<path d="M660.8 610h0" stroke="#0028ff" stroke-width="12.4"/>
<path d="M245.7 1001.1h0" stroke="#ff9400" stroke-width="12.4"/>
<path d="M320.9 923h0" stroke="#960000" stroke-width="12.4"/>
<path d="M607.5 684.1h0" stroke="#0000ff" stroke-width="12.4"/>
<path d="M500.5 765.1h0" stroke="#36ffc1" stroke-width="12.4"/>
<path d="M520.7 749.8h0" stroke="#00d4ff" stroke-width="12.4"/>
<path d="M268.3 980.8h0" stroke="#ff3400" stroke-width="12.4"/>
<path d="M652.5 622.1h0" stroke="#0028ff" stroke-width="12.4"/>
<path d="M399.6 871.2h0" stroke="#6aff8d" stroke-width="12.4"/>
<path d="M211.6 1030h0" stroke="#b1ff46" stroke-width="12.4"/>
<path d="M700 578.1h0" stroke="#0000ff" stroke-width="12.4"/>
<path d="M378.6 883.8h0" stroke="#ffbd00" stroke-width="12.4"/>
<path d="M320.4 932.6h0" stroke="#ad0000" stroke-width="12.4"/>
<path d="M262.1 986.2h0" stroke="#ff9400" stroke-width="12.4"/>
<path d="M568.4 678.9h0" stroke="#0028ff" stroke-width="12.4"/>
<path d="M272.3 976h0" stroke="#f60b00" stroke-width="12.4"/>
<path d="M304.9 931.1h0" stroke="#f4f802" stroke-width="12.4"/>
<path d="M708 537.4h0" stroke="#0000ad" stroke-width="12.4"/>
<path d="M470.5 762.7h0" stroke="#0028ff" stroke-width="12.4"/>
<path d="M385.2 844.7h0" stroke="#0080ff" stroke-width="12.4"/>
<path d="M270.8 966.5h0" stroke="#ffbd00" stroke-width="12.4"/>
<path d="M659.3 620.6h0" stroke="#0028ff" stroke-width="12.4"/>
<path d="M428.7 838.7h0" stroke="#9dff5a" stroke-width="12.4"/>
<path d="M352.7 893.1h0" stroke="#ff8200" stroke-width="12.4"/>
<path d="M444.2 825.1h0" stroke="#7dff7a" stroke-width="12.4"/>
<path d="M470.8 779.9h0" stroke="#36ffc1" stroke-width="12.4"/>
<path d="M582.9 691.1h0M532.4 721.6h0" stroke="#0080ff" stroke-width="12.4"/>
<path d="M402.5 852.5h0" stroke="#ff8200" stroke-width="12.4"/>
<path d="M287.7 945.9h0" stroke="#d1ff26" stroke-width="12.4"/>
<path d="M561.9 708.9h0" stroke="#0080ff" stroke-width="12.4"/>
<path d="M532.1 738.5h0" stroke="#00d4ff" stroke-width="12.4"/>
<path d="M686.1 603.8h0" stroke="#0000ff" stroke-width="12.4"/>
<path d="M559 731.4h0" stroke="#0028ff" stroke-width="12.4"/>
<path d="M241.7 996.7h0" stroke="#ffab00" stroke-width="12.4"/>
<path d="M633.7 626.9h0" stroke="#0014ff" stroke-width="12.4"/>
<path d="M340.2 899.5h0" stroke="#d1ff26" stroke-width="12.4"/>
<path d="M203.6 1033.6h0" stroke="#6aff8d" stroke-width="12.4"/>
<path d="M455.5 803.6h0" stroke="#8dff6a" stroke-width="12.4"/>
<path d="M396.7 844h0" stroke="#5aff9d" stroke-width="12.4"/>
<path d="M332.6 918.2h0" stroke="#df0000" stroke-width="12.4"/>
<path d="M365.4 890.2h0" stroke="#ad0000" stroke-width="12.4"/>
<path d="M320.3 915.8h0" stroke="#9dff5a" stroke-width="12.4"/>
<path d="M478.4 781.9h0" stroke="#6aff8d" stroke-width="12.4"/>
<path d="M247.3 998.6h0" stroke="#ff9400" stroke-width="12.4"/>
<path d="M333.9 910.1h0" stroke="#ff1e00" stroke-width="12.4"/>
<path d="M798.3 504.3h0" stroke="#0000ad" stroke-width="12.4"/>
<path d="M585.4 681.3h0" stroke="#0068ff" stroke-width="12.4"/>
<path d="M280.5 963h0" stroke="#800000" stroke-width="12.4"/>
<path d="M304.2 934.4h0" stroke="#ff6f00" stroke-width="12.4"/>
<path d="M454.2 820.6h0" stroke="#36ffc1" stroke-width="12.4"/>
<path d="M337.5 925.7h0" stroke="#c1ff36" stroke-width="12.4"/>
<path d="M371.3 888.3h0" stroke="#ff8200" stroke-width="12.4"/>
<path d="M424 818.4h0" stroke="#36ffc1" stroke-width="12.4"/>
<path d="M566.1 685.1h0" stroke="#0040ff" stroke-width="12.4"/>
<path d="M302.7 952h0" stroke="#ff4700" stroke-width="12.4"/>
<path d="M351.3 909.4h0" stroke="#ffbd00" stroke-width="12.4"/>
<path d="M439.8 796.1h0" stroke="#0094ff" stroke-width="12.4"/>
<path d="M398.8 862.1h0" stroke="#ffd000" stroke-width="12.4"/>
<path d="M321.3 932.3h0" stroke="#ad0000" stroke-width="12.4"/>
<path d="M544.6 707.4h0" stroke="#0054ff" stroke-width="12.4"/>
<path d="M716.5 564.7h0" stroke="#0000f6" stroke-width="12.4"/>
<path d="M208.9 1031.1h0" stroke="#b1ff46" stroke-width="12.4"/>
<path d="M684 583.4h0" stroke="#0000ff" stroke-width="12.4"/>
<path d="M382.5 861h0" stroke="#e4ff13" stroke-width="12.4"/>
<path d="M431.3 814.6h0" stroke="#7dff7a" stroke-width="12.4"/>
<path d="M546.9 712h0" stroke="#0094ff" stroke-width="12.4"/>
<path d="M188.6 1049.8h0" stroke="#16ffe1" stroke-width="12.4"/>
<path d="M251.6 989.8h0" stroke="#c40000" stroke-width="12.4"/>
<path d="M382.3 868.9h0" stroke="#ff9400" stroke-width="12.4"/>
<path d="M226.1 1016.1h0" stroke="#ffe600" stroke-width="12.4"/>
<path d="M352.9 902.1h0" stroke="#c40000" stroke-width="12.4"/>
<path d="M422.7 826.9h0" stroke="#d1ff26" stroke-width="12.4"/>
<path d="M702.2 575h0" stroke="#0000ff" stroke-width="12.4"/>
<path d="M429.6 841.8h0" stroke="#6aff8d" stroke-width="12.4"/>
<path d="M518.2 755.7h0" stroke="#00d4ff" stroke-width="12.4"/>
<path d="M541.4 767.5h0" stroke="#000096" stroke-width="12.4"/>
<path d="M224.4 1013.7h0" stroke="#ffab00" stroke-width="12.4"/>
<path d="M636.1 635h0" stroke="#0028ff" stroke-width="12.4"/>
<path d="M240.2 1005.1h0" stroke="#ff9400" stroke-width="12.4"/>
<path d="M402 869.2h0" stroke="#6aff8d" stroke-width="12.4"/>
<path d="M599.1 654.5h0" stroke="#0000ff" stroke-width="12.4"/>
<path d="M401.6 856.2h0" stroke="#ffbd00" stroke-width="12.4"/>
<path d="M459.1 791.3h0" stroke="#6aff8d" stroke-width="12.4"/>
<path d="M514.5 777.6h0" stroke="#0000ff" stroke-width="12.4"/>
<path d="M371.1 875.5h0" stroke="#ff9400" stroke-width="12.4"/>
<path d="M232.7 1014.1h0" stroke="#d1ff26" stroke-width="12.4"/>
<path d="M286.2 966.7h0" stroke="#ff5900" stroke-width="12.4"/>
<path d="M442.8 823.4h0" stroke="#9dff5a" stroke-width="12.4"/>
<path d="M310.9 940.4h0" stroke="#800000" stroke-width="12.4"/>
<path d="M586 699.5h0" stroke="#0028ff" stroke-width="12.4"/>
<path d="M204.2 1035.9h0" stroke="#7dff7a" stroke-width="12.4"/>
<path d="M490 774.3h0" stroke="#5aff9d" stroke-width="12.4"/>
<path d="M264.6 984.8h0" stroke="#ff8200" stroke-width="12.4"/>
<path d="M229.5 1013.6h0" stroke="#ffe600" stroke-width="12.4"/>
<path d="M478.6 781h0" stroke="#6aff8d" stroke-width="12.4"/>
<path d="M399.7 856.5h0" stroke="#ffbd00" stroke-width="12.4"/>
<path d="M316.8 937.8h0" stroke="#f60b00" stroke-width="12.4"/>
<path d="M418.4 832.3h0" stroke="#f4f802" stroke-width="12.4"/>
<path d="M466 823h0" stroke="#0028ff" stroke-width="12.4"/>
<path d="M690 593.2h0" stroke="#0000ff" stroke-width="12.4"/>
<path d="M385.5 870.9h0" stroke="#ff9400" stroke-width="12.4"/>
<path d="M379.2 874.6h0" stroke="#ff3400" stroke-width="12.4"/>
<path d="M342.3 900.5h0" stroke="#ffbd00" stroke-width="12.4"/>
<path d="M366.2 879.8h0" stroke="#ffab00" stroke-width="12.4"/>
<path d="M383.3 872.4h0" stroke="#ff8200" stroke-width="12.4"/>
<path d="M747.2 548.4h0" stroke="#0000df" stroke-width="12.4"/>
<path d="M297.1 945.3h0" stroke="#ff3400" stroke-width="12.4"/>
<path d="M432.8 824.8h0" stroke="#f4f802" stroke-width="12.4"/>
<path d="M454.4 794.4h0" stroke="#49ffad" stroke-width="12.4"/>
<path d="M432.9 812.4h0" stroke="#7dff7a" stroke-width="12.4"/>
<path d="M486.6 778.7h0" stroke="#6aff8d" stroke-width="12.4"/>
<path d="M340.2 908h0" stroke="#ff4700" stroke-width="12.4"/>
<path d="M463 771.2h0" stroke="#0028ff" stroke-width="12.4"/>
<path d="M250.5 994.5h0" stroke="#ff6f00" stroke-width="12.4"/>
<path d="M549 716.1h0" stroke="#00a8ff" stroke-width="12.4"/>
<path d="M359.8 889.7h0" stroke="#df0000" stroke-width="12.4"/>
<path d="M224.2 1011.5h0" stroke="#ffd000" stroke-width="12.4"/>
<path d="M684.8 611.9h0" stroke="#0000f6" stroke-width="12.4"/>
<path d="M246.7 998.3h0" stroke="#ff9400" stroke-width="12.4"/>
<path d="M415.4 856.7h0" stroke="#5aff9d" stroke-width="12.4"/>
<path d="M431.7 831.2h0" stroke="#d1ff26" stroke-width="12.4"/>
<path d="M415 847.9h0" stroke="#e4ff13" stroke-width="12.4"/>
<path d="M299.9 946.7h0" stroke="#df0000" stroke-width="12.4"/>
<path d="M420.2 826.8h0" stroke="#c1ff36" stroke-width="12.4"/>
<path d="M424.4 844.8h0" stroke="#8dff6a" stroke-width="12.4"/>
<path d="M330 912h0" stroke="#ff6f00" stroke-width="12.4"/>
<path d="M284.8 960.3h0" stroke="#df0000" stroke-width="12.4"/>
<path d="M258 981h0" stroke="#ffbd00" stroke-width="12.4"/>
<path d="M379.7 887.2h0" stroke="#9dff5a" stroke-width="12.4"/>
<path d="M378.7 879.5h0" stroke="#ff4700" stroke-width="12.4"/>
<path d="M256.8 977h0" stroke="#b1ff46" stroke-width="12.4"/>
<path d="M468.5 811.9h0" stroke="#0094ff" stroke-width="12.4"/>
<path d="M239.6 1002.2h0" stroke="#ff3400" stroke-width="12.4"/>
<path d="M267.9 974.4h0" stroke="#800000" stroke-width="12.4"/>
<path d="M676.1 599.8h0" stroke="#0014ff" stroke-width="12.4"/>
<path d="M483 764.4h0" stroke="#00d4ff" stroke-width="12.4"/>
<path d="M286.2 958.6h0" stroke="#ff1e00" stroke-width="12.4"/>
<path d="M318.6 935.1h0" stroke="#f60b00" stroke-width="12.4"/>
<path d="M307.9 941.7h0" stroke="#800000" stroke-width="12.4"/>
<path d="M354.5 886h0" stroke="#e4ff13" stroke-width="12.4"/>
<path d="M254.8 988.2h0" stroke="#df0000" stroke-width="12.4"/>
<path d="M363 902.2h0" stroke="#d1ff26" stroke-width="12.4"/>
<path d="M349.2 939h0" stroke="#000096" stroke-width="12.4"/>
<path d="M286.7 955.6h0" stroke="#ff4700" stroke-width="12.4"/>
<path d="M493.9 779.7h0" stroke="#26ffd1" stroke-width="12.4"/>
<path d="M700.1 553.6h0" stroke="#0000c8" stroke-width="12.4"/>
<path d="M396.3 850.9h0" stroke="#f4f802" stroke-width="12.4"/>
<path d="M251.5 997.5h0" stroke="#ffab00" stroke-width="12.4"/>
<path d="M292.2 950.4h0" stroke="#800000" stroke-width="12.4"/>
<path d="M469 798.1h0" stroke="#49ffad" stroke-width="12.4"/>
<path d="M290.5 958.7h0" stroke="#ff3400" stroke-width="12.4"/>
<path d="M263.1 978.8h0" stroke="#ff1e00" stroke-width="12.4"/>
<path d="M617 691.5h0" stroke="#0000ad" stroke-width="12.4"/>
<path d="M398.6 876.3h0" stroke="#02e8f4" stroke-width="12.4"/>
<path d="M548.6 697.3h0" stroke="#0014ff" stroke-width="12.4"/>
<path d="M325.7 913.4h0" stroke="#f4f802" stroke-width="12.4"/>
<path d="M363.5 901h0" stroke="#e4ff13" stroke-width="12.4"/>
<path d="M439.3 819.7h0" stroke="#d1ff26" stroke-width="12.4"/>
<path d="M367.1 899.7h0" stroke="#b1ff46" stroke-width="12.4"/>
<path d="M434.3 823.1h0" stroke="#f4f802" stroke-width="12.4"/>
<path d="M741 521.1h0" stroke="#0000ad" stroke-width="12.4"/>
<path d="M276.3 971.8h0" stroke="#ff4700" stroke-width="12.4"/>
<path d="M442.4 832.6h0" stroke="#26ffd1" stroke-width="12.4"/>
<path d="M554.7 723.2h0" stroke="#0094ff" stroke-width="12.4"/>
<path d="M388.8 877.9h0" stroke="#c1ff36" stroke-width="12.4"/>
<path d="M245.1 995.7h0" stroke="#ffab00" stroke-width="12.4"/>
<path d="M814.4 463.4h0" stroke="#0000ad" stroke-width="12.4"/>
<path d="M685.7 589.1h0" stroke="#0000ff" stroke-width="12.4"/>
<path d="M521.2 756.9h0" stroke="#00a8ff" stroke-width="12.4"/>
<path d="M343.2 913.8h0" stroke="#ff3400" stroke-width="12.4"/>
<path d="M359 896.7h0" stroke="#ff5900" stroke-width="12.4"/>
<path d="M653.1 637h0" stroke="#0000ff" stroke-width="12.4"/>
<path d="M266.7 975.4h0" stroke="#800000" stroke-width="12.4"/>
<path d="M197.4 1042.1h0" stroke="#5aff9d" stroke-width="12.4"/>
</g>
<path d="M356 144.0V1068.0M537 144.0V1068.0M718 144.0V1068.0M898 144.0V1068.0M1079 144.0V1068.0M175.0 914H1260.0M175.0 760H1260.0M175.0 606H1260.0M175.0 452H1260.0M175.0 298H1260.0" stroke="#b0b0b0" stroke-width="2.22" fill="none"/>
<g clip-path="url(#c)" stroke="#000" stroke-width="4.17" fill="none"><path d="M175.00 1062.61L1260.00 62.47" stroke-linecap="square"/><path d="M175.00 1068.00L1260.00 144.00" stroke-dasharray="15.42 6.67"/></g>
<rect x="795.3" y="821.5" width="440.5" height="227.1" rx="5.6" ry="5.6" fill="#f5deb3" fill-opacity="0.6" stroke="#000" stroke-opacity="0.6" stroke-width="2.78"/>
<rect x="175.0" y="144.0" width="1085.0" height="924.0" fill="none" stroke="#000" stroke-width="2.22"/>
<path d="M175 1068.0v10M356 1068.0v10M537 1068.0v10M718 1068.0v10M898 1068.0v10M1079 1068.0v10M1260 1068.0v10M175.0 1068h-10M175.0 914h-10M175.0 760h-10M175.0 606h-10M175.0 452h-10M175.0 298h-10M175.0 144h-10" stroke="#000" stroke-width="2.22" fill="none"/>
<g style="opacity:0.999"><text x="175.00" y="1108.6" text-anchor="middle">0</text><text x="355.83" y="1108.6" text-anchor="middle">10</text><text x="536.67" y="1108.6" text-anchor="middle">20</text><text x="717.50" y="1108.6" text-anchor="middle">30</text><text x="898.33" y="1108.6" text-anchor="middle">40</text><text x="1079.17" y="1108.6" text-anchor="middle">50</text><text x="1260.00" y="1108.6" text-anchor="middle">60</text>
<text x="155.7" y="1078.55" text-anchor="end">0</text><text x="155.7" y="924.55" text-anchor="end">10</text><text x="155.7" y="770.55" text-anchor="end">20</text><text x="155.7" y="616.55" text-anchor="end">30</text><text x="155.7" y="462.55" text-anchor="end">40</text><text x="155.7" y="308.55" text-anchor="end">50</text><text x="155.7" y="154.55" text-anchor="end">60</text>
<text x="717.6" y="1152.9" text-anchor="middle">aer15 [kg/m<tspan dy="-10.6" font-size="19.45">2</tspan><tspan dy="10.6">]</tspan></text>
<text transform="translate(98.8 607.0) rotate(-90)" text-anchor="middle">COWA [kg/m<tspan dy="-10.6" font-size="19.45">2</tspan><tspan dy="10.6">]</tspan></text>
<text x="1218.62" y="851.9" text-anchor="end">y = 1.08x + 0.35</text>
<text x="1225.35" y="885.7" text-anchor="end">r<tspan dy="-10.6" font-size="19.45">2</tspan><tspan dy="10.6"> = 0.98</tspan></text>
<text x="1225.35" y="924.8" text-anchor="end">bias = 1.57 [kg/m<tspan dy="-10.6" font-size="19.45">2</tspan><tspan dy="10.6">]</tspan></text>
<text x="1226.45" y="965.8" text-anchor="end">rmsd = 2.2 (1.3) [kg/m<tspan dy="-10.6" font-size="19.45">2</tspan><tspan dy="10.6">] 8.1%</tspan></text>
<text x="1218.62" y="1002.0" text-anchor="end">n valid = 37864</text>
<text x="1227.45" y="1033.6" text-anchor="end">n matchups = 328792</text>
</g>
</svg>
</body></html>
